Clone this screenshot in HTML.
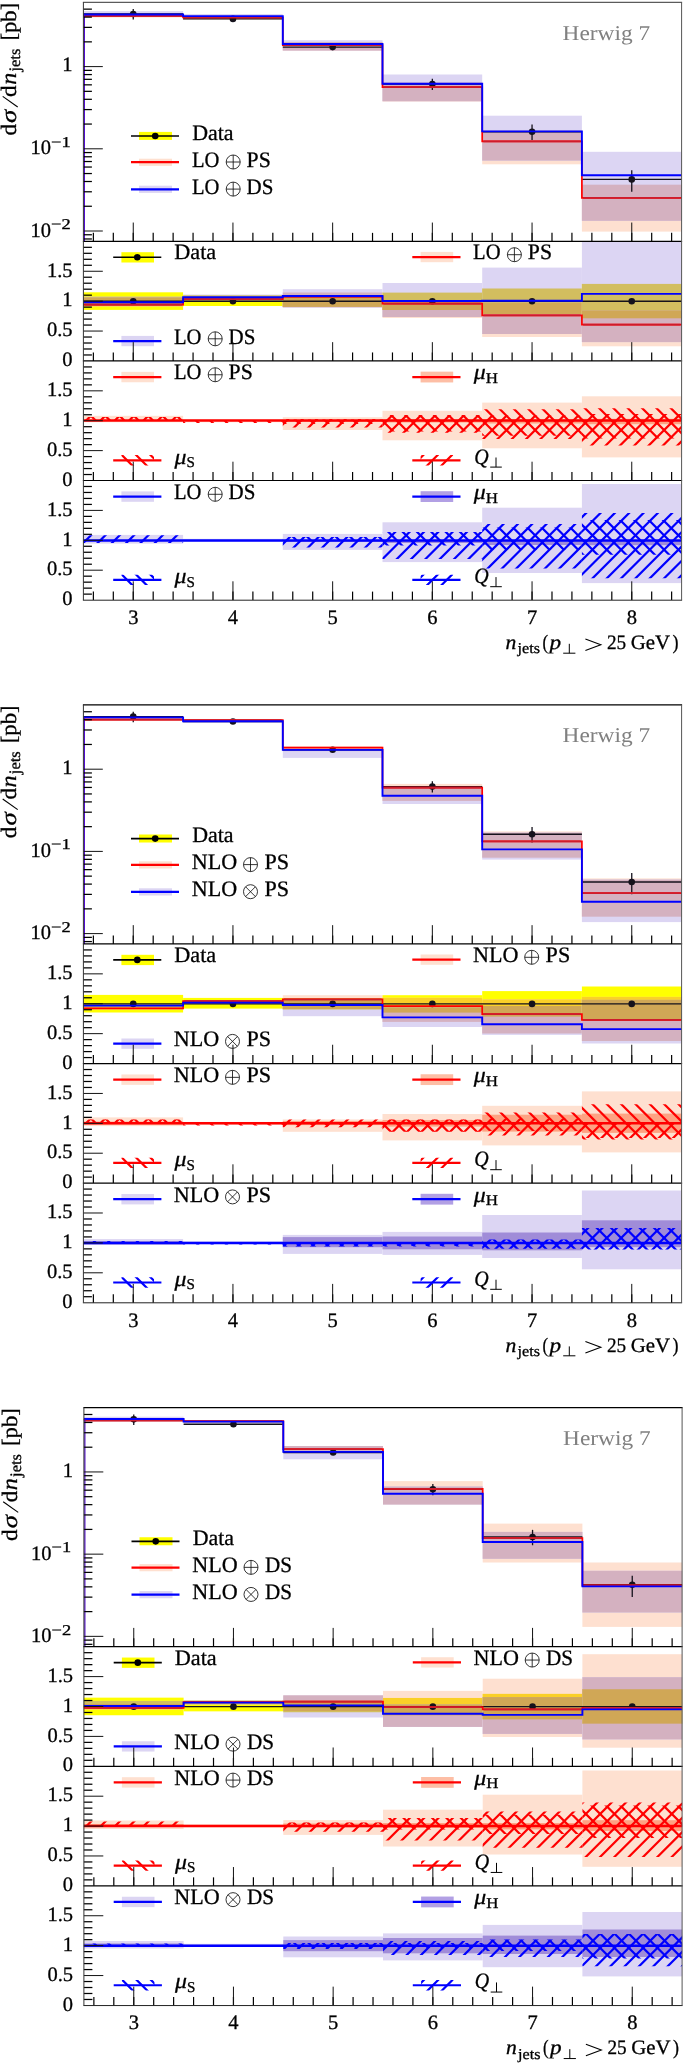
<!DOCTYPE html>
<html><head><meta charset="utf-8"><title>Herwig 7 jet multiplicity</title>
<style>html,body{margin:0;padding:0;background:#fff;}body{width:685px;height:2063px;overflow:hidden;font-family:"Liberation Serif",serif;}svg{display:block;will-change:transform;}</style></head>
<body>
<svg width="685" height="2063" viewBox="0 0 685 2063" font-family="'Liberation Serif', serif" text-rendering="geometricPrecision">
<rect x="0" y="0" width="685" height="2063" fill="#fff"/>
<g transform="translate(0,0)">
<rect x="83.4" y="13.5" width="99.7" height="4" fill="rgb(254,224,208)"/>
<rect x="83.4" y="11.1" width="99.7" height="5.9" fill="rgb(220,213,243)"/>
<rect x="83.4" y="13.5" width="99.7" height="3.5" fill="rgb(212,177,192)"/>
<rect x="183.1" y="16.5" width="99.7" height="3.3" fill="rgb(254,224,208)"/>
<rect x="183.1" y="14" width="99.7" height="5" fill="rgb(220,213,243)"/>
<rect x="183.1" y="16.5" width="99.7" height="2.5" fill="rgb(212,177,192)"/>
<rect x="282.8" y="42" width="99.7" height="9" fill="rgb(254,224,208)"/>
<rect x="282.8" y="40.2" width="99.7" height="10.3" fill="rgb(220,213,243)"/>
<rect x="282.8" y="42" width="99.7" height="8.5" fill="rgb(212,177,192)"/>
<rect x="382.5" y="82.5" width="99.7" height="19.1" fill="rgb(254,224,208)"/>
<rect x="382.5" y="74.5" width="99.7" height="26.7" fill="rgb(220,213,243)"/>
<rect x="382.5" y="82.5" width="99.7" height="18.7" fill="rgb(212,177,192)"/>
<rect x="482.2" y="130.5" width="99.7" height="33.8" fill="rgb(254,224,208)"/>
<rect x="482.2" y="115.7" width="99.7" height="44.9" fill="rgb(220,213,243)"/>
<rect x="482.2" y="130.5" width="99.7" height="30.1" fill="rgb(212,177,192)"/>
<rect x="581.9" y="184.7" width="99.7" height="46.9" fill="rgb(254,224,208)"/>
<rect x="581.9" y="151.8" width="99.7" height="69" fill="rgb(220,213,243)"/>
<rect x="581.9" y="184.7" width="99.7" height="36.1" fill="rgb(212,177,192)"/>
<line x1="83.4" y1="14" x2="183.1" y2="14" stroke="#15121c" stroke-width="1.4"/>
<line x1="133.25" y1="9.1" x2="133.25" y2="19.6" stroke="#15121c" stroke-width="1.3"/>
<circle cx="133.25" cy="14" r="3.3" fill="#15121c"/>
<line x1="183.1" y1="18.9" x2="282.8" y2="18.9" stroke="#15121c" stroke-width="1.4"/>
<line x1="232.95" y1="16.5" x2="232.95" y2="21.5" stroke="#15121c" stroke-width="1.3"/>
<circle cx="232.95" cy="18.9" r="3.3" fill="#15121c"/>
<line x1="282.8" y1="47.1" x2="382.5" y2="47.1" stroke="#15121c" stroke-width="1.4"/>
<line x1="332.65" y1="45.3" x2="332.65" y2="49" stroke="#15121c" stroke-width="1.3"/>
<circle cx="332.65" cy="47.1" r="3.3" fill="#15121c"/>
<line x1="382.5" y1="84" x2="482.2" y2="84" stroke="#15121c" stroke-width="1.4"/>
<line x1="432.35" y1="78.7" x2="432.35" y2="90" stroke="#15121c" stroke-width="1.3"/>
<circle cx="432.35" cy="84" r="3.3" fill="#15121c"/>
<line x1="482.2" y1="131.7" x2="581.9" y2="131.7" stroke="#15121c" stroke-width="1.4"/>
<line x1="532.05" y1="124.5" x2="532.05" y2="139.9" stroke="#15121c" stroke-width="1.3"/>
<circle cx="532.05" cy="131.7" r="3.3" fill="#15121c"/>
<line x1="581.9" y1="179.4" x2="681.6" y2="179.4" stroke="#15121c" stroke-width="1.4"/>
<line x1="631.75" y1="170.3" x2="631.75" y2="191.7" stroke="#15121c" stroke-width="1.3"/>
<circle cx="631.75" cy="179.4" r="3.3" fill="#15121c"/>
<path d="M83.4 15.9L83.4 15.9L183.1 15.9L183.1 17.5L282.8 17.5L282.8 45.2L382.5 45.2L382.5 87.1L482.2 87.1L482.2 141.4L581.9 141.4L581.9 197.9L681.6 197.9" fill="none" stroke="#ff0000" stroke-width="1.7" stroke-linejoin="miter"/>
<line x1="84.6" y1="15.9" x2="181.9" y2="15.9" stroke="rgb(206,28,44)" stroke-width="1.7"/>
<line x1="184.3" y1="17.5" x2="281.6" y2="17.5" stroke="rgb(206,28,44)" stroke-width="1.7"/>
<line x1="284" y1="45.2" x2="381.3" y2="45.2" stroke="rgb(206,28,44)" stroke-width="1.7"/>
<line x1="383.7" y1="87.1" x2="481" y2="87.1" stroke="rgb(206,28,44)" stroke-width="1.7"/>
<line x1="483.4" y1="141.4" x2="580.7" y2="141.4" stroke="rgb(206,28,44)" stroke-width="1.7"/>
<line x1="583.1" y1="197.9" x2="680.4" y2="197.9" stroke="rgb(206,28,44)" stroke-width="1.7"/>
<path d="M83.4 14.5L83.4 14.5L183.1 14.5L183.1 16.1L282.8 16.1L282.8 44L382.5 44L382.5 83.8L482.2 83.8L482.2 131.4L581.9 131.4L581.9 175.3L681.6 175.3" fill="none" stroke="#0000ff" stroke-width="1.9" stroke-linejoin="miter"/>
<line x1="84.35" y1="14.5" x2="84.35" y2="241.35" stroke="#4a00d0" stroke-width="1.2"/>
<rect x="139" y="131.9" width="33" height="8" fill="#ffff00"/>
<line x1="131" y1="136" x2="179" y2="136" stroke="#000" stroke-width="1.6"/>
<circle cx="155.2" cy="136" r="3.3" fill="#000"/>
<text x="192.2" y="139.8" font-size="22" textLength="41.4" lengthAdjust="spacingAndGlyphs" stroke="#000" stroke-width="0.3">Data</text>
<rect x="139" y="158.7" width="33" height="7.2" fill="rgb(254,224,208)"/>
<line x1="131" y1="162.2" x2="179" y2="162.2" stroke="#ff0000" stroke-width="2.2"/>
<text x="191.9" y="166.7" font-size="22" textLength="27.4" lengthAdjust="spacingAndGlyphs" stroke="#000" stroke-width="0.3">LO</text>
<circle cx="233.2" cy="162" r="7" fill="none" stroke="#111" stroke-width="0.85"/>
<line x1="226.2" y1="162" x2="240.2" y2="162" stroke="#111" stroke-width="0.85"/>
<line x1="233.2" y1="155" x2="233.2" y2="169" stroke="#111" stroke-width="0.85"/>
<text x="246.6" y="166.7" font-size="22" textLength="24.2" lengthAdjust="spacingAndGlyphs" stroke="#000" stroke-width="0.3">PS</text>
<rect x="139" y="185.7" width="33" height="7.2" fill="rgb(220,213,243)"/>
<line x1="131" y1="189.3" x2="179" y2="189.3" stroke="#0000ff" stroke-width="2.2"/>
<text x="191.9" y="193.8" font-size="22" textLength="27.4" lengthAdjust="spacingAndGlyphs" stroke="#000" stroke-width="0.3">LO</text>
<circle cx="233.2" cy="189.1" r="7" fill="none" stroke="#111" stroke-width="0.85"/>
<line x1="226.2" y1="189.1" x2="240.2" y2="189.1" stroke="#111" stroke-width="0.85"/>
<line x1="233.2" y1="182.1" x2="233.2" y2="196.1" stroke="#111" stroke-width="0.85"/>
<text x="246.6" y="193.8" font-size="22" textLength="26.8" lengthAdjust="spacingAndGlyphs" stroke="#000" stroke-width="0.3">DS</text>
<text x="650.2" y="39.6" font-size="21" text-anchor="end" fill="#808080" textLength="87.6" lengthAdjust="spacingAndGlyphs">Herwig 7</text>
<rect x="83.4" y="292.3" width="99.7" height="17.6" fill="rgb(255,255,0)"/>
<rect x="83.4" y="297.5" width="99.7" height="9" fill="rgb(254,224,208)"/>
<rect x="83.4" y="296.7" width="99.7" height="9.3" fill="rgb(220,213,243)"/>
<rect x="83.4" y="297.5" width="99.7" height="9" fill="rgb(250,208,40)"/>
<rect x="83.4" y="296.7" width="99.7" height="9.3" fill="rgb(210,190,95)"/>
<rect x="83.4" y="297.5" width="99.7" height="8.5" fill="rgb(212,177,192)"/>
<rect x="83.4" y="297.5" width="99.7" height="8.5" fill="rgb(208,167,86)"/>
<rect x="183.1" y="295.3" width="99.7" height="10.7" fill="rgb(255,255,0)"/>
<rect x="183.1" y="297" width="99.7" height="4.5" fill="rgb(254,224,208)"/>
<rect x="183.1" y="294.5" width="99.7" height="6" fill="rgb(220,213,243)"/>
<rect x="183.1" y="297" width="99.7" height="4.5" fill="rgb(250,208,40)"/>
<rect x="183.1" y="295.3" width="99.7" height="5.2" fill="rgb(210,190,95)"/>
<rect x="183.1" y="297" width="99.7" height="3.5" fill="rgb(212,177,192)"/>
<rect x="183.1" y="297" width="99.7" height="3.5" fill="rgb(208,167,86)"/>
<rect x="282.8" y="295.4" width="99.7" height="11.5" fill="rgb(255,255,0)"/>
<rect x="282.8" y="292.5" width="99.7" height="14.8" fill="rgb(254,224,208)"/>
<rect x="282.8" y="289.2" width="99.7" height="18.4" fill="rgb(220,213,243)"/>
<rect x="282.8" y="295.4" width="99.7" height="11.5" fill="rgb(250,208,40)"/>
<rect x="282.8" y="295.4" width="99.7" height="11.5" fill="rgb(210,190,95)"/>
<rect x="282.8" y="292.5" width="99.7" height="14.8" fill="rgb(212,177,192)"/>
<rect x="282.8" y="295.4" width="99.7" height="11.5" fill="rgb(208,167,86)"/>
<rect x="382.5" y="292.6" width="99.7" height="17.4" fill="rgb(255,255,0)"/>
<rect x="382.5" y="301.5" width="99.7" height="16.5" fill="rgb(254,224,208)"/>
<rect x="382.5" y="283" width="99.7" height="34" fill="rgb(220,213,243)"/>
<rect x="382.5" y="301.5" width="99.7" height="8.5" fill="rgb(250,208,40)"/>
<rect x="382.5" y="292.6" width="99.7" height="17.4" fill="rgb(210,190,95)"/>
<rect x="382.5" y="301.5" width="99.7" height="15.5" fill="rgb(212,177,192)"/>
<rect x="382.5" y="301.5" width="99.7" height="8.5" fill="rgb(208,167,86)"/>
<rect x="482.2" y="288.5" width="99.7" height="25.5" fill="rgb(255,255,0)"/>
<rect x="482.2" y="302.8" width="99.7" height="34.2" fill="rgb(254,224,208)"/>
<rect x="482.2" y="267.6" width="99.7" height="66.4" fill="rgb(220,213,243)"/>
<rect x="482.2" y="302.8" width="99.7" height="11.2" fill="rgb(250,208,40)"/>
<rect x="482.2" y="288.5" width="99.7" height="25.5" fill="rgb(210,190,95)"/>
<rect x="482.2" y="302.8" width="99.7" height="31.2" fill="rgb(212,177,192)"/>
<rect x="482.2" y="302.8" width="99.7" height="11.2" fill="rgb(208,167,86)"/>
<rect x="581.9" y="283.9" width="99.7" height="34.4" fill="rgb(255,255,0)"/>
<rect x="581.9" y="310.5" width="99.7" height="35.8" fill="rgb(254,224,208)"/>
<rect x="581.9" y="241.95" width="99.7" height="100.15" fill="rgb(220,213,243)"/>
<rect x="581.9" y="310.5" width="99.7" height="7.8" fill="rgb(250,208,40)"/>
<rect x="581.9" y="283.9" width="99.7" height="34.4" fill="rgb(210,190,95)"/>
<rect x="581.9" y="310.5" width="99.7" height="31.6" fill="rgb(212,177,192)"/>
<rect x="581.9" y="310.5" width="99.7" height="7.8" fill="rgb(208,167,86)"/>
<line x1="83.4" y1="301.3" x2="681.6" y2="301.3" stroke="#15121c" stroke-width="1.4"/>
<circle cx="133.25" cy="301.3" r="3.3" fill="#15121c"/>
<circle cx="232.95" cy="301.3" r="3.3" fill="#15121c"/>
<circle cx="332.65" cy="301.3" r="3.3" fill="#15121c"/>
<circle cx="432.35" cy="301.3" r="3.3" fill="#15121c"/>
<circle cx="532.05" cy="301.3" r="3.3" fill="#15121c"/>
<circle cx="631.75" cy="301.3" r="3.3" fill="#15121c"/>
<path d="M83.4 304.6L83.4 304.6L183.1 304.6L183.1 299.2L282.8 299.2L282.8 296.6L382.5 296.6L382.5 303.7L482.2 303.7L482.2 315.4L581.9 315.4L581.9 324.7L681.6 324.7" fill="none" stroke="#ff0000" stroke-width="1.7" stroke-linejoin="miter"/>
<line x1="84.6" y1="304.6" x2="181.9" y2="304.6" stroke="rgb(206,28,44)" stroke-width="1.7"/>
<line x1="184.3" y1="299.2" x2="281.6" y2="299.2" stroke="rgb(206,28,44)" stroke-width="1.7"/>
<line x1="284" y1="296.6" x2="381.3" y2="296.6" stroke="rgb(206,28,44)" stroke-width="1.7"/>
<line x1="383.7" y1="303.7" x2="481" y2="303.7" stroke="rgb(206,28,44)" stroke-width="1.7"/>
<line x1="483.4" y1="315.4" x2="580.7" y2="315.4" stroke="rgb(206,28,44)" stroke-width="1.7"/>
<line x1="583.1" y1="324.7" x2="680.4" y2="324.7" stroke="rgb(206,28,44)" stroke-width="1.7"/>
<path d="M83.4 302.2L83.4 302.2L183.1 302.2L183.1 297.2L282.8 297.2L282.8 296L382.5 296L382.5 301L482.2 301L482.2 300.7L581.9 300.7L581.9 293.9L681.6 293.9" fill="none" stroke="#0000ff" stroke-width="1.9" stroke-linejoin="miter"/>
<rect x="121.4" y="252.2" width="32.6" height="10.3" fill="#ffff00"/>
<line x1="113.2" y1="257.3" x2="161.3" y2="257.3" stroke="#000" stroke-width="1.6"/>
<circle cx="137.3" cy="257.3" r="3.3" fill="#000"/>
<text x="174.2" y="259.4" font-size="22" textLength="42" lengthAdjust="spacingAndGlyphs" stroke="#000" stroke-width="0.3">Data</text>
<rect x="420.6" y="251.9" width="32.6" height="10.3" fill="rgb(254,224,208)"/>
<line x1="412.3" y1="257.1" x2="460.5" y2="257.1" stroke="#ff0000" stroke-width="2.2"/>
<text x="473.1" y="259.4" font-size="22" textLength="27.4" lengthAdjust="spacingAndGlyphs" stroke="#000" stroke-width="0.3">LO</text>
<circle cx="514.4" cy="254.7" r="7" fill="none" stroke="#111" stroke-width="0.85"/>
<line x1="507.4" y1="254.7" x2="521.4" y2="254.7" stroke="#111" stroke-width="0.85"/>
<line x1="514.4" y1="247.7" x2="514.4" y2="261.7" stroke="#111" stroke-width="0.85"/>
<text x="527.8" y="259.4" font-size="22" textLength="24.2" lengthAdjust="spacingAndGlyphs" stroke="#000" stroke-width="0.3">PS</text>
<rect x="121.4" y="335.9" width="32.6" height="10.3" fill="rgb(220,213,243)"/>
<line x1="113.2" y1="341.1" x2="161.4" y2="341.1" stroke="#0000ff" stroke-width="2.2"/>
<text x="173.9" y="343.5" font-size="22" textLength="27.4" lengthAdjust="spacingAndGlyphs" stroke="#000" stroke-width="0.3">LO</text>
<circle cx="215.2" cy="338.8" r="7" fill="none" stroke="#111" stroke-width="0.85"/>
<line x1="208.2" y1="338.8" x2="222.2" y2="338.8" stroke="#111" stroke-width="0.85"/>
<line x1="215.2" y1="331.8" x2="215.2" y2="345.8" stroke="#111" stroke-width="0.85"/>
<text x="228.6" y="343.5" font-size="22" textLength="26.8" lengthAdjust="spacingAndGlyphs" stroke="#000" stroke-width="0.3">DS</text>
<rect x="83.4" y="415.8" width="99.7" height="6.5" fill="rgb(254,224,208)"/>
<rect x="183.1" y="419.3" width="99.7" height="3" fill="rgb(254,224,208)"/>
<rect x="282.8" y="417.2" width="99.7" height="12.8" fill="rgb(254,224,208)"/>
<rect x="382.5" y="410.8" width="99.7" height="29.5" fill="rgb(254,224,208)"/>
<rect x="482.2" y="402.6" width="99.7" height="45.7" fill="rgb(254,224,208)"/>
<rect x="581.9" y="396.3" width="99.7" height="61.1" fill="rgb(254,224,208)"/>
<rect x="282.8" y="420" width="99.7" height="2" fill="rgb(254,162,130)"/>
<rect x="382.5" y="419.5" width="99.7" height="3" fill="rgb(254,162,130)"/>
<rect x="482.2" y="419.2" width="99.7" height="4.3" fill="rgb(254,162,130)"/>
<rect x="581.9" y="418.8" width="99.7" height="5.4" fill="rgb(254,162,130)"/>
<clipPath id="c1"><rect x="83.4" y="417" width="99.7" height="4"/></clipPath>
<path clip-path="url(#c1)" d="M75.82 415L83.82 423M90.15 415L98.15 423M104.48 415L112.48 423M118.81 415L126.81 423M133.14 415L141.14 423M147.47 415L155.47 423M161.8 415L169.8 423M176.13 415L184.13 423" fill="none" stroke="#ff0000" stroke-width="2.2"/>
<clipPath id="c2"><rect x="83.4" y="417" width="99.7" height="4"/></clipPath>
<path clip-path="url(#c2)" d="M91.68 415L83.68 423M106.01 415L98.01 423M120.34 415L112.34 423M134.67 415L126.67 423M149 415L141 423M163.33 415L155.33 423M177.66 415L169.66 423" fill="none" stroke="#ff0000" stroke-width="2.2"/>
<clipPath id="c3"><rect x="183.1" y="420" width="99.7" height="3"/></clipPath>
<path clip-path="url(#c3)" d="M179.13 418L186.13 425M193.46 418L200.46 425M207.79 418L214.79 425M222.12 418L229.12 425M236.45 418L243.45 425M250.78 418L257.78 425M265.11 418L272.11 425M279.44 418L286.44 425" fill="none" stroke="#ff0000" stroke-width="2.2"/>
<clipPath id="c4"><rect x="282.8" y="419.5" width="99.7" height="4.5"/></clipPath>
<path clip-path="url(#c4)" d="M278.94 417.5L287.44 426M293.27 417.5L301.77 426M307.6 417.5L316.1 426M321.93 417.5L330.43 426M336.26 417.5L344.76 426M350.59 417.5L359.09 426M364.92 417.5L373.42 426M379.25 417.5L387.75 426" fill="none" stroke="#ff0000" stroke-width="2.2"/>
<clipPath id="c5"><rect x="282.8" y="419" width="99.7" height="8.4"/></clipPath>
<path clip-path="url(#c5)" d="M290.3 417L277.9 429.4M304.63 417L292.23 429.4M318.96 417L306.56 429.4M333.29 417L320.89 429.4M347.62 417L335.22 429.4M361.95 417L349.55 429.4M376.28 417L363.88 429.4M390.61 417L378.21 429.4" fill="none" stroke="#ff0000" stroke-width="2.2"/>
<clipPath id="c6"><rect x="382.5" y="415.1" width="99.7" height="16.4"/></clipPath>
<path clip-path="url(#c6)" d="M374.85 413.1L395.25 433.5M389.18 413.1L409.58 433.5M403.51 413.1L423.91 433.5M417.84 413.1L438.24 433.5M432.17 413.1L452.57 433.5M446.5 413.1L466.9 433.5M460.83 413.1L481.23 433.5M475.16 413.1L495.56 433.5" fill="none" stroke="#ff0000" stroke-width="2.2"/>
<clipPath id="c7"><rect x="382.5" y="415.3" width="99.7" height="17.4"/></clipPath>
<path clip-path="url(#c7)" d="M394.31 413.3L372.91 434.7M408.64 413.3L387.24 434.7M422.97 413.3L401.57 434.7M437.3 413.3L415.9 434.7M451.63 413.3L430.23 434.7M465.96 413.3L444.56 434.7M480.29 413.3L458.89 434.7M494.62 413.3L473.22 434.7" fill="none" stroke="#ff0000" stroke-width="2.2"/>
<clipPath id="c8"><rect x="482.2" y="409.3" width="99.7" height="26.5"/></clipPath>
<path clip-path="url(#c8)" d="M455.03 407.3L485.53 437.8M469.36 407.3L499.86 437.8M483.69 407.3L514.19 437.8M498.02 407.3L528.52 437.8M512.35 407.3L542.85 437.8M526.68 407.3L557.18 437.8M541.01 407.3L571.51 437.8M555.34 407.3L585.84 437.8M569.67 407.3L600.17 437.8" fill="none" stroke="#ff0000" stroke-width="2.2"/>
<clipPath id="c9"><rect x="482.2" y="415.6" width="99.7" height="23.4"/></clipPath>
<path clip-path="url(#c9)" d="M494.32 413.6L466.92 441M508.65 413.6L481.25 441M522.98 413.6L495.58 441M537.31 413.6L509.91 441M551.64 413.6L524.24 441M565.97 413.6L538.57 441M580.3 413.6L552.9 441M594.63 413.6L567.23 441M608.96 413.6L581.56 441" fill="none" stroke="#ff0000" stroke-width="2.2"/>
<clipPath id="c10"><rect x="581.9" y="408.3" width="99.7" height="30.1"/></clipPath>
<path clip-path="url(#c10)" d="M554.34 406.3L588.44 440.4M568.67 406.3L602.77 440.4M583 406.3L617.1 440.4M597.33 406.3L631.43 440.4M611.66 406.3L645.76 440.4M625.99 406.3L660.09 440.4M640.32 406.3L674.42 440.4M654.65 406.3L688.75 440.4M668.98 406.3L703.08 440.4" fill="none" stroke="#ff0000" stroke-width="2.2"/>
<clipPath id="c11"><rect x="581.9" y="414.1" width="99.7" height="31.5"/></clipPath>
<path clip-path="url(#c11)" d="M596.13 412.1L560.63 447.6M610.46 412.1L574.96 447.6M624.79 412.1L589.29 447.6M639.12 412.1L603.62 447.6M653.45 412.1L617.95 447.6M667.78 412.1L632.28 447.6M682.11 412.1L646.61 447.6M696.44 412.1L660.94 447.6M710.77 412.1L675.27 447.6" fill="none" stroke="#ff0000" stroke-width="2.2"/>
<line x1="83.4" y1="420.6" x2="681.6" y2="420.6" stroke="#ff0000" stroke-width="2.5"/>
<rect x="121.4" y="371.85" width="32.6" height="10.4" fill="rgb(254,224,208)"/>
<line x1="113.2" y1="377.05" x2="161.4" y2="377.05" stroke="#ff0000" stroke-width="2.2"/>
<text x="173.9" y="379.45" font-size="22" textLength="27.4" lengthAdjust="spacingAndGlyphs" stroke="#000" stroke-width="0.3">LO</text>
<circle cx="215.2" cy="374.75" r="7" fill="none" stroke="#111" stroke-width="0.85"/>
<line x1="208.2" y1="374.75" x2="222.2" y2="374.75" stroke="#111" stroke-width="0.85"/>
<line x1="215.2" y1="367.75" x2="215.2" y2="381.75" stroke="#111" stroke-width="0.85"/>
<text x="228.6" y="379.45" font-size="22" textLength="24.2" lengthAdjust="spacingAndGlyphs" stroke="#000" stroke-width="0.3">PS</text>
<rect x="420.6" y="371.65" width="32.6" height="10.8" fill="rgb(253,190,165)"/>
<line x1="412.3" y1="377.05" x2="460.5" y2="377.05" stroke="#ff0000" stroke-width="2.2"/>
<text x="473.8" y="379.45" font-size="22" font-style="italic" textLength="12" lengthAdjust="spacingAndGlyphs" stroke="#000" stroke-width="0.3">μ</text>
<text x="485.8" y="383.05" font-size="15" textLength="12.2" lengthAdjust="spacingAndGlyphs" stroke="#000" stroke-width="0.3">H</text>
<clipPath id="c12"><rect x="121.4" y="455.1" width="32.6" height="10.4"/></clipPath>
<path clip-path="url(#c12)" d="M119.9 453.1L134.3 467.5M134.23 453.1L148.63 467.5M148.56 453.1L162.96 467.5" fill="none" stroke="#ff0000" stroke-width="2.2"/>
<line x1="113.2" y1="460.3" x2="161.4" y2="460.3" stroke="#ff0000" stroke-width="2.2"/>
<text x="174.4" y="463.5" font-size="22" font-style="italic" textLength="12" lengthAdjust="spacingAndGlyphs" stroke="#000" stroke-width="0.3">μ</text>
<text x="186.4" y="467.1" font-size="15" textLength="8.4" lengthAdjust="spacingAndGlyphs" stroke="#000" stroke-width="0.3">S</text>
<clipPath id="c13"><rect x="420.6" y="455.1" width="32.6" height="10.4"/></clipPath>
<path clip-path="url(#c13)" d="M425.27 453.1L410.87 467.5M439.6 453.1L425.2 467.5M453.93 453.1L439.53 467.5" fill="none" stroke="#ff0000" stroke-width="2.2"/>
<line x1="412.3" y1="460.3" x2="460.5" y2="460.3" stroke="#ff0000" stroke-width="2.2"/>
<text x="474.2" y="463.5" font-size="22" font-style="italic" textLength="14.4" lengthAdjust="spacingAndGlyphs" stroke="#000" stroke-width="0.3">Q</text>
<line x1="490.2" y1="467.1" x2="501.8" y2="467.1" stroke="#000" stroke-width="1"/>
<line x1="496" y1="457.5" x2="496" y2="467.1" stroke="#000" stroke-width="1"/>
<rect x="83.4" y="534.9" width="99.7" height="8.7" fill="rgb(220,213,243)"/>
<rect x="183.1" y="538.8" width="99.7" height="2.7" fill="rgb(220,213,243)"/>
<rect x="282.8" y="533.9" width="99.7" height="16" fill="rgb(220,213,243)"/>
<rect x="382.5" y="522.3" width="99.7" height="39.8" fill="rgb(220,213,243)"/>
<rect x="482.2" y="507.7" width="99.7" height="65.3" fill="rgb(220,213,243)"/>
<rect x="581.9" y="484" width="99.7" height="99.1" fill="rgb(220,213,243)"/>
<rect x="282.8" y="540" width="99.7" height="2" fill="rgb(160,140,216)"/>
<rect x="382.5" y="540" width="99.7" height="3" fill="rgb(160,140,216)"/>
<rect x="482.2" y="540" width="99.7" height="5" fill="rgb(160,140,216)"/>
<rect x="581.9" y="540" width="99.7" height="5.2" fill="rgb(160,140,216)"/>
<clipPath id="c14"><rect x="83.4" y="535.2" width="99.7" height="7.8"/></clipPath>
<path clip-path="url(#c14)" d="M93.08 533.2L81.28 545M107.41 533.2L95.61 545M121.74 533.2L109.94 545M136.07 533.2L124.27 545M150.4 533.2L138.6 545M164.73 533.2L152.93 545M179.06 533.2L167.26 545M193.39 533.2L181.59 545" fill="none" stroke="#0000ff" stroke-width="2.2"/>
<clipPath id="c15"><rect x="282.8" y="537" width="99.7" height="4"/></clipPath>
<path clip-path="url(#c15)" d="M276.84 535L284.84 543M291.17 535L299.17 543M305.5 535L313.5 543M319.83 535L327.83 543M334.16 535L342.16 543M348.49 535L356.49 543M362.82 535L370.82 543M377.15 535L385.15 543" fill="none" stroke="#0000ff" stroke-width="2.2"/>
<clipPath id="c16"><rect x="282.8" y="537" width="99.7" height="10.4"/></clipPath>
<path clip-path="url(#c16)" d="M291.9 535L277.5 549.4M306.23 535L291.83 549.4M320.56 535L306.16 549.4M334.89 535L320.49 549.4M349.22 535L334.82 549.4M363.55 535L349.15 549.4M377.88 535L363.48 549.4M392.21 535L377.81 549.4" fill="none" stroke="#0000ff" stroke-width="2.2"/>
<clipPath id="c17"><rect x="382.5" y="532.1" width="99.7" height="13.4"/></clipPath>
<path clip-path="url(#c17)" d="M372.25 530.1L389.65 547.5M386.58 530.1L403.98 547.5M400.91 530.1L418.31 547.5M415.24 530.1L432.64 547.5M429.57 530.1L446.97 547.5M443.9 530.1L461.3 547.5M458.23 530.1L475.63 547.5M472.56 530.1L489.96 547.5" fill="none" stroke="#0000ff" stroke-width="2.2"/>
<clipPath id="c18"><rect x="382.5" y="532" width="99.7" height="27"/></clipPath>
<path clip-path="url(#c18)" d="M382.88 530L351.88 561M397.21 530L366.21 561M411.54 530L380.54 561M425.87 530L394.87 561M440.2 530L409.2 561M454.53 530L423.53 561M468.86 530L437.86 561M483.19 530L452.19 561M497.52 530L466.52 561M511.85 530L480.85 561" fill="none" stroke="#0000ff" stroke-width="2.2"/>
<clipPath id="c19"><rect x="482.2" y="527.4" width="99.7" height="22.6"/></clipPath>
<path clip-path="url(#c19)" d="M467.86 525.4L494.46 552M482.19 525.4L508.79 552M496.52 525.4L523.12 552M510.85 525.4L537.45 552M525.18 525.4L551.78 552M539.51 525.4L566.11 552M553.84 525.4L580.44 552M568.17 525.4L594.77 552" fill="none" stroke="#0000ff" stroke-width="2.2"/>
<clipPath id="c20"><rect x="482.2" y="524" width="99.7" height="44.4"/></clipPath>
<path clip-path="url(#c20)" d="M491.19 522L442.79 570.4M505.52 522L457.12 570.4M519.85 522L471.45 570.4M534.18 522L485.78 570.4M548.51 522L500.11 570.4M562.84 522L514.44 570.4M577.17 522L528.77 570.4M591.5 522L543.1 570.4M605.83 522L557.43 570.4M620.16 522L571.76 570.4" fill="none" stroke="#0000ff" stroke-width="2.2"/>
<clipPath id="c21"><rect x="581.9" y="520.1" width="99.7" height="34.6"/></clipPath>
<path clip-path="url(#c21)" d="M546.54 518.1L585.14 556.7M560.87 518.1L599.47 556.7M575.2 518.1L613.8 556.7M589.53 518.1L628.13 556.7M603.86 518.1L642.46 556.7M618.19 518.1L656.79 556.7M632.52 518.1L671.12 556.7M646.85 518.1L685.45 556.7M661.18 518.1L699.78 556.7M675.51 518.1L714.11 556.7" fill="none" stroke="#0000ff" stroke-width="2.2"/>
<clipPath id="c22"><rect x="581.9" y="512.9" width="99.7" height="65.4"/></clipPath>
<path clip-path="url(#c22)" d="M588.27 510.9L518.87 580.3M602.6 510.9L533.2 580.3M616.93 510.9L547.53 580.3M631.26 510.9L561.86 580.3M645.59 510.9L576.19 580.3M659.92 510.9L590.52 580.3M674.25 510.9L604.85 580.3M688.58 510.9L619.18 580.3M702.91 510.9L633.51 580.3M717.24 510.9L647.84 580.3M731.57 510.9L662.17 580.3M745.9 510.9L676.5 580.3" fill="none" stroke="#0000ff" stroke-width="2.2"/>
<line x1="83.4" y1="540.4" x2="681.6" y2="540.4" stroke="#0000ff" stroke-width="2.5"/>
<rect x="121.4" y="491.4" width="32.6" height="10.4" fill="rgb(220,213,243)"/>
<line x1="113.2" y1="496.6" x2="161.4" y2="496.6" stroke="#0000ff" stroke-width="2.2"/>
<text x="173.9" y="499" font-size="22" textLength="27.4" lengthAdjust="spacingAndGlyphs" stroke="#000" stroke-width="0.3">LO</text>
<circle cx="215.2" cy="494.3" r="7" fill="none" stroke="#111" stroke-width="0.85"/>
<line x1="208.2" y1="494.3" x2="222.2" y2="494.3" stroke="#111" stroke-width="0.85"/>
<line x1="215.2" y1="487.3" x2="215.2" y2="501.3" stroke="#111" stroke-width="0.85"/>
<text x="228.6" y="499" font-size="22" textLength="26.8" lengthAdjust="spacingAndGlyphs" stroke="#000" stroke-width="0.3">DS</text>
<rect x="420.6" y="491.2" width="32.6" height="10.8" fill="rgb(178,160,228)"/>
<line x1="412.3" y1="496.6" x2="460.5" y2="496.6" stroke="#0000ff" stroke-width="2.2"/>
<text x="473.8" y="499" font-size="22" font-style="italic" textLength="12" lengthAdjust="spacingAndGlyphs" stroke="#000" stroke-width="0.3">μ</text>
<text x="485.8" y="502.6" font-size="15" textLength="12.2" lengthAdjust="spacingAndGlyphs" stroke="#000" stroke-width="0.3">H</text>
<clipPath id="c23"><rect x="121.4" y="574.7" width="32.6" height="10.4"/></clipPath>
<path clip-path="url(#c23)" d="M119.9 572.7L134.3 587.1M134.23 572.7L148.63 587.1M148.56 572.7L162.96 587.1" fill="none" stroke="#0000ff" stroke-width="2.2"/>
<line x1="113.2" y1="579.9" x2="161.4" y2="579.9" stroke="#0000ff" stroke-width="2.2"/>
<text x="174.4" y="583.1" font-size="22" font-style="italic" textLength="12" lengthAdjust="spacingAndGlyphs" stroke="#000" stroke-width="0.3">μ</text>
<text x="186.4" y="586.7" font-size="15" textLength="8.4" lengthAdjust="spacingAndGlyphs" stroke="#000" stroke-width="0.3">S</text>
<clipPath id="c24"><rect x="420.6" y="574.7" width="32.6" height="10.4"/></clipPath>
<path clip-path="url(#c24)" d="M425.27 572.7L410.87 587.1M439.6 572.7L425.2 587.1M453.93 572.7L439.53 587.1" fill="none" stroke="#0000ff" stroke-width="2.2"/>
<line x1="412.3" y1="579.9" x2="460.5" y2="579.9" stroke="#0000ff" stroke-width="2.2"/>
<text x="474.2" y="583.1" font-size="22" font-style="italic" textLength="14.4" lengthAdjust="spacingAndGlyphs" stroke="#000" stroke-width="0.3">Q</text>
<line x1="490.2" y1="586.7" x2="501.8" y2="586.7" stroke="#000" stroke-width="1"/>
<line x1="496" y1="577.1" x2="496" y2="586.7" stroke="#000" stroke-width="1"/>
<line x1="83.4" y1="66.6" x2="102.8" y2="66.6" stroke="#111" stroke-width="1"/>
<line x1="83.4" y1="41.86" x2="91.9" y2="41.86" stroke="#000" stroke-width="1.25"/>
<line x1="83.4" y1="27.38" x2="91.9" y2="27.38" stroke="#000" stroke-width="1.25"/>
<line x1="83.4" y1="17.11" x2="91.9" y2="17.11" stroke="#000" stroke-width="1.25"/>
<line x1="83.4" y1="9.14" x2="91.9" y2="9.14" stroke="#000" stroke-width="1.25"/>
<line x1="83.4" y1="148.8" x2="102.8" y2="148.8" stroke="#111" stroke-width="1"/>
<line x1="83.4" y1="124.06" x2="91.9" y2="124.06" stroke="#000" stroke-width="1.25"/>
<line x1="83.4" y1="109.58" x2="91.9" y2="109.58" stroke="#000" stroke-width="1.25"/>
<line x1="83.4" y1="99.31" x2="91.9" y2="99.31" stroke="#000" stroke-width="1.25"/>
<line x1="83.4" y1="91.34" x2="91.9" y2="91.34" stroke="#000" stroke-width="1.25"/>
<line x1="83.4" y1="84.84" x2="91.9" y2="84.84" stroke="#000" stroke-width="1.25"/>
<line x1="83.4" y1="79.33" x2="91.9" y2="79.33" stroke="#000" stroke-width="1.25"/>
<line x1="83.4" y1="74.57" x2="91.9" y2="74.57" stroke="#000" stroke-width="1.25"/>
<line x1="83.4" y1="70.36" x2="91.9" y2="70.36" stroke="#000" stroke-width="1.25"/>
<line x1="83.4" y1="231" x2="102.8" y2="231" stroke="#111" stroke-width="1"/>
<line x1="83.4" y1="206.26" x2="91.9" y2="206.26" stroke="#000" stroke-width="1.25"/>
<line x1="83.4" y1="191.78" x2="91.9" y2="191.78" stroke="#000" stroke-width="1.25"/>
<line x1="83.4" y1="181.51" x2="91.9" y2="181.51" stroke="#000" stroke-width="1.25"/>
<line x1="83.4" y1="173.54" x2="91.9" y2="173.54" stroke="#000" stroke-width="1.25"/>
<line x1="83.4" y1="167.04" x2="91.9" y2="167.04" stroke="#000" stroke-width="1.25"/>
<line x1="83.4" y1="161.53" x2="91.9" y2="161.53" stroke="#000" stroke-width="1.25"/>
<line x1="83.4" y1="156.77" x2="91.9" y2="156.77" stroke="#000" stroke-width="1.25"/>
<line x1="83.4" y1="152.56" x2="91.9" y2="152.56" stroke="#000" stroke-width="1.25"/>
<line x1="83.4" y1="238.97" x2="91.9" y2="238.97" stroke="#000" stroke-width="1.25"/>
<line x1="83.4" y1="234.76" x2="91.9" y2="234.76" stroke="#000" stroke-width="1.25"/>
<line x1="83.4" y1="354.97" x2="91.9" y2="354.97" stroke="#000" stroke-width="1.25"/>
<line x1="83.4" y1="348.99" x2="91.9" y2="348.99" stroke="#000" stroke-width="1.25"/>
<line x1="83.4" y1="343.01" x2="91.9" y2="343.01" stroke="#000" stroke-width="1.25"/>
<line x1="83.4" y1="337.03" x2="91.9" y2="337.03" stroke="#000" stroke-width="1.25"/>
<line x1="83.4" y1="331.05" x2="102.8" y2="331.05" stroke="#111" stroke-width="1"/>
<line x1="83.4" y1="325.07" x2="91.9" y2="325.07" stroke="#000" stroke-width="1.25"/>
<line x1="83.4" y1="319.09" x2="91.9" y2="319.09" stroke="#000" stroke-width="1.25"/>
<line x1="83.4" y1="313.11" x2="91.9" y2="313.11" stroke="#000" stroke-width="1.25"/>
<line x1="83.4" y1="307.13" x2="91.9" y2="307.13" stroke="#000" stroke-width="1.25"/>
<line x1="83.4" y1="301.15" x2="102.8" y2="301.15" stroke="#111" stroke-width="1"/>
<line x1="83.4" y1="295.17" x2="91.9" y2="295.17" stroke="#000" stroke-width="1.25"/>
<line x1="83.4" y1="289.19" x2="91.9" y2="289.19" stroke="#000" stroke-width="1.25"/>
<line x1="83.4" y1="283.21" x2="91.9" y2="283.21" stroke="#000" stroke-width="1.25"/>
<line x1="83.4" y1="277.23" x2="91.9" y2="277.23" stroke="#000" stroke-width="1.25"/>
<line x1="83.4" y1="271.25" x2="102.8" y2="271.25" stroke="#111" stroke-width="1"/>
<line x1="83.4" y1="265.27" x2="91.9" y2="265.27" stroke="#000" stroke-width="1.25"/>
<line x1="83.4" y1="259.29" x2="91.9" y2="259.29" stroke="#000" stroke-width="1.25"/>
<line x1="83.4" y1="253.31" x2="91.9" y2="253.31" stroke="#000" stroke-width="1.25"/>
<line x1="83.4" y1="247.33" x2="91.9" y2="247.33" stroke="#000" stroke-width="1.25"/>
<line x1="83.4" y1="474.52" x2="91.9" y2="474.52" stroke="#000" stroke-width="1.25"/>
<line x1="83.4" y1="468.55" x2="91.9" y2="468.55" stroke="#000" stroke-width="1.25"/>
<line x1="83.4" y1="462.57" x2="91.9" y2="462.57" stroke="#000" stroke-width="1.25"/>
<line x1="83.4" y1="456.59" x2="91.9" y2="456.59" stroke="#000" stroke-width="1.25"/>
<line x1="83.4" y1="450.61" x2="102.8" y2="450.61" stroke="#111" stroke-width="1"/>
<line x1="83.4" y1="444.63" x2="91.9" y2="444.63" stroke="#000" stroke-width="1.25"/>
<line x1="83.4" y1="438.66" x2="91.9" y2="438.66" stroke="#000" stroke-width="1.25"/>
<line x1="83.4" y1="432.68" x2="91.9" y2="432.68" stroke="#000" stroke-width="1.25"/>
<line x1="83.4" y1="426.7" x2="91.9" y2="426.7" stroke="#000" stroke-width="1.25"/>
<line x1="83.4" y1="420.73" x2="102.8" y2="420.73" stroke="#111" stroke-width="1"/>
<line x1="83.4" y1="414.75" x2="91.9" y2="414.75" stroke="#000" stroke-width="1.25"/>
<line x1="83.4" y1="408.77" x2="91.9" y2="408.77" stroke="#000" stroke-width="1.25"/>
<line x1="83.4" y1="402.79" x2="91.9" y2="402.79" stroke="#000" stroke-width="1.25"/>
<line x1="83.4" y1="396.81" x2="91.9" y2="396.81" stroke="#000" stroke-width="1.25"/>
<line x1="83.4" y1="390.84" x2="102.8" y2="390.84" stroke="#111" stroke-width="1"/>
<line x1="83.4" y1="384.86" x2="91.9" y2="384.86" stroke="#000" stroke-width="1.25"/>
<line x1="83.4" y1="378.88" x2="91.9" y2="378.88" stroke="#000" stroke-width="1.25"/>
<line x1="83.4" y1="372.9" x2="91.9" y2="372.9" stroke="#000" stroke-width="1.25"/>
<line x1="83.4" y1="366.93" x2="91.9" y2="366.93" stroke="#000" stroke-width="1.25"/>
<line x1="83.4" y1="594.12" x2="91.9" y2="594.12" stroke="#000" stroke-width="1.25"/>
<line x1="83.4" y1="588.14" x2="91.9" y2="588.14" stroke="#000" stroke-width="1.25"/>
<line x1="83.4" y1="582.16" x2="91.9" y2="582.16" stroke="#000" stroke-width="1.25"/>
<line x1="83.4" y1="576.18" x2="91.9" y2="576.18" stroke="#000" stroke-width="1.25"/>
<line x1="83.4" y1="570.2" x2="102.8" y2="570.2" stroke="#111" stroke-width="1"/>
<line x1="83.4" y1="564.22" x2="91.9" y2="564.22" stroke="#000" stroke-width="1.25"/>
<line x1="83.4" y1="558.24" x2="91.9" y2="558.24" stroke="#000" stroke-width="1.25"/>
<line x1="83.4" y1="552.26" x2="91.9" y2="552.26" stroke="#000" stroke-width="1.25"/>
<line x1="83.4" y1="546.28" x2="91.9" y2="546.28" stroke="#000" stroke-width="1.25"/>
<line x1="83.4" y1="540.3" x2="102.8" y2="540.3" stroke="#111" stroke-width="1"/>
<line x1="83.4" y1="534.32" x2="91.9" y2="534.32" stroke="#000" stroke-width="1.25"/>
<line x1="83.4" y1="528.34" x2="91.9" y2="528.34" stroke="#000" stroke-width="1.25"/>
<line x1="83.4" y1="522.36" x2="91.9" y2="522.36" stroke="#000" stroke-width="1.25"/>
<line x1="83.4" y1="516.38" x2="91.9" y2="516.38" stroke="#000" stroke-width="1.25"/>
<line x1="83.4" y1="510.4" x2="102.8" y2="510.4" stroke="#111" stroke-width="1"/>
<line x1="83.4" y1="504.42" x2="91.9" y2="504.42" stroke="#000" stroke-width="1.25"/>
<line x1="83.4" y1="498.44" x2="91.9" y2="498.44" stroke="#000" stroke-width="1.25"/>
<line x1="83.4" y1="492.46" x2="91.9" y2="492.46" stroke="#000" stroke-width="1.25"/>
<line x1="83.4" y1="486.48" x2="91.9" y2="486.48" stroke="#000" stroke-width="1.25"/>
<line x1="93.37" y1="241.35" x2="93.37" y2="232.85" stroke="#000" stroke-width="1.2"/>
<line x1="113.31" y1="241.35" x2="113.31" y2="232.85" stroke="#000" stroke-width="1.2"/>
<line x1="133.25" y1="241.35" x2="133.25" y2="232.85" stroke="#000" stroke-width="1.2"/>
<line x1="153.19" y1="241.35" x2="153.19" y2="232.85" stroke="#000" stroke-width="1.2"/>
<line x1="173.13" y1="241.35" x2="173.13" y2="232.85" stroke="#000" stroke-width="1.2"/>
<line x1="193.07" y1="241.35" x2="193.07" y2="232.85" stroke="#000" stroke-width="1.2"/>
<line x1="213.01" y1="241.35" x2="213.01" y2="232.85" stroke="#000" stroke-width="1.2"/>
<line x1="232.95" y1="241.35" x2="232.95" y2="232.85" stroke="#000" stroke-width="1.2"/>
<line x1="252.89" y1="241.35" x2="252.89" y2="232.85" stroke="#000" stroke-width="1.2"/>
<line x1="272.83" y1="241.35" x2="272.83" y2="232.85" stroke="#000" stroke-width="1.2"/>
<line x1="292.77" y1="241.35" x2="292.77" y2="232.85" stroke="#000" stroke-width="1.2"/>
<line x1="312.71" y1="241.35" x2="312.71" y2="232.85" stroke="#000" stroke-width="1.2"/>
<line x1="332.65" y1="241.35" x2="332.65" y2="232.85" stroke="#000" stroke-width="1.2"/>
<line x1="352.59" y1="241.35" x2="352.59" y2="232.85" stroke="#000" stroke-width="1.2"/>
<line x1="372.53" y1="241.35" x2="372.53" y2="232.85" stroke="#000" stroke-width="1.2"/>
<line x1="392.47" y1="241.35" x2="392.47" y2="232.85" stroke="#000" stroke-width="1.2"/>
<line x1="412.41" y1="241.35" x2="412.41" y2="232.85" stroke="#000" stroke-width="1.2"/>
<line x1="432.35" y1="241.35" x2="432.35" y2="232.85" stroke="#000" stroke-width="1.2"/>
<line x1="452.29" y1="241.35" x2="452.29" y2="232.85" stroke="#000" stroke-width="1.2"/>
<line x1="472.23" y1="241.35" x2="472.23" y2="232.85" stroke="#000" stroke-width="1.2"/>
<line x1="492.17" y1="241.35" x2="492.17" y2="232.85" stroke="#000" stroke-width="1.2"/>
<line x1="512.11" y1="241.35" x2="512.11" y2="232.85" stroke="#000" stroke-width="1.2"/>
<line x1="532.05" y1="241.35" x2="532.05" y2="232.85" stroke="#000" stroke-width="1.2"/>
<line x1="551.99" y1="241.35" x2="551.99" y2="232.85" stroke="#000" stroke-width="1.2"/>
<line x1="571.93" y1="241.35" x2="571.93" y2="232.85" stroke="#000" stroke-width="1.2"/>
<line x1="591.87" y1="241.35" x2="591.87" y2="232.85" stroke="#000" stroke-width="1.2"/>
<line x1="611.81" y1="241.35" x2="611.81" y2="232.85" stroke="#000" stroke-width="1.2"/>
<line x1="631.75" y1="241.35" x2="631.75" y2="232.85" stroke="#000" stroke-width="1.2"/>
<line x1="651.69" y1="241.35" x2="651.69" y2="232.85" stroke="#000" stroke-width="1.2"/>
<line x1="671.63" y1="241.35" x2="671.63" y2="232.85" stroke="#000" stroke-width="1.2"/>
<line x1="133.25" y1="241.35" x2="133.25" y2="222.55" stroke="#111" stroke-width="1"/>
<line x1="232.95" y1="241.35" x2="232.95" y2="222.55" stroke="#111" stroke-width="1"/>
<line x1="332.65" y1="241.35" x2="332.65" y2="222.55" stroke="#111" stroke-width="1"/>
<line x1="432.35" y1="241.35" x2="432.35" y2="222.55" stroke="#111" stroke-width="1"/>
<line x1="532.05" y1="241.35" x2="532.05" y2="222.55" stroke="#111" stroke-width="1"/>
<line x1="631.75" y1="241.35" x2="631.75" y2="222.55" stroke="#111" stroke-width="1"/>
<line x1="93.37" y1="360.95" x2="93.37" y2="352.45" stroke="#000" stroke-width="1.2"/>
<line x1="113.31" y1="360.95" x2="113.31" y2="352.45" stroke="#000" stroke-width="1.2"/>
<line x1="133.25" y1="360.95" x2="133.25" y2="352.45" stroke="#000" stroke-width="1.2"/>
<line x1="153.19" y1="360.95" x2="153.19" y2="352.45" stroke="#000" stroke-width="1.2"/>
<line x1="173.13" y1="360.95" x2="173.13" y2="352.45" stroke="#000" stroke-width="1.2"/>
<line x1="193.07" y1="360.95" x2="193.07" y2="352.45" stroke="#000" stroke-width="1.2"/>
<line x1="213.01" y1="360.95" x2="213.01" y2="352.45" stroke="#000" stroke-width="1.2"/>
<line x1="232.95" y1="360.95" x2="232.95" y2="352.45" stroke="#000" stroke-width="1.2"/>
<line x1="252.89" y1="360.95" x2="252.89" y2="352.45" stroke="#000" stroke-width="1.2"/>
<line x1="272.83" y1="360.95" x2="272.83" y2="352.45" stroke="#000" stroke-width="1.2"/>
<line x1="292.77" y1="360.95" x2="292.77" y2="352.45" stroke="#000" stroke-width="1.2"/>
<line x1="312.71" y1="360.95" x2="312.71" y2="352.45" stroke="#000" stroke-width="1.2"/>
<line x1="332.65" y1="360.95" x2="332.65" y2="352.45" stroke="#000" stroke-width="1.2"/>
<line x1="352.59" y1="360.95" x2="352.59" y2="352.45" stroke="#000" stroke-width="1.2"/>
<line x1="372.53" y1="360.95" x2="372.53" y2="352.45" stroke="#000" stroke-width="1.2"/>
<line x1="392.47" y1="360.95" x2="392.47" y2="352.45" stroke="#000" stroke-width="1.2"/>
<line x1="412.41" y1="360.95" x2="412.41" y2="352.45" stroke="#000" stroke-width="1.2"/>
<line x1="432.35" y1="360.95" x2="432.35" y2="352.45" stroke="#000" stroke-width="1.2"/>
<line x1="452.29" y1="360.95" x2="452.29" y2="352.45" stroke="#000" stroke-width="1.2"/>
<line x1="472.23" y1="360.95" x2="472.23" y2="352.45" stroke="#000" stroke-width="1.2"/>
<line x1="492.17" y1="360.95" x2="492.17" y2="352.45" stroke="#000" stroke-width="1.2"/>
<line x1="512.11" y1="360.95" x2="512.11" y2="352.45" stroke="#000" stroke-width="1.2"/>
<line x1="532.05" y1="360.95" x2="532.05" y2="352.45" stroke="#000" stroke-width="1.2"/>
<line x1="551.99" y1="360.95" x2="551.99" y2="352.45" stroke="#000" stroke-width="1.2"/>
<line x1="571.93" y1="360.95" x2="571.93" y2="352.45" stroke="#000" stroke-width="1.2"/>
<line x1="591.87" y1="360.95" x2="591.87" y2="352.45" stroke="#000" stroke-width="1.2"/>
<line x1="611.81" y1="360.95" x2="611.81" y2="352.45" stroke="#000" stroke-width="1.2"/>
<line x1="631.75" y1="360.95" x2="631.75" y2="352.45" stroke="#000" stroke-width="1.2"/>
<line x1="651.69" y1="360.95" x2="651.69" y2="352.45" stroke="#000" stroke-width="1.2"/>
<line x1="671.63" y1="360.95" x2="671.63" y2="352.45" stroke="#000" stroke-width="1.2"/>
<line x1="133.25" y1="360.95" x2="133.25" y2="342.15" stroke="#111" stroke-width="1"/>
<line x1="232.95" y1="360.95" x2="232.95" y2="342.15" stroke="#111" stroke-width="1"/>
<line x1="332.65" y1="360.95" x2="332.65" y2="342.15" stroke="#111" stroke-width="1"/>
<line x1="432.35" y1="360.95" x2="432.35" y2="342.15" stroke="#111" stroke-width="1"/>
<line x1="532.05" y1="360.95" x2="532.05" y2="342.15" stroke="#111" stroke-width="1"/>
<line x1="631.75" y1="360.95" x2="631.75" y2="342.15" stroke="#111" stroke-width="1"/>
<line x1="93.37" y1="480.5" x2="93.37" y2="472" stroke="#000" stroke-width="1.2"/>
<line x1="113.31" y1="480.5" x2="113.31" y2="472" stroke="#000" stroke-width="1.2"/>
<line x1="133.25" y1="480.5" x2="133.25" y2="472" stroke="#000" stroke-width="1.2"/>
<line x1="153.19" y1="480.5" x2="153.19" y2="472" stroke="#000" stroke-width="1.2"/>
<line x1="173.13" y1="480.5" x2="173.13" y2="472" stroke="#000" stroke-width="1.2"/>
<line x1="193.07" y1="480.5" x2="193.07" y2="472" stroke="#000" stroke-width="1.2"/>
<line x1="213.01" y1="480.5" x2="213.01" y2="472" stroke="#000" stroke-width="1.2"/>
<line x1="232.95" y1="480.5" x2="232.95" y2="472" stroke="#000" stroke-width="1.2"/>
<line x1="252.89" y1="480.5" x2="252.89" y2="472" stroke="#000" stroke-width="1.2"/>
<line x1="272.83" y1="480.5" x2="272.83" y2="472" stroke="#000" stroke-width="1.2"/>
<line x1="292.77" y1="480.5" x2="292.77" y2="472" stroke="#000" stroke-width="1.2"/>
<line x1="312.71" y1="480.5" x2="312.71" y2="472" stroke="#000" stroke-width="1.2"/>
<line x1="332.65" y1="480.5" x2="332.65" y2="472" stroke="#000" stroke-width="1.2"/>
<line x1="352.59" y1="480.5" x2="352.59" y2="472" stroke="#000" stroke-width="1.2"/>
<line x1="372.53" y1="480.5" x2="372.53" y2="472" stroke="#000" stroke-width="1.2"/>
<line x1="392.47" y1="480.5" x2="392.47" y2="472" stroke="#000" stroke-width="1.2"/>
<line x1="412.41" y1="480.5" x2="412.41" y2="472" stroke="#000" stroke-width="1.2"/>
<line x1="432.35" y1="480.5" x2="432.35" y2="472" stroke="#000" stroke-width="1.2"/>
<line x1="452.29" y1="480.5" x2="452.29" y2="472" stroke="#000" stroke-width="1.2"/>
<line x1="472.23" y1="480.5" x2="472.23" y2="472" stroke="#000" stroke-width="1.2"/>
<line x1="492.17" y1="480.5" x2="492.17" y2="472" stroke="#000" stroke-width="1.2"/>
<line x1="512.11" y1="480.5" x2="512.11" y2="472" stroke="#000" stroke-width="1.2"/>
<line x1="532.05" y1="480.5" x2="532.05" y2="472" stroke="#000" stroke-width="1.2"/>
<line x1="551.99" y1="480.5" x2="551.99" y2="472" stroke="#000" stroke-width="1.2"/>
<line x1="571.93" y1="480.5" x2="571.93" y2="472" stroke="#000" stroke-width="1.2"/>
<line x1="591.87" y1="480.5" x2="591.87" y2="472" stroke="#000" stroke-width="1.2"/>
<line x1="611.81" y1="480.5" x2="611.81" y2="472" stroke="#000" stroke-width="1.2"/>
<line x1="631.75" y1="480.5" x2="631.75" y2="472" stroke="#000" stroke-width="1.2"/>
<line x1="651.69" y1="480.5" x2="651.69" y2="472" stroke="#000" stroke-width="1.2"/>
<line x1="671.63" y1="480.5" x2="671.63" y2="472" stroke="#000" stroke-width="1.2"/>
<line x1="133.25" y1="480.5" x2="133.25" y2="461.7" stroke="#111" stroke-width="1"/>
<line x1="232.95" y1="480.5" x2="232.95" y2="461.7" stroke="#111" stroke-width="1"/>
<line x1="332.65" y1="480.5" x2="332.65" y2="461.7" stroke="#111" stroke-width="1"/>
<line x1="432.35" y1="480.5" x2="432.35" y2="461.7" stroke="#111" stroke-width="1"/>
<line x1="532.05" y1="480.5" x2="532.05" y2="461.7" stroke="#111" stroke-width="1"/>
<line x1="631.75" y1="480.5" x2="631.75" y2="461.7" stroke="#111" stroke-width="1"/>
<line x1="93.37" y1="600.1" x2="93.37" y2="591.6" stroke="#000" stroke-width="1.2"/>
<line x1="113.31" y1="600.1" x2="113.31" y2="591.6" stroke="#000" stroke-width="1.2"/>
<line x1="133.25" y1="600.1" x2="133.25" y2="591.6" stroke="#000" stroke-width="1.2"/>
<line x1="153.19" y1="600.1" x2="153.19" y2="591.6" stroke="#000" stroke-width="1.2"/>
<line x1="173.13" y1="600.1" x2="173.13" y2="591.6" stroke="#000" stroke-width="1.2"/>
<line x1="193.07" y1="600.1" x2="193.07" y2="591.6" stroke="#000" stroke-width="1.2"/>
<line x1="213.01" y1="600.1" x2="213.01" y2="591.6" stroke="#000" stroke-width="1.2"/>
<line x1="232.95" y1="600.1" x2="232.95" y2="591.6" stroke="#000" stroke-width="1.2"/>
<line x1="252.89" y1="600.1" x2="252.89" y2="591.6" stroke="#000" stroke-width="1.2"/>
<line x1="272.83" y1="600.1" x2="272.83" y2="591.6" stroke="#000" stroke-width="1.2"/>
<line x1="292.77" y1="600.1" x2="292.77" y2="591.6" stroke="#000" stroke-width="1.2"/>
<line x1="312.71" y1="600.1" x2="312.71" y2="591.6" stroke="#000" stroke-width="1.2"/>
<line x1="332.65" y1="600.1" x2="332.65" y2="591.6" stroke="#000" stroke-width="1.2"/>
<line x1="352.59" y1="600.1" x2="352.59" y2="591.6" stroke="#000" stroke-width="1.2"/>
<line x1="372.53" y1="600.1" x2="372.53" y2="591.6" stroke="#000" stroke-width="1.2"/>
<line x1="392.47" y1="600.1" x2="392.47" y2="591.6" stroke="#000" stroke-width="1.2"/>
<line x1="412.41" y1="600.1" x2="412.41" y2="591.6" stroke="#000" stroke-width="1.2"/>
<line x1="432.35" y1="600.1" x2="432.35" y2="591.6" stroke="#000" stroke-width="1.2"/>
<line x1="452.29" y1="600.1" x2="452.29" y2="591.6" stroke="#000" stroke-width="1.2"/>
<line x1="472.23" y1="600.1" x2="472.23" y2="591.6" stroke="#000" stroke-width="1.2"/>
<line x1="492.17" y1="600.1" x2="492.17" y2="591.6" stroke="#000" stroke-width="1.2"/>
<line x1="512.11" y1="600.1" x2="512.11" y2="591.6" stroke="#000" stroke-width="1.2"/>
<line x1="532.05" y1="600.1" x2="532.05" y2="591.6" stroke="#000" stroke-width="1.2"/>
<line x1="551.99" y1="600.1" x2="551.99" y2="591.6" stroke="#000" stroke-width="1.2"/>
<line x1="571.93" y1="600.1" x2="571.93" y2="591.6" stroke="#000" stroke-width="1.2"/>
<line x1="591.87" y1="600.1" x2="591.87" y2="591.6" stroke="#000" stroke-width="1.2"/>
<line x1="611.81" y1="600.1" x2="611.81" y2="591.6" stroke="#000" stroke-width="1.2"/>
<line x1="631.75" y1="600.1" x2="631.75" y2="591.6" stroke="#000" stroke-width="1.2"/>
<line x1="651.69" y1="600.1" x2="651.69" y2="591.6" stroke="#000" stroke-width="1.2"/>
<line x1="671.63" y1="600.1" x2="671.63" y2="591.6" stroke="#000" stroke-width="1.2"/>
<line x1="133.25" y1="600.1" x2="133.25" y2="581.3" stroke="#111" stroke-width="1"/>
<line x1="232.95" y1="600.1" x2="232.95" y2="581.3" stroke="#111" stroke-width="1"/>
<line x1="332.65" y1="600.1" x2="332.65" y2="581.3" stroke="#111" stroke-width="1"/>
<line x1="432.35" y1="600.1" x2="432.35" y2="581.3" stroke="#111" stroke-width="1"/>
<line x1="532.05" y1="600.1" x2="532.05" y2="581.3" stroke="#111" stroke-width="1"/>
<line x1="631.75" y1="600.1" x2="631.75" y2="581.3" stroke="#111" stroke-width="1"/>
<line x1="82.9" y1="241.35" x2="682.1" y2="241.35" stroke="#000" stroke-width="1.2"/>
<line x1="82.9" y1="360.95" x2="682.1" y2="360.95" stroke="#000" stroke-width="1.2"/>
<line x1="82.9" y1="480.5" x2="682.1" y2="480.5" stroke="#000" stroke-width="1.2"/>
<line x1="82.9" y1="600.2" x2="682.1" y2="600.2" stroke="#222" stroke-width="1"/>
<line x1="82.9" y1="2.3" x2="682.1" y2="2.3" stroke="#333" stroke-width="1"/>
<line x1="83.4" y1="2.3" x2="83.4" y2="600.1" stroke="#333" stroke-width="1"/>
<line x1="681.6" y1="2.3" x2="681.6" y2="600.1" stroke="#555" stroke-width="1"/>
<text x="72.4" y="71.4" font-size="20.5" text-anchor="end" stroke="#000" stroke-width="0.3">1</text>
<text x="30.4" y="154.2" font-size="20.5" stroke="#000" stroke-width="0.3">10</text>
<text x="51" y="146.8" font-size="15" textLength="19.6" lengthAdjust="spacingAndGlyphs" stroke="#000" stroke-width="0.3">−1</text>
<text x="30.4" y="236.7" font-size="20.5" stroke="#000" stroke-width="0.3">10</text>
<text x="51" y="229.3" font-size="15" textLength="19.6" lengthAdjust="spacingAndGlyphs" stroke="#000" stroke-width="0.3">−2</text>
<text x="72.6" y="366.15" font-size="20.5" text-anchor="end" stroke="#000" stroke-width="0.3">0</text>
<text x="72.6" y="336.27" font-size="20.5" text-anchor="end" stroke="#000" stroke-width="0.3">0.5</text>
<text x="72.6" y="306.4" font-size="20.5" text-anchor="end" stroke="#000" stroke-width="0.3">1</text>
<text x="72.6" y="276.52" font-size="20.5" text-anchor="end" stroke="#000" stroke-width="0.3">1.5</text>
<text x="72.6" y="485.7" font-size="20.5" text-anchor="end" stroke="#000" stroke-width="0.3">0</text>
<text x="72.6" y="455.82" font-size="20.5" text-anchor="end" stroke="#000" stroke-width="0.3">0.5</text>
<text x="72.6" y="425.95" font-size="20.5" text-anchor="end" stroke="#000" stroke-width="0.3">1</text>
<text x="72.6" y="396.07" font-size="20.5" text-anchor="end" stroke="#000" stroke-width="0.3">1.5</text>
<text x="72.6" y="605.3" font-size="20.5" text-anchor="end" stroke="#000" stroke-width="0.3">0</text>
<text x="72.6" y="575.43" font-size="20.5" text-anchor="end" stroke="#000" stroke-width="0.3">0.5</text>
<text x="72.6" y="545.55" font-size="20.5" text-anchor="end" stroke="#000" stroke-width="0.3">1</text>
<text x="72.6" y="515.68" font-size="20.5" text-anchor="end" stroke="#000" stroke-width="0.3">1.5</text>
<text x="133.25" y="624" font-size="20.5" text-anchor="middle" stroke="#000" stroke-width="0.3">3</text>
<text x="232.95" y="624" font-size="20.5" text-anchor="middle" stroke="#000" stroke-width="0.3">4</text>
<text x="332.65" y="624" font-size="20.5" text-anchor="middle" stroke="#000" stroke-width="0.3">5</text>
<text x="432.35" y="624" font-size="20.5" text-anchor="middle" stroke="#000" stroke-width="0.3">6</text>
<text x="532.05" y="624" font-size="20.5" text-anchor="middle" stroke="#000" stroke-width="0.3">7</text>
<text x="631.75" y="624" font-size="20.5" text-anchor="middle" stroke="#000" stroke-width="0.3">8</text>
<text x="505.6" y="649" font-size="20.5" font-style="italic" textLength="10.8" lengthAdjust="spacingAndGlyphs" stroke="#000" stroke-width="0.3">n</text>
<text x="517.6" y="653.2" font-size="15" textLength="22.4" lengthAdjust="spacingAndGlyphs" stroke="#000" stroke-width="0.3">jets</text>
<text x="542.4" y="649" font-size="20.5" textLength="5.6" lengthAdjust="spacingAndGlyphs" stroke="#000" stroke-width="0.3">(</text>
<text x="549.6" y="649" font-size="20.5" font-style="italic" textLength="11.6" lengthAdjust="spacingAndGlyphs" stroke="#000" stroke-width="0.3">p</text>
<line x1="563.2" y1="653.2" x2="575.4" y2="653.2" stroke="#000" stroke-width="1"/>
<line x1="569.3" y1="643.8" x2="569.3" y2="653.2" stroke="#000" stroke-width="1"/>
<path d="M585.4 639.0L600.8 644.7L585.4 650.4" fill="none" stroke="#000" stroke-width="1.1"/>
<text x="607" y="649" font-size="20.5" textLength="19.2" lengthAdjust="spacingAndGlyphs" stroke="#000" stroke-width="0.3">25</text>
<text x="630.8" y="649" font-size="20.5" textLength="39.4" lengthAdjust="spacingAndGlyphs" stroke="#000" stroke-width="0.3">GeV</text>
<text x="672.6" y="649" font-size="20.5" textLength="6" lengthAdjust="spacingAndGlyphs" stroke="#000" stroke-width="0.3">)</text>
<g transform="translate(16.1,135.6) rotate(-90)">
<text x="0" y="0" font-size="22" textLength="11.6" lengthAdjust="spacingAndGlyphs" stroke="#000" stroke-width="0.3">d</text>
<text x="12.6" y="0" font-size="22" font-style="italic" textLength="13.2" lengthAdjust="spacingAndGlyphs" stroke="#000" stroke-width="0.3">σ</text>
<line x1="28.6" y1="1.6" x2="39.2" y2="-13.4" stroke="#000" stroke-width="1.15"/>
<text x="38.6" y="0" font-size="22" textLength="11.6" lengthAdjust="spacingAndGlyphs" stroke="#000" stroke-width="0.3">d</text>
<text x="50.8" y="0" font-size="22" font-style="italic" textLength="12" lengthAdjust="spacingAndGlyphs" stroke="#000" stroke-width="0.3">n</text>
<text x="64" y="3.9" font-size="16" textLength="23" lengthAdjust="spacingAndGlyphs" stroke="#000" stroke-width="0.3">jets</text>
<text x="95" y="0" font-size="22" textLength="37.8" lengthAdjust="spacingAndGlyphs" stroke="#000" stroke-width="0.3">[pb]</text>
</g>
</g>
<g transform="translate(0,702.6)">
<rect x="83.4" y="15.5" width="99.7" height="2.5" fill="rgb(254,224,208)"/>
<rect x="83.4" y="13.5" width="99.7" height="3" fill="rgb(220,213,243)"/>
<rect x="83.4" y="15.5" width="99.7" height="1" fill="rgb(212,177,192)"/>
<rect x="183.1" y="16.5" width="99.7" height="2.5" fill="rgb(254,224,208)"/>
<rect x="183.1" y="17.5" width="99.7" height="2.5" fill="rgb(220,213,243)"/>
<rect x="183.1" y="17.5" width="99.7" height="1.5" fill="rgb(212,177,192)"/>
<rect x="282.8" y="43.5" width="99.7" height="5" fill="rgb(254,224,208)"/>
<rect x="282.8" y="46" width="99.7" height="9.3" fill="rgb(220,213,243)"/>
<rect x="282.8" y="46" width="99.7" height="2.5" fill="rgb(212,177,192)"/>
<rect x="382.5" y="81.3" width="99.7" height="17" fill="rgb(254,224,208)"/>
<rect x="382.5" y="85" width="99.7" height="16.4" fill="rgb(220,213,243)"/>
<rect x="382.5" y="85" width="99.7" height="13.3" fill="rgb(212,177,192)"/>
<rect x="482.2" y="128.8" width="99.7" height="26.3" fill="rgb(254,224,208)"/>
<rect x="482.2" y="130" width="99.7" height="27" fill="rgb(220,213,243)"/>
<rect x="482.2" y="130" width="99.7" height="25.1" fill="rgb(212,177,192)"/>
<rect x="581.9" y="175.8" width="99.7" height="38.3" fill="rgb(254,224,208)"/>
<rect x="581.9" y="177" width="99.7" height="42.5" fill="rgb(220,213,243)"/>
<rect x="581.9" y="177" width="99.7" height="37.1" fill="rgb(212,177,192)"/>
<line x1="83.4" y1="14" x2="183.1" y2="14" stroke="#15121c" stroke-width="1.4"/>
<line x1="133.25" y1="9.1" x2="133.25" y2="19.6" stroke="#15121c" stroke-width="1.3"/>
<circle cx="133.25" cy="14" r="3.3" fill="#15121c"/>
<line x1="183.1" y1="18.9" x2="282.8" y2="18.9" stroke="#15121c" stroke-width="1.4"/>
<line x1="232.95" y1="16.5" x2="232.95" y2="21.5" stroke="#15121c" stroke-width="1.3"/>
<circle cx="232.95" cy="18.9" r="3.3" fill="#15121c"/>
<line x1="282.8" y1="47.1" x2="382.5" y2="47.1" stroke="#15121c" stroke-width="1.4"/>
<line x1="332.65" y1="45.3" x2="332.65" y2="49" stroke="#15121c" stroke-width="1.3"/>
<circle cx="332.65" cy="47.1" r="3.3" fill="#15121c"/>
<line x1="382.5" y1="84" x2="482.2" y2="84" stroke="#15121c" stroke-width="1.4"/>
<line x1="432.35" y1="78.7" x2="432.35" y2="90" stroke="#15121c" stroke-width="1.3"/>
<circle cx="432.35" cy="84" r="3.3" fill="#15121c"/>
<line x1="482.2" y1="131.7" x2="581.9" y2="131.7" stroke="#15121c" stroke-width="1.4"/>
<line x1="532.05" y1="124.5" x2="532.05" y2="139.9" stroke="#15121c" stroke-width="1.3"/>
<circle cx="532.05" cy="131.7" r="3.3" fill="#15121c"/>
<line x1="581.9" y1="179.4" x2="681.6" y2="179.4" stroke="#15121c" stroke-width="1.4"/>
<line x1="631.75" y1="170.3" x2="631.75" y2="191.7" stroke="#15121c" stroke-width="1.3"/>
<circle cx="631.75" cy="179.4" r="3.3" fill="#15121c"/>
<path d="M83.4 17L83.4 17L183.1 17L183.1 17.4L282.8 17.4L282.8 45L382.5 45L382.5 85.1L482.2 85.1L482.2 138.8L581.9 138.8L581.9 190.6L681.6 190.6" fill="none" stroke="#ff0000" stroke-width="1.7" stroke-linejoin="miter"/>
<line x1="84.6" y1="17" x2="181.9" y2="17" stroke="rgb(206,28,44)" stroke-width="1.7"/>
<line x1="184.3" y1="17.4" x2="281.6" y2="17.4" stroke="rgb(206,28,44)" stroke-width="1.7"/>
<line x1="383.7" y1="85.1" x2="481" y2="85.1" stroke="rgb(206,28,44)" stroke-width="1.7"/>
<line x1="483.4" y1="138.8" x2="580.7" y2="138.8" stroke="rgb(206,28,44)" stroke-width="1.7"/>
<line x1="583.1" y1="190.6" x2="680.4" y2="190.6" stroke="rgb(206,28,44)" stroke-width="1.7"/>
<path d="M83.4 14.8L83.4 14.8L183.1 14.8L183.1 18.6L282.8 18.6L282.8 47.3L382.5 47.3L382.5 93.2L482.2 93.2L482.2 146.8L581.9 146.8L581.9 199.1L681.6 199.1" fill="none" stroke="#0000ff" stroke-width="1.9" stroke-linejoin="miter"/>
<line x1="84.35" y1="14.8" x2="84.35" y2="241.35" stroke="#4a00d0" stroke-width="1.2"/>
<rect x="139" y="131.9" width="33" height="8" fill="#ffff00"/>
<line x1="131" y1="136" x2="179" y2="136" stroke="#000" stroke-width="1.6"/>
<circle cx="155.2" cy="136" r="3.3" fill="#000"/>
<text x="192.2" y="139.8" font-size="22" textLength="41.4" lengthAdjust="spacingAndGlyphs" stroke="#000" stroke-width="0.3">Data</text>
<rect x="139" y="158.7" width="33" height="7.2" fill="rgb(254,224,208)"/>
<line x1="131" y1="162.2" x2="179" y2="162.2" stroke="#ff0000" stroke-width="2.2"/>
<text x="191.8" y="166.7" font-size="22" textLength="45.4" lengthAdjust="spacingAndGlyphs" stroke="#000" stroke-width="0.3">NLO</text>
<circle cx="250.5" cy="162" r="7" fill="none" stroke="#111" stroke-width="0.85"/>
<line x1="243.5" y1="162" x2="257.5" y2="162" stroke="#111" stroke-width="0.85"/>
<line x1="250.5" y1="155" x2="250.5" y2="169" stroke="#111" stroke-width="0.85"/>
<text x="264.4" y="166.7" font-size="22" textLength="24.6" lengthAdjust="spacingAndGlyphs" stroke="#000" stroke-width="0.3">PS</text>
<rect x="139" y="185.7" width="33" height="7.2" fill="rgb(220,213,243)"/>
<line x1="131" y1="189.3" x2="179" y2="189.3" stroke="#0000ff" stroke-width="2.2"/>
<text x="191.8" y="193.8" font-size="22" textLength="45.4" lengthAdjust="spacingAndGlyphs" stroke="#000" stroke-width="0.3">NLO</text>
<circle cx="250.5" cy="189.1" r="7" fill="none" stroke="#111" stroke-width="0.85"/>
<line x1="245.55" y1="184.15" x2="255.45" y2="194.05" stroke="#111" stroke-width="0.85"/>
<line x1="245.55" y1="194.05" x2="255.45" y2="184.15" stroke="#111" stroke-width="0.85"/>
<text x="264.4" y="193.8" font-size="22" textLength="24.6" lengthAdjust="spacingAndGlyphs" stroke="#000" stroke-width="0.3">PS</text>
<text x="650.2" y="39.6" font-size="21" text-anchor="end" fill="#808080" textLength="87.6" lengthAdjust="spacingAndGlyphs">Herwig 7</text>
<rect x="83.4" y="292.3" width="99.7" height="17.6" fill="rgb(255,255,0)"/>
<rect x="83.4" y="304" width="99.7" height="3" fill="rgb(254,224,208)"/>
<rect x="83.4" y="301.5" width="99.7" height="3" fill="rgb(220,213,243)"/>
<rect x="83.4" y="304" width="99.7" height="3" fill="rgb(250,208,40)"/>
<rect x="83.4" y="301.5" width="99.7" height="3" fill="rgb(210,190,95)"/>
<rect x="83.4" y="304" width="99.7" height="0.5" fill="rgb(212,177,192)"/>
<rect x="83.4" y="304" width="99.7" height="0.5" fill="rgb(208,167,86)"/>
<rect x="183.1" y="295.3" width="99.7" height="10.7" fill="rgb(255,255,0)"/>
<rect x="183.1" y="297.5" width="99.7" height="3" fill="rgb(254,224,208)"/>
<rect x="183.1" y="298.5" width="99.7" height="3" fill="rgb(220,213,243)"/>
<rect x="183.1" y="297.5" width="99.7" height="3" fill="rgb(250,208,40)"/>
<rect x="183.1" y="298.5" width="99.7" height="3" fill="rgb(210,190,95)"/>
<rect x="183.1" y="298.5" width="99.7" height="2" fill="rgb(212,177,192)"/>
<rect x="183.1" y="298.5" width="99.7" height="2" fill="rgb(208,167,86)"/>
<rect x="282.8" y="295.4" width="99.7" height="11.5" fill="rgb(255,255,0)"/>
<rect x="282.8" y="292.6" width="99.7" height="13.8" fill="rgb(254,224,208)"/>
<rect x="282.8" y="297" width="99.7" height="16.6" fill="rgb(220,213,243)"/>
<rect x="282.8" y="295.4" width="99.7" height="11" fill="rgb(250,208,40)"/>
<rect x="282.8" y="297" width="99.7" height="9.9" fill="rgb(210,190,95)"/>
<rect x="282.8" y="297" width="99.7" height="9.4" fill="rgb(212,177,192)"/>
<rect x="282.8" y="297" width="99.7" height="9.4" fill="rgb(208,167,86)"/>
<rect x="382.5" y="292.6" width="99.7" height="17.4" fill="rgb(255,255,0)"/>
<rect x="382.5" y="295.2" width="99.7" height="24.1" fill="rgb(254,224,208)"/>
<rect x="382.5" y="304.8" width="99.7" height="19.6" fill="rgb(220,213,243)"/>
<rect x="382.5" y="295.2" width="99.7" height="14.8" fill="rgb(250,208,40)"/>
<rect x="382.5" y="304.8" width="99.7" height="5.2" fill="rgb(210,190,95)"/>
<rect x="382.5" y="304.8" width="99.7" height="14.5" fill="rgb(212,177,192)"/>
<rect x="382.5" y="304.8" width="99.7" height="5.2" fill="rgb(208,167,86)"/>
<rect x="482.2" y="288.5" width="99.7" height="25.5" fill="rgb(255,255,0)"/>
<rect x="482.2" y="296.7" width="99.7" height="34.2" fill="rgb(254,224,208)"/>
<rect x="482.2" y="303.4" width="99.7" height="28.9" fill="rgb(220,213,243)"/>
<rect x="482.2" y="296.7" width="99.7" height="17.3" fill="rgb(250,208,40)"/>
<rect x="482.2" y="303.4" width="99.7" height="10.6" fill="rgb(210,190,95)"/>
<rect x="482.2" y="303.4" width="99.7" height="27.5" fill="rgb(212,177,192)"/>
<rect x="482.2" y="303.4" width="99.7" height="10.6" fill="rgb(208,167,86)"/>
<rect x="581.9" y="283.9" width="99.7" height="34.4" fill="rgb(255,255,0)"/>
<rect x="581.9" y="294.3" width="99.7" height="44.1" fill="rgb(254,224,208)"/>
<rect x="581.9" y="297.3" width="99.7" height="43.6" fill="rgb(220,213,243)"/>
<rect x="581.9" y="294.3" width="99.7" height="24" fill="rgb(250,208,40)"/>
<rect x="581.9" y="297.3" width="99.7" height="21" fill="rgb(210,190,95)"/>
<rect x="581.9" y="297.3" width="99.7" height="41.1" fill="rgb(212,177,192)"/>
<rect x="581.9" y="297.3" width="99.7" height="21" fill="rgb(208,167,86)"/>
<line x1="83.4" y1="301.3" x2="681.6" y2="301.3" stroke="#15121c" stroke-width="1.4"/>
<circle cx="133.25" cy="301.3" r="3.3" fill="#15121c"/>
<circle cx="232.95" cy="301.3" r="3.3" fill="#15121c"/>
<circle cx="332.65" cy="301.3" r="3.3" fill="#15121c"/>
<circle cx="432.35" cy="301.3" r="3.3" fill="#15121c"/>
<circle cx="532.05" cy="301.3" r="3.3" fill="#15121c"/>
<circle cx="631.75" cy="301.3" r="3.3" fill="#15121c"/>
<path d="M83.4 305.8L83.4 305.8L183.1 305.8L183.1 298.6L282.8 298.6L282.8 296.8L382.5 296.8L382.5 303.6L482.2 303.6L482.2 311.6L581.9 311.6L581.9 317.2L681.6 317.2" fill="none" stroke="#ff0000" stroke-width="1.7" stroke-linejoin="miter"/>
<line x1="184.3" y1="298.6" x2="281.6" y2="298.6" stroke="rgb(206,28,44)" stroke-width="1.7"/>
<line x1="284" y1="296.8" x2="381.3" y2="296.8" stroke="rgb(206,28,44)" stroke-width="1.7"/>
<line x1="483.4" y1="311.6" x2="580.7" y2="311.6" stroke="rgb(206,28,44)" stroke-width="1.7"/>
<line x1="583.1" y1="317.2" x2="680.4" y2="317.2" stroke="rgb(206,28,44)" stroke-width="1.7"/>
<path d="M83.4 303L83.4 303L183.1 303L183.1 300L282.8 300L282.8 302.4L382.5 302.4L382.5 314.8L482.2 314.8L482.2 321.7L581.9 321.7L581.9 326.5L681.6 326.5" fill="none" stroke="#0000ff" stroke-width="1.9" stroke-linejoin="miter"/>
<rect x="121.4" y="252.2" width="32.6" height="10.3" fill="#ffff00"/>
<line x1="113.2" y1="257.3" x2="161.3" y2="257.3" stroke="#000" stroke-width="1.6"/>
<circle cx="137.3" cy="257.3" r="3.3" fill="#000"/>
<text x="174.2" y="259.4" font-size="22" textLength="42" lengthAdjust="spacingAndGlyphs" stroke="#000" stroke-width="0.3">Data</text>
<rect x="420.6" y="251.9" width="32.6" height="10.3" fill="rgb(254,224,208)"/>
<line x1="412.3" y1="257.1" x2="460.5" y2="257.1" stroke="#ff0000" stroke-width="2.2"/>
<text x="473" y="259.4" font-size="22" textLength="45.4" lengthAdjust="spacingAndGlyphs" stroke="#000" stroke-width="0.3">NLO</text>
<circle cx="531.7" cy="254.7" r="7" fill="none" stroke="#111" stroke-width="0.85"/>
<line x1="524.7" y1="254.7" x2="538.7" y2="254.7" stroke="#111" stroke-width="0.85"/>
<line x1="531.7" y1="247.7" x2="531.7" y2="261.7" stroke="#111" stroke-width="0.85"/>
<text x="545.6" y="259.4" font-size="22" textLength="24.6" lengthAdjust="spacingAndGlyphs" stroke="#000" stroke-width="0.3">PS</text>
<rect x="121.4" y="335.9" width="32.6" height="10.3" fill="rgb(220,213,243)"/>
<line x1="113.2" y1="341.1" x2="161.4" y2="341.1" stroke="#0000ff" stroke-width="2.2"/>
<text x="173.8" y="343.5" font-size="22" textLength="45.4" lengthAdjust="spacingAndGlyphs" stroke="#000" stroke-width="0.3">NLO</text>
<circle cx="232.5" cy="338.8" r="7" fill="none" stroke="#111" stroke-width="0.85"/>
<line x1="227.55" y1="333.85" x2="237.45" y2="343.75" stroke="#111" stroke-width="0.85"/>
<line x1="227.55" y1="343.75" x2="237.45" y2="333.85" stroke="#111" stroke-width="0.85"/>
<text x="246.4" y="343.5" font-size="22" textLength="24.6" lengthAdjust="spacingAndGlyphs" stroke="#000" stroke-width="0.3">PS</text>
<rect x="83.4" y="414.8" width="99.7" height="8.7" fill="rgb(254,224,208)"/>
<rect x="183.1" y="419.3" width="99.7" height="3" fill="rgb(254,224,208)"/>
<rect x="282.8" y="416.9" width="99.7" height="12.3" fill="rgb(254,224,208)"/>
<rect x="382.5" y="411.4" width="99.7" height="26.4" fill="rgb(254,224,208)"/>
<rect x="482.2" y="403.2" width="99.7" height="39.6" fill="rgb(254,224,208)"/>
<rect x="581.9" y="388.8" width="99.7" height="61" fill="rgb(254,224,208)"/>
<rect x="83.4" y="419" width="99.7" height="3" fill="rgb(254,162,130)"/>
<rect x="282.8" y="418.5" width="99.7" height="4" fill="rgb(254,162,130)"/>
<rect x="382.5" y="417.5" width="99.7" height="6.5" fill="rgb(254,162,130)"/>
<rect x="482.2" y="412.1" width="99.7" height="16.9" fill="rgb(254,162,130)"/>
<rect x="581.9" y="411" width="99.7" height="19.3" fill="rgb(254,162,130)"/>
<clipPath id="c25"><rect x="83.4" y="417" width="99.7" height="4"/></clipPath>
<path clip-path="url(#c25)" d="M75.82 415L83.82 423M90.15 415L98.15 423M104.48 415L112.48 423M118.81 415L126.81 423M133.14 415L141.14 423M147.47 415L155.47 423M161.8 415L169.8 423M176.13 415L184.13 423" fill="none" stroke="#ff0000" stroke-width="2.2"/>
<clipPath id="c26"><rect x="83.4" y="417" width="99.7" height="4"/></clipPath>
<path clip-path="url(#c26)" d="M91.68 415L83.68 423M106.01 415L98.01 423M120.34 415L112.34 423M134.67 415L126.67 423M149 415L141 423M163.33 415L155.33 423M177.66 415L169.66 423" fill="none" stroke="#ff0000" stroke-width="2.2"/>
<clipPath id="c27"><rect x="183.1" y="420" width="99.7" height="3"/></clipPath>
<path clip-path="url(#c27)" d="M179.13 418L186.13 425M193.46 418L200.46 425M207.79 418L214.79 425M222.12 418L229.12 425M236.45 418L243.45 425M250.78 418L257.78 425M265.11 418L272.11 425M279.44 418L286.44 425" fill="none" stroke="#ff0000" stroke-width="2.2"/>
<clipPath id="c28"><rect x="282.8" y="419.5" width="99.7" height="3.5"/></clipPath>
<path clip-path="url(#c28)" d="M278.94 417.5L286.44 425M293.27 417.5L300.77 425M307.6 417.5L315.1 425M321.93 417.5L329.43 425M336.26 417.5L343.76 425M350.59 417.5L358.09 425M364.92 417.5L372.42 425M379.25 417.5L386.75 425" fill="none" stroke="#ff0000" stroke-width="2.2"/>
<clipPath id="c29"><rect x="282.8" y="417" width="99.7" height="7.6"/></clipPath>
<path clip-path="url(#c29)" d="M292.3 415L280.7 426.6M306.63 415L295.03 426.6M320.96 415L309.36 426.6M335.29 415L323.69 426.6M349.62 415L338.02 426.6M363.95 415L352.35 426.6M378.28 415L366.68 426.6M392.61 415L381.01 426.6" fill="none" stroke="#ff0000" stroke-width="2.2"/>
<clipPath id="c30"><rect x="382.5" y="416.9" width="99.7" height="12.3"/></clipPath>
<path clip-path="url(#c30)" d="M376.65 414.9L392.95 431.2M390.98 414.9L407.28 431.2M405.31 414.9L421.61 431.2M419.64 414.9L435.94 431.2M433.97 414.9L450.27 431.2M448.3 414.9L464.6 431.2M462.63 414.9L478.93 431.2M476.96 414.9L493.26 431.2" fill="none" stroke="#ff0000" stroke-width="2.2"/>
<clipPath id="c31"><rect x="382.5" y="416.9" width="99.7" height="12.3"/></clipPath>
<path clip-path="url(#c31)" d="M392.71 414.9L376.41 431.2M407.04 414.9L390.74 431.2M421.37 414.9L405.07 431.2M435.7 414.9L419.4 431.2M450.03 414.9L433.73 431.2M464.36 414.9L448.06 431.2M478.69 414.9L462.39 431.2M493.02 414.9L476.72 431.2" fill="none" stroke="#ff0000" stroke-width="2.2"/>
<clipPath id="c32"><rect x="482.2" y="410" width="99.7" height="18.4"/></clipPath>
<path clip-path="url(#c32)" d="M470.06 408L492.46 430.4M484.39 408L506.79 430.4M498.72 408L521.12 430.4M513.05 408L535.45 430.4M527.38 408L549.78 430.4M541.71 408L564.11 430.4M556.04 408L578.44 430.4M570.37 408L592.77 430.4" fill="none" stroke="#ff0000" stroke-width="2.2"/>
<clipPath id="c33"><rect x="482.2" y="416" width="99.7" height="17"/></clipPath>
<path clip-path="url(#c33)" d="M493.92 414L472.92 435M508.25 414L487.25 435M522.58 414L501.58 435M536.91 414L515.91 435M551.24 414L530.24 435M565.57 414L544.57 435M579.9 414L558.9 435M594.23 414L573.23 435" fill="none" stroke="#ff0000" stroke-width="2.2"/>
<clipPath id="c34"><rect x="581.9" y="401.7" width="99.7" height="35.3"/></clipPath>
<path clip-path="url(#c34)" d="M547.74 399.7L587.04 439M562.07 399.7L601.37 439M576.4 399.7L615.7 439M590.73 399.7L630.03 439M605.06 399.7L644.36 439M619.39 399.7L658.69 439M633.72 399.7L673.02 439M648.05 399.7L687.35 439M662.38 399.7L701.68 439M676.71 399.7L716.01 439" fill="none" stroke="#ff0000" stroke-width="2.2"/>
<clipPath id="c35"><rect x="581.9" y="420" width="99.7" height="15.4"/></clipPath>
<path clip-path="url(#c35)" d="M590.23 418L570.83 437.4M604.56 418L585.16 437.4M618.89 418L599.49 437.4M633.22 418L613.82 437.4M647.55 418L628.15 437.4M661.88 418L642.48 437.4M676.21 418L656.81 437.4M690.54 418L671.14 437.4" fill="none" stroke="#ff0000" stroke-width="2.2"/>
<line x1="83.4" y1="420.6" x2="681.6" y2="420.6" stroke="#ff0000" stroke-width="2.5"/>
<rect x="121.4" y="371.85" width="32.6" height="10.4" fill="rgb(254,224,208)"/>
<line x1="113.2" y1="377.05" x2="161.4" y2="377.05" stroke="#ff0000" stroke-width="2.2"/>
<text x="173.8" y="379.45" font-size="22" textLength="45.4" lengthAdjust="spacingAndGlyphs" stroke="#000" stroke-width="0.3">NLO</text>
<circle cx="232.5" cy="374.75" r="7" fill="none" stroke="#111" stroke-width="0.85"/>
<line x1="225.5" y1="374.75" x2="239.5" y2="374.75" stroke="#111" stroke-width="0.85"/>
<line x1="232.5" y1="367.75" x2="232.5" y2="381.75" stroke="#111" stroke-width="0.85"/>
<text x="246.4" y="379.45" font-size="22" textLength="24.6" lengthAdjust="spacingAndGlyphs" stroke="#000" stroke-width="0.3">PS</text>
<rect x="420.6" y="371.65" width="32.6" height="10.8" fill="rgb(253,190,165)"/>
<line x1="412.3" y1="377.05" x2="460.5" y2="377.05" stroke="#ff0000" stroke-width="2.2"/>
<text x="473.8" y="379.45" font-size="22" font-style="italic" textLength="12" lengthAdjust="spacingAndGlyphs" stroke="#000" stroke-width="0.3">μ</text>
<text x="485.8" y="383.05" font-size="15" textLength="12.2" lengthAdjust="spacingAndGlyphs" stroke="#000" stroke-width="0.3">H</text>
<clipPath id="c36"><rect x="121.4" y="455.1" width="32.6" height="10.4"/></clipPath>
<path clip-path="url(#c36)" d="M119.9 453.1L134.3 467.5M134.23 453.1L148.63 467.5M148.56 453.1L162.96 467.5" fill="none" stroke="#ff0000" stroke-width="2.2"/>
<line x1="113.2" y1="460.3" x2="161.4" y2="460.3" stroke="#ff0000" stroke-width="2.2"/>
<text x="174.4" y="463.5" font-size="22" font-style="italic" textLength="12" lengthAdjust="spacingAndGlyphs" stroke="#000" stroke-width="0.3">μ</text>
<text x="186.4" y="467.1" font-size="15" textLength="8.4" lengthAdjust="spacingAndGlyphs" stroke="#000" stroke-width="0.3">S</text>
<clipPath id="c37"><rect x="420.6" y="455.1" width="32.6" height="10.4"/></clipPath>
<path clip-path="url(#c37)" d="M425.27 453.1L410.87 467.5M439.6 453.1L425.2 467.5M453.93 453.1L439.53 467.5" fill="none" stroke="#ff0000" stroke-width="2.2"/>
<line x1="412.3" y1="460.3" x2="460.5" y2="460.3" stroke="#ff0000" stroke-width="2.2"/>
<text x="474.2" y="463.5" font-size="22" font-style="italic" textLength="14.4" lengthAdjust="spacingAndGlyphs" stroke="#000" stroke-width="0.3">Q</text>
<line x1="490.2" y1="467.1" x2="501.8" y2="467.1" stroke="#000" stroke-width="1"/>
<line x1="496" y1="457.5" x2="496" y2="467.1" stroke="#000" stroke-width="1"/>
<rect x="83.4" y="536.5" width="99.7" height="5.7" fill="rgb(220,213,243)"/>
<rect x="183.1" y="538.8" width="99.7" height="2.7" fill="rgb(220,213,243)"/>
<rect x="282.8" y="532.3" width="99.7" height="19" fill="rgb(220,213,243)"/>
<rect x="382.5" y="529.3" width="99.7" height="23" fill="rgb(220,213,243)"/>
<rect x="482.2" y="512.4" width="99.7" height="43" fill="rgb(220,213,243)"/>
<rect x="581.9" y="487.9" width="99.7" height="78.8" fill="rgb(220,213,243)"/>
<rect x="83.4" y="538.5" width="99.7" height="3.3" fill="rgb(160,140,216)"/>
<rect x="282.8" y="534.5" width="99.7" height="10.1" fill="rgb(160,140,216)"/>
<rect x="382.5" y="533.9" width="99.7" height="12.8" fill="rgb(160,140,216)"/>
<rect x="482.2" y="529.9" width="99.7" height="17.8" fill="rgb(160,140,216)"/>
<rect x="581.9" y="517.7" width="99.7" height="26.9" fill="rgb(160,140,216)"/>
<clipPath id="c38"><rect x="83.4" y="538.5" width="99.7" height="2.5"/></clipPath>
<path clip-path="url(#c38)" d="M77.72 536.5L84.22 543M92.05 536.5L98.55 543M106.38 536.5L112.88 543M120.71 536.5L127.21 543M135.04 536.5L141.54 543M149.37 536.5L155.87 543M163.7 536.5L170.2 543M178.03 536.5L184.53 543" fill="none" stroke="#0000ff" stroke-width="2.2"/>
<clipPath id="c39"><rect x="183.1" y="540" width="99.7" height="2"/></clipPath>
<path clip-path="url(#c39)" d="M179.53 538L185.53 544M193.86 538L199.86 544M208.19 538L214.19 544M222.52 538L228.52 544M236.85 538L242.85 544M251.18 538L257.18 544M265.51 538L271.51 544M279.84 538L285.84 544" fill="none" stroke="#0000ff" stroke-width="2.2"/>
<clipPath id="c40"><rect x="282.8" y="540" width="99.7" height="4"/></clipPath>
<path clip-path="url(#c40)" d="M279.84 538L287.84 546M294.17 538L302.17 546M308.5 538L316.5 546M322.83 538L330.83 546M337.16 538L345.16 546M351.49 538L359.49 546M365.82 538L373.82 546M380.15 538L388.15 546" fill="none" stroke="#0000ff" stroke-width="2.2"/>
<clipPath id="c41"><rect x="282.8" y="540" width="99.7" height="4"/></clipPath>
<path clip-path="url(#c41)" d="M288.9 538L280.9 546M303.23 538L295.23 546M317.56 538L309.56 546M331.89 538L323.89 546M346.22 538L338.22 546M360.55 538L352.55 546M374.88 538L366.88 546M389.21 538L381.21 546" fill="none" stroke="#0000ff" stroke-width="2.2"/>
<clipPath id="c42"><rect x="382.5" y="540" width="99.7" height="4"/></clipPath>
<path clip-path="url(#c42)" d="M380.15 538L388.15 546M394.48 538L402.48 546M408.81 538L416.81 546M423.14 538L431.14 546M437.47 538L445.47 546M451.8 538L459.8 546M466.13 538L474.13 546M480.46 538L488.46 546" fill="none" stroke="#0000ff" stroke-width="2.2"/>
<clipPath id="c43"><rect x="382.5" y="540" width="99.7" height="3.5"/></clipPath>
<path clip-path="url(#c43)" d="M389.21 538L381.71 545.5M403.54 538L396.04 545.5M417.87 538L410.37 545.5M432.2 538L424.7 545.5M446.53 538L439.03 545.5M460.86 538L453.36 545.5M475.19 538L467.69 545.5M489.52 538L482.02 545.5" fill="none" stroke="#0000ff" stroke-width="2.2"/>
<clipPath id="c44"><rect x="482.2" y="537" width="99.7" height="9.2"/></clipPath>
<path clip-path="url(#c44)" d="M477.46 535L490.66 548.2M491.79 535L504.99 548.2M506.12 535L519.32 548.2M520.45 535L533.65 548.2M534.78 535L547.98 548.2M549.11 535L562.31 548.2M563.44 535L576.64 548.2M577.77 535L590.97 548.2" fill="none" stroke="#0000ff" stroke-width="2.2"/>
<clipPath id="c45"><rect x="482.2" y="537" width="99.7" height="9.2"/></clipPath>
<path clip-path="url(#c45)" d="M492.52 535L479.32 548.2M506.85 535L493.65 548.2M521.18 535L507.98 548.2M535.51 535L522.31 548.2M549.84 535L536.64 548.2M564.17 535L550.97 548.2M578.5 535L565.3 548.2M592.83 535L579.63 548.2" fill="none" stroke="#0000ff" stroke-width="2.2"/>
<clipPath id="c46"><rect x="581.9" y="525.3" width="99.7" height="21.5"/></clipPath>
<path clip-path="url(#c46)" d="M566.07 523.3L591.57 548.8M580.4 523.3L605.9 548.8M594.73 523.3L620.23 548.8M609.06 523.3L634.56 548.8M623.39 523.3L648.89 548.8M637.72 523.3L663.22 548.8M652.05 523.3L677.55 548.8M666.38 523.3L691.88 548.8M680.71 523.3L706.21 548.8" fill="none" stroke="#0000ff" stroke-width="2.2"/>
<clipPath id="c47"><rect x="581.9" y="525.3" width="99.7" height="21.5"/></clipPath>
<path clip-path="url(#c47)" d="M590.2 523.3L564.7 548.8M604.53 523.3L579.03 548.8M618.86 523.3L593.36 548.8M633.19 523.3L607.69 548.8M647.52 523.3L622.02 548.8M661.85 523.3L636.35 548.8M676.18 523.3L650.68 548.8M690.51 523.3L665.01 548.8M704.84 523.3L679.34 548.8" fill="none" stroke="#0000ff" stroke-width="2.2"/>
<line x1="83.4" y1="540.4" x2="681.6" y2="540.4" stroke="#0000ff" stroke-width="2.5"/>
<rect x="121.4" y="491.4" width="32.6" height="10.4" fill="rgb(220,213,243)"/>
<line x1="113.2" y1="496.6" x2="161.4" y2="496.6" stroke="#0000ff" stroke-width="2.2"/>
<text x="173.8" y="499" font-size="22" textLength="45.4" lengthAdjust="spacingAndGlyphs" stroke="#000" stroke-width="0.3">NLO</text>
<circle cx="232.5" cy="494.3" r="7" fill="none" stroke="#111" stroke-width="0.85"/>
<line x1="227.55" y1="489.35" x2="237.45" y2="499.25" stroke="#111" stroke-width="0.85"/>
<line x1="227.55" y1="499.25" x2="237.45" y2="489.35" stroke="#111" stroke-width="0.85"/>
<text x="246.4" y="499" font-size="22" textLength="24.6" lengthAdjust="spacingAndGlyphs" stroke="#000" stroke-width="0.3">PS</text>
<rect x="420.6" y="491.2" width="32.6" height="10.8" fill="rgb(178,160,228)"/>
<line x1="412.3" y1="496.6" x2="460.5" y2="496.6" stroke="#0000ff" stroke-width="2.2"/>
<text x="473.8" y="499" font-size="22" font-style="italic" textLength="12" lengthAdjust="spacingAndGlyphs" stroke="#000" stroke-width="0.3">μ</text>
<text x="485.8" y="502.6" font-size="15" textLength="12.2" lengthAdjust="spacingAndGlyphs" stroke="#000" stroke-width="0.3">H</text>
<clipPath id="c48"><rect x="121.4" y="574.7" width="32.6" height="10.4"/></clipPath>
<path clip-path="url(#c48)" d="M119.9 572.7L134.3 587.1M134.23 572.7L148.63 587.1M148.56 572.7L162.96 587.1" fill="none" stroke="#0000ff" stroke-width="2.2"/>
<line x1="113.2" y1="579.9" x2="161.4" y2="579.9" stroke="#0000ff" stroke-width="2.2"/>
<text x="174.4" y="583.1" font-size="22" font-style="italic" textLength="12" lengthAdjust="spacingAndGlyphs" stroke="#000" stroke-width="0.3">μ</text>
<text x="186.4" y="586.7" font-size="15" textLength="8.4" lengthAdjust="spacingAndGlyphs" stroke="#000" stroke-width="0.3">S</text>
<clipPath id="c49"><rect x="420.6" y="574.7" width="32.6" height="10.4"/></clipPath>
<path clip-path="url(#c49)" d="M425.27 572.7L410.87 587.1M439.6 572.7L425.2 587.1M453.93 572.7L439.53 587.1" fill="none" stroke="#0000ff" stroke-width="2.2"/>
<line x1="412.3" y1="579.9" x2="460.5" y2="579.9" stroke="#0000ff" stroke-width="2.2"/>
<text x="474.2" y="583.1" font-size="22" font-style="italic" textLength="14.4" lengthAdjust="spacingAndGlyphs" stroke="#000" stroke-width="0.3">Q</text>
<line x1="490.2" y1="586.7" x2="501.8" y2="586.7" stroke="#000" stroke-width="1"/>
<line x1="496" y1="577.1" x2="496" y2="586.7" stroke="#000" stroke-width="1"/>
<line x1="83.4" y1="66.6" x2="102.8" y2="66.6" stroke="#111" stroke-width="1"/>
<line x1="83.4" y1="41.86" x2="91.9" y2="41.86" stroke="#000" stroke-width="1.25"/>
<line x1="83.4" y1="27.38" x2="91.9" y2="27.38" stroke="#000" stroke-width="1.25"/>
<line x1="83.4" y1="17.11" x2="91.9" y2="17.11" stroke="#000" stroke-width="1.25"/>
<line x1="83.4" y1="9.14" x2="91.9" y2="9.14" stroke="#000" stroke-width="1.25"/>
<line x1="83.4" y1="148.8" x2="102.8" y2="148.8" stroke="#111" stroke-width="1"/>
<line x1="83.4" y1="124.06" x2="91.9" y2="124.06" stroke="#000" stroke-width="1.25"/>
<line x1="83.4" y1="109.58" x2="91.9" y2="109.58" stroke="#000" stroke-width="1.25"/>
<line x1="83.4" y1="99.31" x2="91.9" y2="99.31" stroke="#000" stroke-width="1.25"/>
<line x1="83.4" y1="91.34" x2="91.9" y2="91.34" stroke="#000" stroke-width="1.25"/>
<line x1="83.4" y1="84.84" x2="91.9" y2="84.84" stroke="#000" stroke-width="1.25"/>
<line x1="83.4" y1="79.33" x2="91.9" y2="79.33" stroke="#000" stroke-width="1.25"/>
<line x1="83.4" y1="74.57" x2="91.9" y2="74.57" stroke="#000" stroke-width="1.25"/>
<line x1="83.4" y1="70.36" x2="91.9" y2="70.36" stroke="#000" stroke-width="1.25"/>
<line x1="83.4" y1="231" x2="102.8" y2="231" stroke="#111" stroke-width="1"/>
<line x1="83.4" y1="206.26" x2="91.9" y2="206.26" stroke="#000" stroke-width="1.25"/>
<line x1="83.4" y1="191.78" x2="91.9" y2="191.78" stroke="#000" stroke-width="1.25"/>
<line x1="83.4" y1="181.51" x2="91.9" y2="181.51" stroke="#000" stroke-width="1.25"/>
<line x1="83.4" y1="173.54" x2="91.9" y2="173.54" stroke="#000" stroke-width="1.25"/>
<line x1="83.4" y1="167.04" x2="91.9" y2="167.04" stroke="#000" stroke-width="1.25"/>
<line x1="83.4" y1="161.53" x2="91.9" y2="161.53" stroke="#000" stroke-width="1.25"/>
<line x1="83.4" y1="156.77" x2="91.9" y2="156.77" stroke="#000" stroke-width="1.25"/>
<line x1="83.4" y1="152.56" x2="91.9" y2="152.56" stroke="#000" stroke-width="1.25"/>
<line x1="83.4" y1="238.97" x2="91.9" y2="238.97" stroke="#000" stroke-width="1.25"/>
<line x1="83.4" y1="234.76" x2="91.9" y2="234.76" stroke="#000" stroke-width="1.25"/>
<line x1="83.4" y1="354.97" x2="91.9" y2="354.97" stroke="#000" stroke-width="1.25"/>
<line x1="83.4" y1="348.99" x2="91.9" y2="348.99" stroke="#000" stroke-width="1.25"/>
<line x1="83.4" y1="343.01" x2="91.9" y2="343.01" stroke="#000" stroke-width="1.25"/>
<line x1="83.4" y1="337.03" x2="91.9" y2="337.03" stroke="#000" stroke-width="1.25"/>
<line x1="83.4" y1="331.05" x2="102.8" y2="331.05" stroke="#111" stroke-width="1"/>
<line x1="83.4" y1="325.07" x2="91.9" y2="325.07" stroke="#000" stroke-width="1.25"/>
<line x1="83.4" y1="319.09" x2="91.9" y2="319.09" stroke="#000" stroke-width="1.25"/>
<line x1="83.4" y1="313.11" x2="91.9" y2="313.11" stroke="#000" stroke-width="1.25"/>
<line x1="83.4" y1="307.13" x2="91.9" y2="307.13" stroke="#000" stroke-width="1.25"/>
<line x1="83.4" y1="301.15" x2="102.8" y2="301.15" stroke="#111" stroke-width="1"/>
<line x1="83.4" y1="295.17" x2="91.9" y2="295.17" stroke="#000" stroke-width="1.25"/>
<line x1="83.4" y1="289.19" x2="91.9" y2="289.19" stroke="#000" stroke-width="1.25"/>
<line x1="83.4" y1="283.21" x2="91.9" y2="283.21" stroke="#000" stroke-width="1.25"/>
<line x1="83.4" y1="277.23" x2="91.9" y2="277.23" stroke="#000" stroke-width="1.25"/>
<line x1="83.4" y1="271.25" x2="102.8" y2="271.25" stroke="#111" stroke-width="1"/>
<line x1="83.4" y1="265.27" x2="91.9" y2="265.27" stroke="#000" stroke-width="1.25"/>
<line x1="83.4" y1="259.29" x2="91.9" y2="259.29" stroke="#000" stroke-width="1.25"/>
<line x1="83.4" y1="253.31" x2="91.9" y2="253.31" stroke="#000" stroke-width="1.25"/>
<line x1="83.4" y1="247.33" x2="91.9" y2="247.33" stroke="#000" stroke-width="1.25"/>
<line x1="83.4" y1="474.52" x2="91.9" y2="474.52" stroke="#000" stroke-width="1.25"/>
<line x1="83.4" y1="468.55" x2="91.9" y2="468.55" stroke="#000" stroke-width="1.25"/>
<line x1="83.4" y1="462.57" x2="91.9" y2="462.57" stroke="#000" stroke-width="1.25"/>
<line x1="83.4" y1="456.59" x2="91.9" y2="456.59" stroke="#000" stroke-width="1.25"/>
<line x1="83.4" y1="450.61" x2="102.8" y2="450.61" stroke="#111" stroke-width="1"/>
<line x1="83.4" y1="444.63" x2="91.9" y2="444.63" stroke="#000" stroke-width="1.25"/>
<line x1="83.4" y1="438.66" x2="91.9" y2="438.66" stroke="#000" stroke-width="1.25"/>
<line x1="83.4" y1="432.68" x2="91.9" y2="432.68" stroke="#000" stroke-width="1.25"/>
<line x1="83.4" y1="426.7" x2="91.9" y2="426.7" stroke="#000" stroke-width="1.25"/>
<line x1="83.4" y1="420.73" x2="102.8" y2="420.73" stroke="#111" stroke-width="1"/>
<line x1="83.4" y1="414.75" x2="91.9" y2="414.75" stroke="#000" stroke-width="1.25"/>
<line x1="83.4" y1="408.77" x2="91.9" y2="408.77" stroke="#000" stroke-width="1.25"/>
<line x1="83.4" y1="402.79" x2="91.9" y2="402.79" stroke="#000" stroke-width="1.25"/>
<line x1="83.4" y1="396.81" x2="91.9" y2="396.81" stroke="#000" stroke-width="1.25"/>
<line x1="83.4" y1="390.84" x2="102.8" y2="390.84" stroke="#111" stroke-width="1"/>
<line x1="83.4" y1="384.86" x2="91.9" y2="384.86" stroke="#000" stroke-width="1.25"/>
<line x1="83.4" y1="378.88" x2="91.9" y2="378.88" stroke="#000" stroke-width="1.25"/>
<line x1="83.4" y1="372.9" x2="91.9" y2="372.9" stroke="#000" stroke-width="1.25"/>
<line x1="83.4" y1="366.93" x2="91.9" y2="366.93" stroke="#000" stroke-width="1.25"/>
<line x1="83.4" y1="594.12" x2="91.9" y2="594.12" stroke="#000" stroke-width="1.25"/>
<line x1="83.4" y1="588.14" x2="91.9" y2="588.14" stroke="#000" stroke-width="1.25"/>
<line x1="83.4" y1="582.16" x2="91.9" y2="582.16" stroke="#000" stroke-width="1.25"/>
<line x1="83.4" y1="576.18" x2="91.9" y2="576.18" stroke="#000" stroke-width="1.25"/>
<line x1="83.4" y1="570.2" x2="102.8" y2="570.2" stroke="#111" stroke-width="1"/>
<line x1="83.4" y1="564.22" x2="91.9" y2="564.22" stroke="#000" stroke-width="1.25"/>
<line x1="83.4" y1="558.24" x2="91.9" y2="558.24" stroke="#000" stroke-width="1.25"/>
<line x1="83.4" y1="552.26" x2="91.9" y2="552.26" stroke="#000" stroke-width="1.25"/>
<line x1="83.4" y1="546.28" x2="91.9" y2="546.28" stroke="#000" stroke-width="1.25"/>
<line x1="83.4" y1="540.3" x2="102.8" y2="540.3" stroke="#111" stroke-width="1"/>
<line x1="83.4" y1="534.32" x2="91.9" y2="534.32" stroke="#000" stroke-width="1.25"/>
<line x1="83.4" y1="528.34" x2="91.9" y2="528.34" stroke="#000" stroke-width="1.25"/>
<line x1="83.4" y1="522.36" x2="91.9" y2="522.36" stroke="#000" stroke-width="1.25"/>
<line x1="83.4" y1="516.38" x2="91.9" y2="516.38" stroke="#000" stroke-width="1.25"/>
<line x1="83.4" y1="510.4" x2="102.8" y2="510.4" stroke="#111" stroke-width="1"/>
<line x1="83.4" y1="504.42" x2="91.9" y2="504.42" stroke="#000" stroke-width="1.25"/>
<line x1="83.4" y1="498.44" x2="91.9" y2="498.44" stroke="#000" stroke-width="1.25"/>
<line x1="83.4" y1="492.46" x2="91.9" y2="492.46" stroke="#000" stroke-width="1.25"/>
<line x1="83.4" y1="486.48" x2="91.9" y2="486.48" stroke="#000" stroke-width="1.25"/>
<line x1="93.37" y1="241.35" x2="93.37" y2="232.85" stroke="#000" stroke-width="1.2"/>
<line x1="113.31" y1="241.35" x2="113.31" y2="232.85" stroke="#000" stroke-width="1.2"/>
<line x1="133.25" y1="241.35" x2="133.25" y2="232.85" stroke="#000" stroke-width="1.2"/>
<line x1="153.19" y1="241.35" x2="153.19" y2="232.85" stroke="#000" stroke-width="1.2"/>
<line x1="173.13" y1="241.35" x2="173.13" y2="232.85" stroke="#000" stroke-width="1.2"/>
<line x1="193.07" y1="241.35" x2="193.07" y2="232.85" stroke="#000" stroke-width="1.2"/>
<line x1="213.01" y1="241.35" x2="213.01" y2="232.85" stroke="#000" stroke-width="1.2"/>
<line x1="232.95" y1="241.35" x2="232.95" y2="232.85" stroke="#000" stroke-width="1.2"/>
<line x1="252.89" y1="241.35" x2="252.89" y2="232.85" stroke="#000" stroke-width="1.2"/>
<line x1="272.83" y1="241.35" x2="272.83" y2="232.85" stroke="#000" stroke-width="1.2"/>
<line x1="292.77" y1="241.35" x2="292.77" y2="232.85" stroke="#000" stroke-width="1.2"/>
<line x1="312.71" y1="241.35" x2="312.71" y2="232.85" stroke="#000" stroke-width="1.2"/>
<line x1="332.65" y1="241.35" x2="332.65" y2="232.85" stroke="#000" stroke-width="1.2"/>
<line x1="352.59" y1="241.35" x2="352.59" y2="232.85" stroke="#000" stroke-width="1.2"/>
<line x1="372.53" y1="241.35" x2="372.53" y2="232.85" stroke="#000" stroke-width="1.2"/>
<line x1="392.47" y1="241.35" x2="392.47" y2="232.85" stroke="#000" stroke-width="1.2"/>
<line x1="412.41" y1="241.35" x2="412.41" y2="232.85" stroke="#000" stroke-width="1.2"/>
<line x1="432.35" y1="241.35" x2="432.35" y2="232.85" stroke="#000" stroke-width="1.2"/>
<line x1="452.29" y1="241.35" x2="452.29" y2="232.85" stroke="#000" stroke-width="1.2"/>
<line x1="472.23" y1="241.35" x2="472.23" y2="232.85" stroke="#000" stroke-width="1.2"/>
<line x1="492.17" y1="241.35" x2="492.17" y2="232.85" stroke="#000" stroke-width="1.2"/>
<line x1="512.11" y1="241.35" x2="512.11" y2="232.85" stroke="#000" stroke-width="1.2"/>
<line x1="532.05" y1="241.35" x2="532.05" y2="232.85" stroke="#000" stroke-width="1.2"/>
<line x1="551.99" y1="241.35" x2="551.99" y2="232.85" stroke="#000" stroke-width="1.2"/>
<line x1="571.93" y1="241.35" x2="571.93" y2="232.85" stroke="#000" stroke-width="1.2"/>
<line x1="591.87" y1="241.35" x2="591.87" y2="232.85" stroke="#000" stroke-width="1.2"/>
<line x1="611.81" y1="241.35" x2="611.81" y2="232.85" stroke="#000" stroke-width="1.2"/>
<line x1="631.75" y1="241.35" x2="631.75" y2="232.85" stroke="#000" stroke-width="1.2"/>
<line x1="651.69" y1="241.35" x2="651.69" y2="232.85" stroke="#000" stroke-width="1.2"/>
<line x1="671.63" y1="241.35" x2="671.63" y2="232.85" stroke="#000" stroke-width="1.2"/>
<line x1="133.25" y1="241.35" x2="133.25" y2="222.55" stroke="#111" stroke-width="1"/>
<line x1="232.95" y1="241.35" x2="232.95" y2="222.55" stroke="#111" stroke-width="1"/>
<line x1="332.65" y1="241.35" x2="332.65" y2="222.55" stroke="#111" stroke-width="1"/>
<line x1="432.35" y1="241.35" x2="432.35" y2="222.55" stroke="#111" stroke-width="1"/>
<line x1="532.05" y1="241.35" x2="532.05" y2="222.55" stroke="#111" stroke-width="1"/>
<line x1="631.75" y1="241.35" x2="631.75" y2="222.55" stroke="#111" stroke-width="1"/>
<line x1="93.37" y1="360.95" x2="93.37" y2="352.45" stroke="#000" stroke-width="1.2"/>
<line x1="113.31" y1="360.95" x2="113.31" y2="352.45" stroke="#000" stroke-width="1.2"/>
<line x1="133.25" y1="360.95" x2="133.25" y2="352.45" stroke="#000" stroke-width="1.2"/>
<line x1="153.19" y1="360.95" x2="153.19" y2="352.45" stroke="#000" stroke-width="1.2"/>
<line x1="173.13" y1="360.95" x2="173.13" y2="352.45" stroke="#000" stroke-width="1.2"/>
<line x1="193.07" y1="360.95" x2="193.07" y2="352.45" stroke="#000" stroke-width="1.2"/>
<line x1="213.01" y1="360.95" x2="213.01" y2="352.45" stroke="#000" stroke-width="1.2"/>
<line x1="232.95" y1="360.95" x2="232.95" y2="352.45" stroke="#000" stroke-width="1.2"/>
<line x1="252.89" y1="360.95" x2="252.89" y2="352.45" stroke="#000" stroke-width="1.2"/>
<line x1="272.83" y1="360.95" x2="272.83" y2="352.45" stroke="#000" stroke-width="1.2"/>
<line x1="292.77" y1="360.95" x2="292.77" y2="352.45" stroke="#000" stroke-width="1.2"/>
<line x1="312.71" y1="360.95" x2="312.71" y2="352.45" stroke="#000" stroke-width="1.2"/>
<line x1="332.65" y1="360.95" x2="332.65" y2="352.45" stroke="#000" stroke-width="1.2"/>
<line x1="352.59" y1="360.95" x2="352.59" y2="352.45" stroke="#000" stroke-width="1.2"/>
<line x1="372.53" y1="360.95" x2="372.53" y2="352.45" stroke="#000" stroke-width="1.2"/>
<line x1="392.47" y1="360.95" x2="392.47" y2="352.45" stroke="#000" stroke-width="1.2"/>
<line x1="412.41" y1="360.95" x2="412.41" y2="352.45" stroke="#000" stroke-width="1.2"/>
<line x1="432.35" y1="360.95" x2="432.35" y2="352.45" stroke="#000" stroke-width="1.2"/>
<line x1="452.29" y1="360.95" x2="452.29" y2="352.45" stroke="#000" stroke-width="1.2"/>
<line x1="472.23" y1="360.95" x2="472.23" y2="352.45" stroke="#000" stroke-width="1.2"/>
<line x1="492.17" y1="360.95" x2="492.17" y2="352.45" stroke="#000" stroke-width="1.2"/>
<line x1="512.11" y1="360.95" x2="512.11" y2="352.45" stroke="#000" stroke-width="1.2"/>
<line x1="532.05" y1="360.95" x2="532.05" y2="352.45" stroke="#000" stroke-width="1.2"/>
<line x1="551.99" y1="360.95" x2="551.99" y2="352.45" stroke="#000" stroke-width="1.2"/>
<line x1="571.93" y1="360.95" x2="571.93" y2="352.45" stroke="#000" stroke-width="1.2"/>
<line x1="591.87" y1="360.95" x2="591.87" y2="352.45" stroke="#000" stroke-width="1.2"/>
<line x1="611.81" y1="360.95" x2="611.81" y2="352.45" stroke="#000" stroke-width="1.2"/>
<line x1="631.75" y1="360.95" x2="631.75" y2="352.45" stroke="#000" stroke-width="1.2"/>
<line x1="651.69" y1="360.95" x2="651.69" y2="352.45" stroke="#000" stroke-width="1.2"/>
<line x1="671.63" y1="360.95" x2="671.63" y2="352.45" stroke="#000" stroke-width="1.2"/>
<line x1="133.25" y1="360.95" x2="133.25" y2="342.15" stroke="#111" stroke-width="1"/>
<line x1="232.95" y1="360.95" x2="232.95" y2="342.15" stroke="#111" stroke-width="1"/>
<line x1="332.65" y1="360.95" x2="332.65" y2="342.15" stroke="#111" stroke-width="1"/>
<line x1="432.35" y1="360.95" x2="432.35" y2="342.15" stroke="#111" stroke-width="1"/>
<line x1="532.05" y1="360.95" x2="532.05" y2="342.15" stroke="#111" stroke-width="1"/>
<line x1="631.75" y1="360.95" x2="631.75" y2="342.15" stroke="#111" stroke-width="1"/>
<line x1="93.37" y1="480.5" x2="93.37" y2="472" stroke="#000" stroke-width="1.2"/>
<line x1="113.31" y1="480.5" x2="113.31" y2="472" stroke="#000" stroke-width="1.2"/>
<line x1="133.25" y1="480.5" x2="133.25" y2="472" stroke="#000" stroke-width="1.2"/>
<line x1="153.19" y1="480.5" x2="153.19" y2="472" stroke="#000" stroke-width="1.2"/>
<line x1="173.13" y1="480.5" x2="173.13" y2="472" stroke="#000" stroke-width="1.2"/>
<line x1="193.07" y1="480.5" x2="193.07" y2="472" stroke="#000" stroke-width="1.2"/>
<line x1="213.01" y1="480.5" x2="213.01" y2="472" stroke="#000" stroke-width="1.2"/>
<line x1="232.95" y1="480.5" x2="232.95" y2="472" stroke="#000" stroke-width="1.2"/>
<line x1="252.89" y1="480.5" x2="252.89" y2="472" stroke="#000" stroke-width="1.2"/>
<line x1="272.83" y1="480.5" x2="272.83" y2="472" stroke="#000" stroke-width="1.2"/>
<line x1="292.77" y1="480.5" x2="292.77" y2="472" stroke="#000" stroke-width="1.2"/>
<line x1="312.71" y1="480.5" x2="312.71" y2="472" stroke="#000" stroke-width="1.2"/>
<line x1="332.65" y1="480.5" x2="332.65" y2="472" stroke="#000" stroke-width="1.2"/>
<line x1="352.59" y1="480.5" x2="352.59" y2="472" stroke="#000" stroke-width="1.2"/>
<line x1="372.53" y1="480.5" x2="372.53" y2="472" stroke="#000" stroke-width="1.2"/>
<line x1="392.47" y1="480.5" x2="392.47" y2="472" stroke="#000" stroke-width="1.2"/>
<line x1="412.41" y1="480.5" x2="412.41" y2="472" stroke="#000" stroke-width="1.2"/>
<line x1="432.35" y1="480.5" x2="432.35" y2="472" stroke="#000" stroke-width="1.2"/>
<line x1="452.29" y1="480.5" x2="452.29" y2="472" stroke="#000" stroke-width="1.2"/>
<line x1="472.23" y1="480.5" x2="472.23" y2="472" stroke="#000" stroke-width="1.2"/>
<line x1="492.17" y1="480.5" x2="492.17" y2="472" stroke="#000" stroke-width="1.2"/>
<line x1="512.11" y1="480.5" x2="512.11" y2="472" stroke="#000" stroke-width="1.2"/>
<line x1="532.05" y1="480.5" x2="532.05" y2="472" stroke="#000" stroke-width="1.2"/>
<line x1="551.99" y1="480.5" x2="551.99" y2="472" stroke="#000" stroke-width="1.2"/>
<line x1="571.93" y1="480.5" x2="571.93" y2="472" stroke="#000" stroke-width="1.2"/>
<line x1="591.87" y1="480.5" x2="591.87" y2="472" stroke="#000" stroke-width="1.2"/>
<line x1="611.81" y1="480.5" x2="611.81" y2="472" stroke="#000" stroke-width="1.2"/>
<line x1="631.75" y1="480.5" x2="631.75" y2="472" stroke="#000" stroke-width="1.2"/>
<line x1="651.69" y1="480.5" x2="651.69" y2="472" stroke="#000" stroke-width="1.2"/>
<line x1="671.63" y1="480.5" x2="671.63" y2="472" stroke="#000" stroke-width="1.2"/>
<line x1="133.25" y1="480.5" x2="133.25" y2="461.7" stroke="#111" stroke-width="1"/>
<line x1="232.95" y1="480.5" x2="232.95" y2="461.7" stroke="#111" stroke-width="1"/>
<line x1="332.65" y1="480.5" x2="332.65" y2="461.7" stroke="#111" stroke-width="1"/>
<line x1="432.35" y1="480.5" x2="432.35" y2="461.7" stroke="#111" stroke-width="1"/>
<line x1="532.05" y1="480.5" x2="532.05" y2="461.7" stroke="#111" stroke-width="1"/>
<line x1="631.75" y1="480.5" x2="631.75" y2="461.7" stroke="#111" stroke-width="1"/>
<line x1="93.37" y1="600.1" x2="93.37" y2="591.6" stroke="#000" stroke-width="1.2"/>
<line x1="113.31" y1="600.1" x2="113.31" y2="591.6" stroke="#000" stroke-width="1.2"/>
<line x1="133.25" y1="600.1" x2="133.25" y2="591.6" stroke="#000" stroke-width="1.2"/>
<line x1="153.19" y1="600.1" x2="153.19" y2="591.6" stroke="#000" stroke-width="1.2"/>
<line x1="173.13" y1="600.1" x2="173.13" y2="591.6" stroke="#000" stroke-width="1.2"/>
<line x1="193.07" y1="600.1" x2="193.07" y2="591.6" stroke="#000" stroke-width="1.2"/>
<line x1="213.01" y1="600.1" x2="213.01" y2="591.6" stroke="#000" stroke-width="1.2"/>
<line x1="232.95" y1="600.1" x2="232.95" y2="591.6" stroke="#000" stroke-width="1.2"/>
<line x1="252.89" y1="600.1" x2="252.89" y2="591.6" stroke="#000" stroke-width="1.2"/>
<line x1="272.83" y1="600.1" x2="272.83" y2="591.6" stroke="#000" stroke-width="1.2"/>
<line x1="292.77" y1="600.1" x2="292.77" y2="591.6" stroke="#000" stroke-width="1.2"/>
<line x1="312.71" y1="600.1" x2="312.71" y2="591.6" stroke="#000" stroke-width="1.2"/>
<line x1="332.65" y1="600.1" x2="332.65" y2="591.6" stroke="#000" stroke-width="1.2"/>
<line x1="352.59" y1="600.1" x2="352.59" y2="591.6" stroke="#000" stroke-width="1.2"/>
<line x1="372.53" y1="600.1" x2="372.53" y2="591.6" stroke="#000" stroke-width="1.2"/>
<line x1="392.47" y1="600.1" x2="392.47" y2="591.6" stroke="#000" stroke-width="1.2"/>
<line x1="412.41" y1="600.1" x2="412.41" y2="591.6" stroke="#000" stroke-width="1.2"/>
<line x1="432.35" y1="600.1" x2="432.35" y2="591.6" stroke="#000" stroke-width="1.2"/>
<line x1="452.29" y1="600.1" x2="452.29" y2="591.6" stroke="#000" stroke-width="1.2"/>
<line x1="472.23" y1="600.1" x2="472.23" y2="591.6" stroke="#000" stroke-width="1.2"/>
<line x1="492.17" y1="600.1" x2="492.17" y2="591.6" stroke="#000" stroke-width="1.2"/>
<line x1="512.11" y1="600.1" x2="512.11" y2="591.6" stroke="#000" stroke-width="1.2"/>
<line x1="532.05" y1="600.1" x2="532.05" y2="591.6" stroke="#000" stroke-width="1.2"/>
<line x1="551.99" y1="600.1" x2="551.99" y2="591.6" stroke="#000" stroke-width="1.2"/>
<line x1="571.93" y1="600.1" x2="571.93" y2="591.6" stroke="#000" stroke-width="1.2"/>
<line x1="591.87" y1="600.1" x2="591.87" y2="591.6" stroke="#000" stroke-width="1.2"/>
<line x1="611.81" y1="600.1" x2="611.81" y2="591.6" stroke="#000" stroke-width="1.2"/>
<line x1="631.75" y1="600.1" x2="631.75" y2="591.6" stroke="#000" stroke-width="1.2"/>
<line x1="651.69" y1="600.1" x2="651.69" y2="591.6" stroke="#000" stroke-width="1.2"/>
<line x1="671.63" y1="600.1" x2="671.63" y2="591.6" stroke="#000" stroke-width="1.2"/>
<line x1="133.25" y1="600.1" x2="133.25" y2="581.3" stroke="#111" stroke-width="1"/>
<line x1="232.95" y1="600.1" x2="232.95" y2="581.3" stroke="#111" stroke-width="1"/>
<line x1="332.65" y1="600.1" x2="332.65" y2="581.3" stroke="#111" stroke-width="1"/>
<line x1="432.35" y1="600.1" x2="432.35" y2="581.3" stroke="#111" stroke-width="1"/>
<line x1="532.05" y1="600.1" x2="532.05" y2="581.3" stroke="#111" stroke-width="1"/>
<line x1="631.75" y1="600.1" x2="631.75" y2="581.3" stroke="#111" stroke-width="1"/>
<line x1="82.9" y1="241.35" x2="682.1" y2="241.35" stroke="#000" stroke-width="1.2"/>
<line x1="82.9" y1="360.95" x2="682.1" y2="360.95" stroke="#000" stroke-width="1.2"/>
<line x1="82.9" y1="480.5" x2="682.1" y2="480.5" stroke="#000" stroke-width="1.2"/>
<line x1="82.9" y1="600.2" x2="682.1" y2="600.2" stroke="#222" stroke-width="1"/>
<line x1="82.9" y1="2.3" x2="682.1" y2="2.3" stroke="#000" stroke-width="1.3"/>
<line x1="83.4" y1="2.3" x2="83.4" y2="600.1" stroke="#333" stroke-width="1"/>
<line x1="681.6" y1="2.3" x2="681.6" y2="600.1" stroke="#555" stroke-width="1"/>
<text x="72.4" y="71.4" font-size="20.5" text-anchor="end" stroke="#000" stroke-width="0.3">1</text>
<text x="30.4" y="154.2" font-size="20.5" stroke="#000" stroke-width="0.3">10</text>
<text x="51" y="146.8" font-size="15" textLength="19.6" lengthAdjust="spacingAndGlyphs" stroke="#000" stroke-width="0.3">−1</text>
<text x="30.4" y="236.7" font-size="20.5" stroke="#000" stroke-width="0.3">10</text>
<text x="51" y="229.3" font-size="15" textLength="19.6" lengthAdjust="spacingAndGlyphs" stroke="#000" stroke-width="0.3">−2</text>
<text x="72.6" y="366.15" font-size="20.5" text-anchor="end" stroke="#000" stroke-width="0.3">0</text>
<text x="72.6" y="336.27" font-size="20.5" text-anchor="end" stroke="#000" stroke-width="0.3">0.5</text>
<text x="72.6" y="306.4" font-size="20.5" text-anchor="end" stroke="#000" stroke-width="0.3">1</text>
<text x="72.6" y="276.52" font-size="20.5" text-anchor="end" stroke="#000" stroke-width="0.3">1.5</text>
<text x="72.6" y="485.7" font-size="20.5" text-anchor="end" stroke="#000" stroke-width="0.3">0</text>
<text x="72.6" y="455.82" font-size="20.5" text-anchor="end" stroke="#000" stroke-width="0.3">0.5</text>
<text x="72.6" y="425.95" font-size="20.5" text-anchor="end" stroke="#000" stroke-width="0.3">1</text>
<text x="72.6" y="396.07" font-size="20.5" text-anchor="end" stroke="#000" stroke-width="0.3">1.5</text>
<text x="72.6" y="605.3" font-size="20.5" text-anchor="end" stroke="#000" stroke-width="0.3">0</text>
<text x="72.6" y="575.43" font-size="20.5" text-anchor="end" stroke="#000" stroke-width="0.3">0.5</text>
<text x="72.6" y="545.55" font-size="20.5" text-anchor="end" stroke="#000" stroke-width="0.3">1</text>
<text x="72.6" y="515.68" font-size="20.5" text-anchor="end" stroke="#000" stroke-width="0.3">1.5</text>
<text x="133.25" y="624" font-size="20.5" text-anchor="middle" stroke="#000" stroke-width="0.3">3</text>
<text x="232.95" y="624" font-size="20.5" text-anchor="middle" stroke="#000" stroke-width="0.3">4</text>
<text x="332.65" y="624" font-size="20.5" text-anchor="middle" stroke="#000" stroke-width="0.3">5</text>
<text x="432.35" y="624" font-size="20.5" text-anchor="middle" stroke="#000" stroke-width="0.3">6</text>
<text x="532.05" y="624" font-size="20.5" text-anchor="middle" stroke="#000" stroke-width="0.3">7</text>
<text x="631.75" y="624" font-size="20.5" text-anchor="middle" stroke="#000" stroke-width="0.3">8</text>
<text x="505.6" y="649" font-size="20.5" font-style="italic" textLength="10.8" lengthAdjust="spacingAndGlyphs" stroke="#000" stroke-width="0.3">n</text>
<text x="517.6" y="653.2" font-size="15" textLength="22.4" lengthAdjust="spacingAndGlyphs" stroke="#000" stroke-width="0.3">jets</text>
<text x="542.4" y="649" font-size="20.5" textLength="5.6" lengthAdjust="spacingAndGlyphs" stroke="#000" stroke-width="0.3">(</text>
<text x="549.6" y="649" font-size="20.5" font-style="italic" textLength="11.6" lengthAdjust="spacingAndGlyphs" stroke="#000" stroke-width="0.3">p</text>
<line x1="563.2" y1="653.2" x2="575.4" y2="653.2" stroke="#000" stroke-width="1"/>
<line x1="569.3" y1="643.8" x2="569.3" y2="653.2" stroke="#000" stroke-width="1"/>
<path d="M585.4 639.0L600.8 644.7L585.4 650.4" fill="none" stroke="#000" stroke-width="1.1"/>
<text x="607" y="649" font-size="20.5" textLength="19.2" lengthAdjust="spacingAndGlyphs" stroke="#000" stroke-width="0.3">25</text>
<text x="630.8" y="649" font-size="20.5" textLength="39.4" lengthAdjust="spacingAndGlyphs" stroke="#000" stroke-width="0.3">GeV</text>
<text x="672.6" y="649" font-size="20.5" textLength="6" lengthAdjust="spacingAndGlyphs" stroke="#000" stroke-width="0.3">)</text>
<g transform="translate(16.1,135.6) rotate(-90)">
<text x="0" y="0" font-size="22" textLength="11.6" lengthAdjust="spacingAndGlyphs" stroke="#000" stroke-width="0.3">d</text>
<text x="12.6" y="0" font-size="22" font-style="italic" textLength="13.2" lengthAdjust="spacingAndGlyphs" stroke="#000" stroke-width="0.3">σ</text>
<line x1="28.6" y1="1.6" x2="39.2" y2="-13.4" stroke="#000" stroke-width="1.15"/>
<text x="38.6" y="0" font-size="22" textLength="11.6" lengthAdjust="spacingAndGlyphs" stroke="#000" stroke-width="0.3">d</text>
<text x="50.8" y="0" font-size="22" font-style="italic" textLength="12" lengthAdjust="spacingAndGlyphs" stroke="#000" stroke-width="0.3">n</text>
<text x="64" y="3.9" font-size="16" textLength="23" lengthAdjust="spacingAndGlyphs" stroke="#000" stroke-width="0.3">jets</text>
<text x="95" y="0" font-size="22" textLength="37.8" lengthAdjust="spacingAndGlyphs" stroke="#000" stroke-width="0.3">[pb]</text>
</g>
</g>
<g transform="translate(0.5,1405.35)">
<rect x="83.4" y="13.15" width="99.7" height="3.5" fill="rgb(254,224,208)"/>
<rect x="83.4" y="11.35" width="99.7" height="4.8" fill="rgb(220,213,243)"/>
<rect x="83.4" y="13.15" width="99.7" height="3" fill="rgb(212,177,192)"/>
<rect x="183.1" y="15.15" width="99.7" height="2.5" fill="rgb(254,224,208)"/>
<rect x="183.1" y="14.65" width="99.7" height="3.5" fill="rgb(220,213,243)"/>
<rect x="183.1" y="15.15" width="99.7" height="2.5" fill="rgb(212,177,192)"/>
<rect x="282.8" y="40.65" width="99.7" height="7" fill="rgb(254,224,208)"/>
<rect x="282.8" y="40.65" width="99.7" height="13.3" fill="rgb(220,213,243)"/>
<rect x="282.8" y="40.65" width="99.7" height="7" fill="rgb(212,177,192)"/>
<rect x="382.5" y="75.75" width="99.7" height="23.4" fill="rgb(254,224,208)"/>
<rect x="382.5" y="81.15" width="99.7" height="18" fill="rgb(220,213,243)"/>
<rect x="382.5" y="81.15" width="99.7" height="18" fill="rgb(212,177,192)"/>
<rect x="482.2" y="118.25" width="99.7" height="38.9" fill="rgb(254,224,208)"/>
<rect x="482.2" y="126.55" width="99.7" height="26.9" fill="rgb(220,213,243)"/>
<rect x="482.2" y="126.55" width="99.7" height="26.9" fill="rgb(212,177,192)"/>
<rect x="581.9" y="157.15" width="99.7" height="64.4" fill="rgb(254,224,208)"/>
<rect x="581.9" y="165.45" width="99.7" height="41.7" fill="rgb(220,213,243)"/>
<rect x="581.9" y="165.45" width="99.7" height="41.7" fill="rgb(212,177,192)"/>
<line x1="83.4" y1="14" x2="183.1" y2="14" stroke="#15121c" stroke-width="1.4"/>
<line x1="133.25" y1="9.1" x2="133.25" y2="19.6" stroke="#15121c" stroke-width="1.3"/>
<circle cx="133.25" cy="14" r="3.3" fill="#15121c"/>
<line x1="183.1" y1="18.9" x2="282.8" y2="18.9" stroke="#15121c" stroke-width="1.4"/>
<line x1="232.95" y1="16.5" x2="232.95" y2="21.5" stroke="#15121c" stroke-width="1.3"/>
<circle cx="232.95" cy="18.9" r="3.3" fill="#15121c"/>
<line x1="282.8" y1="47.1" x2="382.5" y2="47.1" stroke="#15121c" stroke-width="1.4"/>
<line x1="332.65" y1="45.3" x2="332.65" y2="49" stroke="#15121c" stroke-width="1.3"/>
<circle cx="332.65" cy="47.1" r="3.3" fill="#15121c"/>
<line x1="382.5" y1="84" x2="482.2" y2="84" stroke="#15121c" stroke-width="1.4"/>
<line x1="432.35" y1="78.7" x2="432.35" y2="90" stroke="#15121c" stroke-width="1.3"/>
<circle cx="432.35" cy="84" r="3.3" fill="#15121c"/>
<line x1="482.2" y1="131.7" x2="581.9" y2="131.7" stroke="#15121c" stroke-width="1.4"/>
<line x1="532.05" y1="124.5" x2="532.05" y2="139.9" stroke="#15121c" stroke-width="1.3"/>
<circle cx="532.05" cy="131.7" r="3.3" fill="#15121c"/>
<line x1="581.9" y1="179.4" x2="681.6" y2="179.4" stroke="#15121c" stroke-width="1.4"/>
<line x1="631.75" y1="170.3" x2="631.75" y2="191.7" stroke="#15121c" stroke-width="1.3"/>
<circle cx="631.75" cy="179.4" r="3.3" fill="#15121c"/>
<path d="M83.4 14.95L83.4 14.95L183.1 14.95L183.1 15.65L282.8 15.65L282.8 43.75L382.5 43.75L382.5 83.55L482.2 83.55L482.2 132.85L581.9 132.85L581.9 179.95L681.6 179.95" fill="none" stroke="#ff0000" stroke-width="1.7" stroke-linejoin="miter"/>
<line x1="84.6" y1="14.95" x2="181.9" y2="14.95" stroke="rgb(206,28,44)" stroke-width="1.7"/>
<line x1="184.3" y1="15.65" x2="281.6" y2="15.65" stroke="rgb(206,28,44)" stroke-width="1.7"/>
<line x1="284" y1="43.75" x2="381.3" y2="43.75" stroke="rgb(206,28,44)" stroke-width="1.7"/>
<line x1="383.7" y1="83.55" x2="481" y2="83.55" stroke="rgb(206,28,44)" stroke-width="1.7"/>
<line x1="483.4" y1="132.85" x2="580.7" y2="132.85" stroke="rgb(206,28,44)" stroke-width="1.7"/>
<line x1="583.1" y1="179.95" x2="680.4" y2="179.95" stroke="rgb(206,28,44)" stroke-width="1.7"/>
<path d="M83.4 13.65L83.4 13.65L183.1 13.65L183.1 16.25L282.8 16.25L282.8 46.55L382.5 46.55L382.5 88.35L482.2 88.35L482.2 136.65L581.9 136.65L581.9 181.05L681.6 181.05" fill="none" stroke="#0000ff" stroke-width="1.9" stroke-linejoin="miter"/>
<line x1="84.35" y1="13.65" x2="84.35" y2="241.35" stroke="#4a00d0" stroke-width="1.2"/>
<rect x="139" y="131.9" width="33" height="8" fill="#ffff00"/>
<line x1="131" y1="136" x2="179" y2="136" stroke="#000" stroke-width="1.6"/>
<circle cx="155.2" cy="136" r="3.3" fill="#000"/>
<text x="192.2" y="139.8" font-size="22" textLength="41.4" lengthAdjust="spacingAndGlyphs" stroke="#000" stroke-width="0.3">Data</text>
<rect x="139" y="158.7" width="33" height="7.2" fill="rgb(254,224,208)"/>
<line x1="131" y1="162.2" x2="179" y2="162.2" stroke="#ff0000" stroke-width="2.2"/>
<text x="191.8" y="166.7" font-size="22" textLength="45.4" lengthAdjust="spacingAndGlyphs" stroke="#000" stroke-width="0.3">NLO</text>
<circle cx="250.5" cy="162" r="7" fill="none" stroke="#111" stroke-width="0.85"/>
<line x1="243.5" y1="162" x2="257.5" y2="162" stroke="#111" stroke-width="0.85"/>
<line x1="250.5" y1="155" x2="250.5" y2="169" stroke="#111" stroke-width="0.85"/>
<text x="264.4" y="166.7" font-size="22" textLength="27" lengthAdjust="spacingAndGlyphs" stroke="#000" stroke-width="0.3">DS</text>
<rect x="139" y="185.7" width="33" height="7.2" fill="rgb(220,213,243)"/>
<line x1="131" y1="189.3" x2="179" y2="189.3" stroke="#0000ff" stroke-width="2.2"/>
<text x="191.8" y="193.8" font-size="22" textLength="45.4" lengthAdjust="spacingAndGlyphs" stroke="#000" stroke-width="0.3">NLO</text>
<circle cx="250.5" cy="189.1" r="7" fill="none" stroke="#111" stroke-width="0.85"/>
<line x1="245.55" y1="184.15" x2="255.45" y2="194.05" stroke="#111" stroke-width="0.85"/>
<line x1="245.55" y1="194.05" x2="255.45" y2="184.15" stroke="#111" stroke-width="0.85"/>
<text x="264.4" y="193.8" font-size="22" textLength="27" lengthAdjust="spacingAndGlyphs" stroke="#000" stroke-width="0.3">DS</text>
<text x="650.2" y="39.6" font-size="21" text-anchor="end" fill="#808080" textLength="87.6" lengthAdjust="spacingAndGlyphs">Herwig 7</text>
<rect x="83.4" y="292.3" width="99.7" height="17.6" fill="rgb(255,255,0)"/>
<rect x="83.4" y="298.65" width="99.7" height="5.5" fill="rgb(254,224,208)"/>
<rect x="83.4" y="295.55" width="99.7" height="7.6" fill="rgb(220,213,243)"/>
<rect x="83.4" y="298.65" width="99.7" height="5.5" fill="rgb(250,208,40)"/>
<rect x="83.4" y="295.55" width="99.7" height="7.6" fill="rgb(210,190,95)"/>
<rect x="83.4" y="298.65" width="99.7" height="4.5" fill="rgb(212,177,192)"/>
<rect x="83.4" y="298.65" width="99.7" height="4.5" fill="rgb(208,167,86)"/>
<rect x="183.1" y="295.3" width="99.7" height="10.7" fill="rgb(255,255,0)"/>
<rect x="183.1" y="295.65" width="99.7" height="3" fill="rgb(254,224,208)"/>
<rect x="183.1" y="295.15" width="99.7" height="4" fill="rgb(220,213,243)"/>
<rect x="183.1" y="295.65" width="99.7" height="3" fill="rgb(250,208,40)"/>
<rect x="183.1" y="295.3" width="99.7" height="3.85" fill="rgb(210,190,95)"/>
<rect x="183.1" y="295.65" width="99.7" height="3" fill="rgb(212,177,192)"/>
<rect x="183.1" y="295.65" width="99.7" height="3" fill="rgb(208,167,86)"/>
<rect x="282.8" y="295.4" width="99.7" height="11.5" fill="rgb(255,255,0)"/>
<rect x="282.8" y="290.05" width="99.7" height="15.6" fill="rgb(254,224,208)"/>
<rect x="282.8" y="290.05" width="99.7" height="22.1" fill="rgb(220,213,243)"/>
<rect x="282.8" y="295.4" width="99.7" height="10.25" fill="rgb(250,208,40)"/>
<rect x="282.8" y="295.4" width="99.7" height="11.5" fill="rgb(210,190,95)"/>
<rect x="282.8" y="290.05" width="99.7" height="15.6" fill="rgb(212,177,192)"/>
<rect x="282.8" y="295.4" width="99.7" height="10.25" fill="rgb(208,167,86)"/>
<rect x="382.5" y="292.6" width="99.7" height="17.4" fill="rgb(255,255,0)"/>
<rect x="382.5" y="285.55" width="99.7" height="36" fill="rgb(254,224,208)"/>
<rect x="382.5" y="299.15" width="99.7" height="22.4" fill="rgb(220,213,243)"/>
<rect x="382.5" y="292.6" width="99.7" height="17.4" fill="rgb(250,208,40)"/>
<rect x="382.5" y="299.15" width="99.7" height="10.85" fill="rgb(210,190,95)"/>
<rect x="382.5" y="299.15" width="99.7" height="22.4" fill="rgb(212,177,192)"/>
<rect x="382.5" y="299.15" width="99.7" height="10.85" fill="rgb(208,167,86)"/>
<rect x="482.2" y="288.5" width="99.7" height="25.5" fill="rgb(255,255,0)"/>
<rect x="482.2" y="273.35" width="99.7" height="58.3" fill="rgb(254,224,208)"/>
<rect x="482.2" y="291.75" width="99.7" height="36.8" fill="rgb(220,213,243)"/>
<rect x="482.2" y="288.5" width="99.7" height="25.5" fill="rgb(250,208,40)"/>
<rect x="482.2" y="291.75" width="99.7" height="22.25" fill="rgb(210,190,95)"/>
<rect x="482.2" y="291.75" width="99.7" height="36.8" fill="rgb(212,177,192)"/>
<rect x="482.2" y="291.75" width="99.7" height="22.25" fill="rgb(208,167,86)"/>
<rect x="581.9" y="283.9" width="99.7" height="34.4" fill="rgb(255,255,0)"/>
<rect x="581.9" y="248.85" width="99.7" height="93.5" fill="rgb(254,224,208)"/>
<rect x="581.9" y="271.85" width="99.7" height="62.2" fill="rgb(220,213,243)"/>
<rect x="581.9" y="283.9" width="99.7" height="34.4" fill="rgb(250,208,40)"/>
<rect x="581.9" y="283.9" width="99.7" height="34.4" fill="rgb(210,190,95)"/>
<rect x="581.9" y="271.85" width="99.7" height="62.2" fill="rgb(212,177,192)"/>
<rect x="581.9" y="283.9" width="99.7" height="34.4" fill="rgb(208,167,86)"/>
<line x1="83.4" y1="301.3" x2="681.6" y2="301.3" stroke="#15121c" stroke-width="1.4"/>
<circle cx="133.25" cy="301.3" r="3.3" fill="#15121c"/>
<circle cx="232.95" cy="301.3" r="3.3" fill="#15121c"/>
<circle cx="332.65" cy="301.3" r="3.3" fill="#15121c"/>
<circle cx="432.35" cy="301.3" r="3.3" fill="#15121c"/>
<circle cx="532.05" cy="301.3" r="3.3" fill="#15121c"/>
<circle cx="631.75" cy="301.3" r="3.3" fill="#15121c"/>
<path d="M83.4 302.55L83.4 302.55L183.1 302.55L183.1 296.85L282.8 296.85L282.8 296.25L382.5 296.25L382.5 301.75L482.2 301.75L482.2 304.05L581.9 304.05L581.9 302.45L681.6 302.45" fill="none" stroke="#ff0000" stroke-width="1.7" stroke-linejoin="miter"/>
<line x1="84.6" y1="302.55" x2="181.9" y2="302.55" stroke="rgb(206,28,44)" stroke-width="1.7"/>
<line x1="184.3" y1="296.85" x2="281.6" y2="296.85" stroke="rgb(206,28,44)" stroke-width="1.7"/>
<line x1="284" y1="296.25" x2="381.3" y2="296.25" stroke="rgb(206,28,44)" stroke-width="1.7"/>
<line x1="383.7" y1="301.75" x2="481" y2="301.75" stroke="rgb(206,28,44)" stroke-width="1.7"/>
<line x1="483.4" y1="304.05" x2="580.7" y2="304.05" stroke="rgb(206,28,44)" stroke-width="1.7"/>
<line x1="583.1" y1="302.45" x2="680.4" y2="302.45" stroke="rgb(206,28,44)" stroke-width="1.7"/>
<path d="M83.4 300.65L83.4 300.65L183.1 300.65L183.1 297.25L282.8 297.25L282.8 300.05L382.5 300.05L382.5 308.45L482.2 308.45L482.2 309.55L581.9 309.55L581.9 304.05L681.6 304.05" fill="none" stroke="#0000ff" stroke-width="1.9" stroke-linejoin="miter"/>
<rect x="121.4" y="252.2" width="32.6" height="10.3" fill="#ffff00"/>
<line x1="113.2" y1="257.3" x2="161.3" y2="257.3" stroke="#000" stroke-width="1.6"/>
<circle cx="137.3" cy="257.3" r="3.3" fill="#000"/>
<text x="174.2" y="259.4" font-size="22" textLength="42" lengthAdjust="spacingAndGlyphs" stroke="#000" stroke-width="0.3">Data</text>
<rect x="420.6" y="251.9" width="32.6" height="10.3" fill="rgb(254,224,208)"/>
<line x1="412.3" y1="257.1" x2="460.5" y2="257.1" stroke="#ff0000" stroke-width="2.2"/>
<text x="473" y="259.4" font-size="22" textLength="45.4" lengthAdjust="spacingAndGlyphs" stroke="#000" stroke-width="0.3">NLO</text>
<circle cx="531.7" cy="254.7" r="7" fill="none" stroke="#111" stroke-width="0.85"/>
<line x1="524.7" y1="254.7" x2="538.7" y2="254.7" stroke="#111" stroke-width="0.85"/>
<line x1="531.7" y1="247.7" x2="531.7" y2="261.7" stroke="#111" stroke-width="0.85"/>
<text x="545.6" y="259.4" font-size="22" textLength="27" lengthAdjust="spacingAndGlyphs" stroke="#000" stroke-width="0.3">DS</text>
<rect x="121.4" y="335.9" width="32.6" height="10.3" fill="rgb(220,213,243)"/>
<line x1="113.2" y1="341.1" x2="161.4" y2="341.1" stroke="#0000ff" stroke-width="2.2"/>
<text x="173.8" y="343.5" font-size="22" textLength="45.4" lengthAdjust="spacingAndGlyphs" stroke="#000" stroke-width="0.3">NLO</text>
<circle cx="232.5" cy="338.8" r="7" fill="none" stroke="#111" stroke-width="0.85"/>
<line x1="227.55" y1="333.85" x2="237.45" y2="343.75" stroke="#111" stroke-width="0.85"/>
<line x1="227.55" y1="343.75" x2="237.45" y2="333.85" stroke="#111" stroke-width="0.85"/>
<text x="246.4" y="343.5" font-size="22" textLength="27" lengthAdjust="spacingAndGlyphs" stroke="#000" stroke-width="0.3">DS</text>
<rect x="83.4" y="415.15" width="99.7" height="8.5" fill="rgb(254,224,208)"/>
<rect x="183.1" y="418.95" width="99.7" height="3" fill="rgb(254,224,208)"/>
<rect x="282.8" y="414.75" width="99.7" height="14.8" fill="rgb(254,224,208)"/>
<rect x="382.5" y="404.35" width="99.7" height="36.8" fill="rgb(254,224,208)"/>
<rect x="482.2" y="389.35" width="99.7" height="59.8" fill="rgb(254,224,208)"/>
<rect x="581.9" y="365.15" width="99.7" height="96.3" fill="rgb(254,224,208)"/>
<rect x="83.4" y="418.65" width="99.7" height="3" fill="rgb(254,162,130)"/>
<rect x="282.8" y="418.15" width="99.7" height="3.8" fill="rgb(254,162,130)"/>
<rect x="382.5" y="417.65" width="99.7" height="5" fill="rgb(254,162,130)"/>
<rect x="482.2" y="417.65" width="99.7" height="6.4" fill="rgb(254,162,130)"/>
<rect x="581.9" y="414.85" width="99.7" height="10.8" fill="rgb(254,162,130)"/>
<clipPath id="c50"><rect x="83.4" y="416.15" width="99.7" height="5.5"/></clipPath>
<path clip-path="url(#c50)" d="M92.53 414.15L83.03 423.65M106.86 414.15L97.36 423.65M121.19 414.15L111.69 423.65M135.52 414.15L126.02 423.65M149.85 414.15L140.35 423.65M164.18 414.15L154.68 423.65M178.51 414.15L169.01 423.65" fill="none" stroke="#ff0000" stroke-width="2.2"/>
<clipPath id="c51"><rect x="282.8" y="417.15" width="99.7" height="4"/></clipPath>
<path clip-path="url(#c51)" d="M276.59 415.15L284.59 423.15M290.92 415.15L298.92 423.15M305.25 415.15L313.25 423.15M319.58 415.15L327.58 423.15M333.91 415.15L341.91 423.15M348.24 415.15L356.24 423.15M362.57 415.15L370.57 423.15M376.9 415.15L384.9 423.15" fill="none" stroke="#ff0000" stroke-width="2.2"/>
<clipPath id="c52"><rect x="282.8" y="417.15" width="99.7" height="9.3"/></clipPath>
<path clip-path="url(#c52)" d="M292.15 415.15L278.85 428.45M306.48 415.15L293.18 428.45M320.81 415.15L307.51 428.45M335.14 415.15L321.84 428.45M349.47 415.15L336.17 428.45M363.8 415.15L350.5 428.45M378.13 415.15L364.83 428.45M392.46 415.15L379.16 428.45" fill="none" stroke="#ff0000" stroke-width="2.2"/>
<clipPath id="c53"><rect x="382.5" y="412.65" width="99.7" height="11.5"/></clipPath>
<path clip-path="url(#c53)" d="M372.4 410.65L387.9 426.15M386.73 410.65L402.23 426.15M401.06 410.65L416.56 426.15M415.39 410.65L430.89 426.15M429.72 410.65L445.22 426.15M444.05 410.65L459.55 426.15M458.38 410.65L473.88 426.15M472.71 410.65L488.21 426.15" fill="none" stroke="#ff0000" stroke-width="2.2"/>
<clipPath id="c54"><rect x="382.5" y="412.65" width="99.7" height="22.4"/></clipPath>
<path clip-path="url(#c54)" d="M382.63 410.65L356.23 437.05M396.96 410.65L370.56 437.05M411.29 410.65L384.89 437.05M425.62 410.65L399.22 437.05M439.95 410.65L413.55 437.05M454.28 410.65L427.88 437.05M468.61 410.65L442.21 437.05M482.94 410.65L456.54 437.05M497.27 410.65L470.87 437.05" fill="none" stroke="#ff0000" stroke-width="2.2"/>
<clipPath id="c55"><rect x="482.2" y="409.45" width="99.7" height="19.2"/></clipPath>
<path clip-path="url(#c55)" d="M469.51 407.45L492.71 430.65M483.84 407.45L507.04 430.65M498.17 407.45L521.37 430.65M512.5 407.45L535.7 430.65M526.83 407.45L550.03 430.65M541.16 407.45L564.36 430.65M555.49 407.45L578.69 430.65M569.82 407.45L593.02 430.65" fill="none" stroke="#ff0000" stroke-width="2.2"/>
<clipPath id="c56"><rect x="482.2" y="406.25" width="99.7" height="36.2"/></clipPath>
<path clip-path="url(#c56)" d="M489.34 404.25L449.14 444.45M503.67 404.25L463.47 444.45M518 404.25L477.8 444.45M532.33 404.25L492.13 444.45M546.66 404.25L506.46 444.45M560.99 404.25L520.79 444.45M575.32 404.25L535.12 444.45M589.65 404.25L549.45 444.45M603.98 404.25L563.78 444.45M618.31 404.25L578.11 444.45" fill="none" stroke="#ff0000" stroke-width="2.2"/>
<clipPath id="c57"><rect x="581.9" y="400.25" width="99.7" height="32.4"/></clipPath>
<path clip-path="url(#c57)" d="M546.29 398.25L582.69 434.65M560.62 398.25L597.02 434.65M574.95 398.25L611.35 434.65M589.28 398.25L625.68 434.65M603.61 398.25L640.01 434.65M617.94 398.25L654.34 434.65M632.27 398.25L668.67 434.65M646.6 398.25L683 434.65M660.93 398.25L697.33 434.65M675.26 398.25L711.66 434.65" fill="none" stroke="#ff0000" stroke-width="2.2"/>
<clipPath id="c58"><rect x="581.9" y="397.05" width="99.7" height="54.6"/></clipPath>
<path clip-path="url(#c58)" d="M584.52 395.05L525.92 453.65M598.85 395.05L540.25 453.65M613.18 395.05L554.58 453.65M627.51 395.05L568.91 453.65M641.84 395.05L583.24 453.65M656.17 395.05L597.57 453.65M670.5 395.05L611.9 453.65M684.83 395.05L626.23 453.65M699.16 395.05L640.56 453.65M713.49 395.05L654.89 453.65M727.82 395.05L669.22 453.65" fill="none" stroke="#ff0000" stroke-width="2.2"/>
<line x1="83.4" y1="420.6" x2="681.6" y2="420.6" stroke="#ff0000" stroke-width="2.5"/>
<rect x="121.4" y="371.85" width="32.6" height="10.4" fill="rgb(254,224,208)"/>
<line x1="113.2" y1="377.05" x2="161.4" y2="377.05" stroke="#ff0000" stroke-width="2.2"/>
<text x="173.8" y="379.45" font-size="22" textLength="45.4" lengthAdjust="spacingAndGlyphs" stroke="#000" stroke-width="0.3">NLO</text>
<circle cx="232.5" cy="374.75" r="7" fill="none" stroke="#111" stroke-width="0.85"/>
<line x1="225.5" y1="374.75" x2="239.5" y2="374.75" stroke="#111" stroke-width="0.85"/>
<line x1="232.5" y1="367.75" x2="232.5" y2="381.75" stroke="#111" stroke-width="0.85"/>
<text x="246.4" y="379.45" font-size="22" textLength="27" lengthAdjust="spacingAndGlyphs" stroke="#000" stroke-width="0.3">DS</text>
<rect x="420.6" y="371.65" width="32.6" height="10.8" fill="rgb(253,190,165)"/>
<line x1="412.3" y1="377.05" x2="460.5" y2="377.05" stroke="#ff0000" stroke-width="2.2"/>
<text x="473.8" y="379.45" font-size="22" font-style="italic" textLength="12" lengthAdjust="spacingAndGlyphs" stroke="#000" stroke-width="0.3">μ</text>
<text x="485.8" y="383.05" font-size="15" textLength="12.2" lengthAdjust="spacingAndGlyphs" stroke="#000" stroke-width="0.3">H</text>
<clipPath id="c59"><rect x="121.4" y="455.1" width="32.6" height="10.4"/></clipPath>
<path clip-path="url(#c59)" d="M119.9 453.1L134.3 467.5M134.23 453.1L148.63 467.5M148.56 453.1L162.96 467.5" fill="none" stroke="#ff0000" stroke-width="2.2"/>
<line x1="113.2" y1="460.3" x2="161.4" y2="460.3" stroke="#ff0000" stroke-width="2.2"/>
<text x="174.4" y="463.5" font-size="22" font-style="italic" textLength="12" lengthAdjust="spacingAndGlyphs" stroke="#000" stroke-width="0.3">μ</text>
<text x="186.4" y="467.1" font-size="15" textLength="8.4" lengthAdjust="spacingAndGlyphs" stroke="#000" stroke-width="0.3">S</text>
<clipPath id="c60"><rect x="420.6" y="455.1" width="32.6" height="10.4"/></clipPath>
<path clip-path="url(#c60)" d="M425.27 453.1L410.87 467.5M439.6 453.1L425.2 467.5M453.93 453.1L439.53 467.5" fill="none" stroke="#ff0000" stroke-width="2.2"/>
<line x1="412.3" y1="460.3" x2="460.5" y2="460.3" stroke="#ff0000" stroke-width="2.2"/>
<text x="474.2" y="463.5" font-size="22" font-style="italic" textLength="14.4" lengthAdjust="spacingAndGlyphs" stroke="#000" stroke-width="0.3">Q</text>
<line x1="490.2" y1="467.1" x2="501.8" y2="467.1" stroke="#000" stroke-width="1"/>
<line x1="496" y1="457.5" x2="496" y2="467.1" stroke="#000" stroke-width="1"/>
<rect x="83.4" y="535.65" width="99.7" height="7.5" fill="rgb(220,213,243)"/>
<rect x="183.1" y="538.45" width="99.7" height="2.7" fill="rgb(220,213,243)"/>
<rect x="282.8" y="531.15" width="99.7" height="20.8" fill="rgb(220,213,243)"/>
<rect x="382.5" y="528.05" width="99.7" height="27" fill="rgb(220,213,243)"/>
<rect x="482.2" y="519.55" width="99.7" height="42.3" fill="rgb(220,213,243)"/>
<rect x="581.9" y="506.65" width="99.7" height="64.4" fill="rgb(220,213,243)"/>
<rect x="83.4" y="538.15" width="99.7" height="3.3" fill="rgb(160,140,216)"/>
<rect x="282.8" y="534.75" width="99.7" height="11.1" fill="rgb(160,140,216)"/>
<rect x="382.5" y="532.65" width="99.7" height="15.3" fill="rgb(160,140,216)"/>
<rect x="482.2" y="530.25" width="99.7" height="18.4" fill="rgb(160,140,216)"/>
<rect x="581.9" y="524.15" width="99.7" height="27.5" fill="rgb(160,140,216)"/>
<clipPath id="c61"><rect x="83.4" y="538.15" width="99.7" height="2.5"/></clipPath>
<path clip-path="url(#c61)" d="M77.37 536.15L83.87 542.65M91.7 536.15L98.2 542.65M106.03 536.15L112.53 542.65M120.36 536.15L126.86 542.65M134.69 536.15L141.19 542.65M149.02 536.15L155.52 542.65M163.35 536.15L169.85 542.65M177.68 536.15L184.18 542.65" fill="none" stroke="#0000ff" stroke-width="2.2"/>
<clipPath id="c62"><rect x="183.1" y="539.65" width="99.7" height="2"/></clipPath>
<path clip-path="url(#c62)" d="M179.18 537.65L185.18 543.65M193.51 537.65L199.51 543.65M207.84 537.65L213.84 543.65M222.17 537.65L228.17 543.65M236.5 537.65L242.5 543.65M250.83 537.65L256.83 543.65M265.16 537.65L271.16 543.65M279.49 537.65L285.49 543.65" fill="none" stroke="#0000ff" stroke-width="2.2"/>
<clipPath id="c63"><rect x="282.8" y="537.65" width="99.7" height="5"/></clipPath>
<path clip-path="url(#c63)" d="M277.49 535.65L286.49 544.65M291.82 535.65L300.82 544.65M306.15 535.65L315.15 544.65M320.48 535.65L329.48 544.65M334.81 535.65L343.81 544.65M349.14 535.65L358.14 544.65M363.47 535.65L372.47 544.65M377.8 535.65L386.8 544.65" fill="none" stroke="#0000ff" stroke-width="2.2"/>
<clipPath id="c64"><rect x="282.8" y="537.65" width="99.7" height="6"/></clipPath>
<path clip-path="url(#c64)" d="M291.25 535.65L281.25 545.65M305.58 535.65L295.58 545.65M319.91 535.65L309.91 545.65M334.24 535.65L324.24 545.65M348.57 535.65L338.57 545.65M362.9 535.65L352.9 545.65M377.23 535.65L367.23 545.65M391.56 535.65L381.56 545.65" fill="none" stroke="#0000ff" stroke-width="2.2"/>
<clipPath id="c65"><rect x="382.5" y="537.65" width="99.7" height="5"/></clipPath>
<path clip-path="url(#c65)" d="M377.8 535.65L386.8 544.65M392.13 535.65L401.13 544.65M406.46 535.65L415.46 544.65M420.79 535.65L429.79 544.65M435.12 535.65L444.12 544.65M449.45 535.65L458.45 544.65M463.78 535.65L472.78 544.65M478.11 535.65L487.11 544.65" fill="none" stroke="#0000ff" stroke-width="2.2"/>
<clipPath id="c66"><rect x="382.5" y="535.65" width="99.7" height="13.9"/></clipPath>
<path clip-path="url(#c66)" d="M393.56 533.65L375.66 551.55M407.89 533.65L389.99 551.55M422.22 533.65L404.32 551.55M436.55 533.65L418.65 551.55M450.88 533.65L432.98 551.55M465.21 533.65L447.31 551.55M479.54 533.65L461.64 551.55M493.87 533.65L475.97 551.55" fill="none" stroke="#0000ff" stroke-width="2.2"/>
<clipPath id="c67"><rect x="482.2" y="534.25" width="99.7" height="11.3"/></clipPath>
<path clip-path="url(#c67)" d="M474.71 532.25L490.01 547.55M489.04 532.25L504.34 547.55M503.37 532.25L518.67 547.55M517.7 532.25L533 547.55M532.03 532.25L547.33 547.55M546.36 532.25L561.66 547.55M560.69 532.25L575.99 547.55M575.02 532.25L590.32 547.55" fill="none" stroke="#0000ff" stroke-width="2.2"/>
<clipPath id="c68"><rect x="482.2" y="534.25" width="99.7" height="17.4"/></clipPath>
<path clip-path="url(#c68)" d="M495.27 532.25L473.87 553.65M509.6 532.25L488.2 553.65M523.93 532.25L502.53 553.65M538.26 532.25L516.86 553.65M552.59 532.25L531.19 553.65M566.92 532.25L545.52 553.65M581.25 532.25L559.85 553.65M595.58 532.25L574.18 553.65" fill="none" stroke="#0000ff" stroke-width="2.2"/>
<clipPath id="c69"><rect x="581.9" y="528.65" width="99.7" height="24.6"/></clipPath>
<path clip-path="url(#c69)" d="M555.09 526.65L583.69 555.25M569.42 526.65L598.02 555.25M583.75 526.65L612.35 555.25M598.08 526.65L626.68 555.25M612.41 526.65L641.01 555.25M626.74 526.65L655.34 555.25M641.07 526.65L669.67 555.25M655.4 526.65L684 555.25M669.73 526.65L698.33 555.25" fill="none" stroke="#0000ff" stroke-width="2.2"/>
<clipPath id="c70"><rect x="581.9" y="528.65" width="99.7" height="32.2"/></clipPath>
<path clip-path="url(#c70)" d="M586.85 526.65L550.65 562.85M601.18 526.65L564.98 562.85M615.51 526.65L579.31 562.85M629.84 526.65L593.64 562.85M644.17 526.65L607.97 562.85M658.5 526.65L622.3 562.85M672.83 526.65L636.63 562.85M687.16 526.65L650.96 562.85M701.49 526.65L665.29 562.85M715.82 526.65L679.62 562.85" fill="none" stroke="#0000ff" stroke-width="2.2"/>
<line x1="83.4" y1="540.4" x2="681.6" y2="540.4" stroke="#0000ff" stroke-width="2.5"/>
<rect x="121.4" y="491.4" width="32.6" height="10.4" fill="rgb(220,213,243)"/>
<line x1="113.2" y1="496.6" x2="161.4" y2="496.6" stroke="#0000ff" stroke-width="2.2"/>
<text x="173.8" y="499" font-size="22" textLength="45.4" lengthAdjust="spacingAndGlyphs" stroke="#000" stroke-width="0.3">NLO</text>
<circle cx="232.5" cy="494.3" r="7" fill="none" stroke="#111" stroke-width="0.85"/>
<line x1="227.55" y1="489.35" x2="237.45" y2="499.25" stroke="#111" stroke-width="0.85"/>
<line x1="227.55" y1="499.25" x2="237.45" y2="489.35" stroke="#111" stroke-width="0.85"/>
<text x="246.4" y="499" font-size="22" textLength="27" lengthAdjust="spacingAndGlyphs" stroke="#000" stroke-width="0.3">DS</text>
<rect x="420.6" y="491.2" width="32.6" height="10.8" fill="rgb(178,160,228)"/>
<line x1="412.3" y1="496.6" x2="460.5" y2="496.6" stroke="#0000ff" stroke-width="2.2"/>
<text x="473.8" y="499" font-size="22" font-style="italic" textLength="12" lengthAdjust="spacingAndGlyphs" stroke="#000" stroke-width="0.3">μ</text>
<text x="485.8" y="502.6" font-size="15" textLength="12.2" lengthAdjust="spacingAndGlyphs" stroke="#000" stroke-width="0.3">H</text>
<clipPath id="c71"><rect x="121.4" y="574.7" width="32.6" height="10.4"/></clipPath>
<path clip-path="url(#c71)" d="M119.9 572.7L134.3 587.1M134.23 572.7L148.63 587.1M148.56 572.7L162.96 587.1" fill="none" stroke="#0000ff" stroke-width="2.2"/>
<line x1="113.2" y1="579.9" x2="161.4" y2="579.9" stroke="#0000ff" stroke-width="2.2"/>
<text x="174.4" y="583.1" font-size="22" font-style="italic" textLength="12" lengthAdjust="spacingAndGlyphs" stroke="#000" stroke-width="0.3">μ</text>
<text x="186.4" y="586.7" font-size="15" textLength="8.4" lengthAdjust="spacingAndGlyphs" stroke="#000" stroke-width="0.3">S</text>
<clipPath id="c72"><rect x="420.6" y="574.7" width="32.6" height="10.4"/></clipPath>
<path clip-path="url(#c72)" d="M425.27 572.7L410.87 587.1M439.6 572.7L425.2 587.1M453.93 572.7L439.53 587.1" fill="none" stroke="#0000ff" stroke-width="2.2"/>
<line x1="412.3" y1="579.9" x2="460.5" y2="579.9" stroke="#0000ff" stroke-width="2.2"/>
<text x="474.2" y="583.1" font-size="22" font-style="italic" textLength="14.4" lengthAdjust="spacingAndGlyphs" stroke="#000" stroke-width="0.3">Q</text>
<line x1="490.2" y1="586.7" x2="501.8" y2="586.7" stroke="#000" stroke-width="1"/>
<line x1="496" y1="577.1" x2="496" y2="586.7" stroke="#000" stroke-width="1"/>
<line x1="83.4" y1="66.6" x2="102.8" y2="66.6" stroke="#111" stroke-width="1"/>
<line x1="83.4" y1="41.86" x2="91.9" y2="41.86" stroke="#000" stroke-width="1.25"/>
<line x1="83.4" y1="27.38" x2="91.9" y2="27.38" stroke="#000" stroke-width="1.25"/>
<line x1="83.4" y1="17.11" x2="91.9" y2="17.11" stroke="#000" stroke-width="1.25"/>
<line x1="83.4" y1="9.14" x2="91.9" y2="9.14" stroke="#000" stroke-width="1.25"/>
<line x1="83.4" y1="148.8" x2="102.8" y2="148.8" stroke="#111" stroke-width="1"/>
<line x1="83.4" y1="124.06" x2="91.9" y2="124.06" stroke="#000" stroke-width="1.25"/>
<line x1="83.4" y1="109.58" x2="91.9" y2="109.58" stroke="#000" stroke-width="1.25"/>
<line x1="83.4" y1="99.31" x2="91.9" y2="99.31" stroke="#000" stroke-width="1.25"/>
<line x1="83.4" y1="91.34" x2="91.9" y2="91.34" stroke="#000" stroke-width="1.25"/>
<line x1="83.4" y1="84.84" x2="91.9" y2="84.84" stroke="#000" stroke-width="1.25"/>
<line x1="83.4" y1="79.33" x2="91.9" y2="79.33" stroke="#000" stroke-width="1.25"/>
<line x1="83.4" y1="74.57" x2="91.9" y2="74.57" stroke="#000" stroke-width="1.25"/>
<line x1="83.4" y1="70.36" x2="91.9" y2="70.36" stroke="#000" stroke-width="1.25"/>
<line x1="83.4" y1="231" x2="102.8" y2="231" stroke="#111" stroke-width="1"/>
<line x1="83.4" y1="206.26" x2="91.9" y2="206.26" stroke="#000" stroke-width="1.25"/>
<line x1="83.4" y1="191.78" x2="91.9" y2="191.78" stroke="#000" stroke-width="1.25"/>
<line x1="83.4" y1="181.51" x2="91.9" y2="181.51" stroke="#000" stroke-width="1.25"/>
<line x1="83.4" y1="173.54" x2="91.9" y2="173.54" stroke="#000" stroke-width="1.25"/>
<line x1="83.4" y1="167.04" x2="91.9" y2="167.04" stroke="#000" stroke-width="1.25"/>
<line x1="83.4" y1="161.53" x2="91.9" y2="161.53" stroke="#000" stroke-width="1.25"/>
<line x1="83.4" y1="156.77" x2="91.9" y2="156.77" stroke="#000" stroke-width="1.25"/>
<line x1="83.4" y1="152.56" x2="91.9" y2="152.56" stroke="#000" stroke-width="1.25"/>
<line x1="83.4" y1="238.97" x2="91.9" y2="238.97" stroke="#000" stroke-width="1.25"/>
<line x1="83.4" y1="234.76" x2="91.9" y2="234.76" stroke="#000" stroke-width="1.25"/>
<line x1="83.4" y1="354.97" x2="91.9" y2="354.97" stroke="#000" stroke-width="1.25"/>
<line x1="83.4" y1="348.99" x2="91.9" y2="348.99" stroke="#000" stroke-width="1.25"/>
<line x1="83.4" y1="343.01" x2="91.9" y2="343.01" stroke="#000" stroke-width="1.25"/>
<line x1="83.4" y1="337.03" x2="91.9" y2="337.03" stroke="#000" stroke-width="1.25"/>
<line x1="83.4" y1="331.05" x2="102.8" y2="331.05" stroke="#111" stroke-width="1"/>
<line x1="83.4" y1="325.07" x2="91.9" y2="325.07" stroke="#000" stroke-width="1.25"/>
<line x1="83.4" y1="319.09" x2="91.9" y2="319.09" stroke="#000" stroke-width="1.25"/>
<line x1="83.4" y1="313.11" x2="91.9" y2="313.11" stroke="#000" stroke-width="1.25"/>
<line x1="83.4" y1="307.13" x2="91.9" y2="307.13" stroke="#000" stroke-width="1.25"/>
<line x1="83.4" y1="301.15" x2="102.8" y2="301.15" stroke="#111" stroke-width="1"/>
<line x1="83.4" y1="295.17" x2="91.9" y2="295.17" stroke="#000" stroke-width="1.25"/>
<line x1="83.4" y1="289.19" x2="91.9" y2="289.19" stroke="#000" stroke-width="1.25"/>
<line x1="83.4" y1="283.21" x2="91.9" y2="283.21" stroke="#000" stroke-width="1.25"/>
<line x1="83.4" y1="277.23" x2="91.9" y2="277.23" stroke="#000" stroke-width="1.25"/>
<line x1="83.4" y1="271.25" x2="102.8" y2="271.25" stroke="#111" stroke-width="1"/>
<line x1="83.4" y1="265.27" x2="91.9" y2="265.27" stroke="#000" stroke-width="1.25"/>
<line x1="83.4" y1="259.29" x2="91.9" y2="259.29" stroke="#000" stroke-width="1.25"/>
<line x1="83.4" y1="253.31" x2="91.9" y2="253.31" stroke="#000" stroke-width="1.25"/>
<line x1="83.4" y1="247.33" x2="91.9" y2="247.33" stroke="#000" stroke-width="1.25"/>
<line x1="83.4" y1="474.52" x2="91.9" y2="474.52" stroke="#000" stroke-width="1.25"/>
<line x1="83.4" y1="468.55" x2="91.9" y2="468.55" stroke="#000" stroke-width="1.25"/>
<line x1="83.4" y1="462.57" x2="91.9" y2="462.57" stroke="#000" stroke-width="1.25"/>
<line x1="83.4" y1="456.59" x2="91.9" y2="456.59" stroke="#000" stroke-width="1.25"/>
<line x1="83.4" y1="450.61" x2="102.8" y2="450.61" stroke="#111" stroke-width="1"/>
<line x1="83.4" y1="444.63" x2="91.9" y2="444.63" stroke="#000" stroke-width="1.25"/>
<line x1="83.4" y1="438.66" x2="91.9" y2="438.66" stroke="#000" stroke-width="1.25"/>
<line x1="83.4" y1="432.68" x2="91.9" y2="432.68" stroke="#000" stroke-width="1.25"/>
<line x1="83.4" y1="426.7" x2="91.9" y2="426.7" stroke="#000" stroke-width="1.25"/>
<line x1="83.4" y1="420.73" x2="102.8" y2="420.73" stroke="#111" stroke-width="1"/>
<line x1="83.4" y1="414.75" x2="91.9" y2="414.75" stroke="#000" stroke-width="1.25"/>
<line x1="83.4" y1="408.77" x2="91.9" y2="408.77" stroke="#000" stroke-width="1.25"/>
<line x1="83.4" y1="402.79" x2="91.9" y2="402.79" stroke="#000" stroke-width="1.25"/>
<line x1="83.4" y1="396.81" x2="91.9" y2="396.81" stroke="#000" stroke-width="1.25"/>
<line x1="83.4" y1="390.84" x2="102.8" y2="390.84" stroke="#111" stroke-width="1"/>
<line x1="83.4" y1="384.86" x2="91.9" y2="384.86" stroke="#000" stroke-width="1.25"/>
<line x1="83.4" y1="378.88" x2="91.9" y2="378.88" stroke="#000" stroke-width="1.25"/>
<line x1="83.4" y1="372.9" x2="91.9" y2="372.9" stroke="#000" stroke-width="1.25"/>
<line x1="83.4" y1="366.93" x2="91.9" y2="366.93" stroke="#000" stroke-width="1.25"/>
<line x1="83.4" y1="594.12" x2="91.9" y2="594.12" stroke="#000" stroke-width="1.25"/>
<line x1="83.4" y1="588.14" x2="91.9" y2="588.14" stroke="#000" stroke-width="1.25"/>
<line x1="83.4" y1="582.16" x2="91.9" y2="582.16" stroke="#000" stroke-width="1.25"/>
<line x1="83.4" y1="576.18" x2="91.9" y2="576.18" stroke="#000" stroke-width="1.25"/>
<line x1="83.4" y1="570.2" x2="102.8" y2="570.2" stroke="#111" stroke-width="1"/>
<line x1="83.4" y1="564.22" x2="91.9" y2="564.22" stroke="#000" stroke-width="1.25"/>
<line x1="83.4" y1="558.24" x2="91.9" y2="558.24" stroke="#000" stroke-width="1.25"/>
<line x1="83.4" y1="552.26" x2="91.9" y2="552.26" stroke="#000" stroke-width="1.25"/>
<line x1="83.4" y1="546.28" x2="91.9" y2="546.28" stroke="#000" stroke-width="1.25"/>
<line x1="83.4" y1="540.3" x2="102.8" y2="540.3" stroke="#111" stroke-width="1"/>
<line x1="83.4" y1="534.32" x2="91.9" y2="534.32" stroke="#000" stroke-width="1.25"/>
<line x1="83.4" y1="528.34" x2="91.9" y2="528.34" stroke="#000" stroke-width="1.25"/>
<line x1="83.4" y1="522.36" x2="91.9" y2="522.36" stroke="#000" stroke-width="1.25"/>
<line x1="83.4" y1="516.38" x2="91.9" y2="516.38" stroke="#000" stroke-width="1.25"/>
<line x1="83.4" y1="510.4" x2="102.8" y2="510.4" stroke="#111" stroke-width="1"/>
<line x1="83.4" y1="504.42" x2="91.9" y2="504.42" stroke="#000" stroke-width="1.25"/>
<line x1="83.4" y1="498.44" x2="91.9" y2="498.44" stroke="#000" stroke-width="1.25"/>
<line x1="83.4" y1="492.46" x2="91.9" y2="492.46" stroke="#000" stroke-width="1.25"/>
<line x1="83.4" y1="486.48" x2="91.9" y2="486.48" stroke="#000" stroke-width="1.25"/>
<line x1="93.37" y1="241.35" x2="93.37" y2="232.85" stroke="#000" stroke-width="1.2"/>
<line x1="113.31" y1="241.35" x2="113.31" y2="232.85" stroke="#000" stroke-width="1.2"/>
<line x1="133.25" y1="241.35" x2="133.25" y2="232.85" stroke="#000" stroke-width="1.2"/>
<line x1="153.19" y1="241.35" x2="153.19" y2="232.85" stroke="#000" stroke-width="1.2"/>
<line x1="173.13" y1="241.35" x2="173.13" y2="232.85" stroke="#000" stroke-width="1.2"/>
<line x1="193.07" y1="241.35" x2="193.07" y2="232.85" stroke="#000" stroke-width="1.2"/>
<line x1="213.01" y1="241.35" x2="213.01" y2="232.85" stroke="#000" stroke-width="1.2"/>
<line x1="232.95" y1="241.35" x2="232.95" y2="232.85" stroke="#000" stroke-width="1.2"/>
<line x1="252.89" y1="241.35" x2="252.89" y2="232.85" stroke="#000" stroke-width="1.2"/>
<line x1="272.83" y1="241.35" x2="272.83" y2="232.85" stroke="#000" stroke-width="1.2"/>
<line x1="292.77" y1="241.35" x2="292.77" y2="232.85" stroke="#000" stroke-width="1.2"/>
<line x1="312.71" y1="241.35" x2="312.71" y2="232.85" stroke="#000" stroke-width="1.2"/>
<line x1="332.65" y1="241.35" x2="332.65" y2="232.85" stroke="#000" stroke-width="1.2"/>
<line x1="352.59" y1="241.35" x2="352.59" y2="232.85" stroke="#000" stroke-width="1.2"/>
<line x1="372.53" y1="241.35" x2="372.53" y2="232.85" stroke="#000" stroke-width="1.2"/>
<line x1="392.47" y1="241.35" x2="392.47" y2="232.85" stroke="#000" stroke-width="1.2"/>
<line x1="412.41" y1="241.35" x2="412.41" y2="232.85" stroke="#000" stroke-width="1.2"/>
<line x1="432.35" y1="241.35" x2="432.35" y2="232.85" stroke="#000" stroke-width="1.2"/>
<line x1="452.29" y1="241.35" x2="452.29" y2="232.85" stroke="#000" stroke-width="1.2"/>
<line x1="472.23" y1="241.35" x2="472.23" y2="232.85" stroke="#000" stroke-width="1.2"/>
<line x1="492.17" y1="241.35" x2="492.17" y2="232.85" stroke="#000" stroke-width="1.2"/>
<line x1="512.11" y1="241.35" x2="512.11" y2="232.85" stroke="#000" stroke-width="1.2"/>
<line x1="532.05" y1="241.35" x2="532.05" y2="232.85" stroke="#000" stroke-width="1.2"/>
<line x1="551.99" y1="241.35" x2="551.99" y2="232.85" stroke="#000" stroke-width="1.2"/>
<line x1="571.93" y1="241.35" x2="571.93" y2="232.85" stroke="#000" stroke-width="1.2"/>
<line x1="591.87" y1="241.35" x2="591.87" y2="232.85" stroke="#000" stroke-width="1.2"/>
<line x1="611.81" y1="241.35" x2="611.81" y2="232.85" stroke="#000" stroke-width="1.2"/>
<line x1="631.75" y1="241.35" x2="631.75" y2="232.85" stroke="#000" stroke-width="1.2"/>
<line x1="651.69" y1="241.35" x2="651.69" y2="232.85" stroke="#000" stroke-width="1.2"/>
<line x1="671.63" y1="241.35" x2="671.63" y2="232.85" stroke="#000" stroke-width="1.2"/>
<line x1="133.25" y1="241.35" x2="133.25" y2="222.55" stroke="#111" stroke-width="1"/>
<line x1="232.95" y1="241.35" x2="232.95" y2="222.55" stroke="#111" stroke-width="1"/>
<line x1="332.65" y1="241.35" x2="332.65" y2="222.55" stroke="#111" stroke-width="1"/>
<line x1="432.35" y1="241.35" x2="432.35" y2="222.55" stroke="#111" stroke-width="1"/>
<line x1="532.05" y1="241.35" x2="532.05" y2="222.55" stroke="#111" stroke-width="1"/>
<line x1="631.75" y1="241.35" x2="631.75" y2="222.55" stroke="#111" stroke-width="1"/>
<line x1="93.37" y1="360.95" x2="93.37" y2="352.45" stroke="#000" stroke-width="1.2"/>
<line x1="113.31" y1="360.95" x2="113.31" y2="352.45" stroke="#000" stroke-width="1.2"/>
<line x1="133.25" y1="360.95" x2="133.25" y2="352.45" stroke="#000" stroke-width="1.2"/>
<line x1="153.19" y1="360.95" x2="153.19" y2="352.45" stroke="#000" stroke-width="1.2"/>
<line x1="173.13" y1="360.95" x2="173.13" y2="352.45" stroke="#000" stroke-width="1.2"/>
<line x1="193.07" y1="360.95" x2="193.07" y2="352.45" stroke="#000" stroke-width="1.2"/>
<line x1="213.01" y1="360.95" x2="213.01" y2="352.45" stroke="#000" stroke-width="1.2"/>
<line x1="232.95" y1="360.95" x2="232.95" y2="352.45" stroke="#000" stroke-width="1.2"/>
<line x1="252.89" y1="360.95" x2="252.89" y2="352.45" stroke="#000" stroke-width="1.2"/>
<line x1="272.83" y1="360.95" x2="272.83" y2="352.45" stroke="#000" stroke-width="1.2"/>
<line x1="292.77" y1="360.95" x2="292.77" y2="352.45" stroke="#000" stroke-width="1.2"/>
<line x1="312.71" y1="360.95" x2="312.71" y2="352.45" stroke="#000" stroke-width="1.2"/>
<line x1="332.65" y1="360.95" x2="332.65" y2="352.45" stroke="#000" stroke-width="1.2"/>
<line x1="352.59" y1="360.95" x2="352.59" y2="352.45" stroke="#000" stroke-width="1.2"/>
<line x1="372.53" y1="360.95" x2="372.53" y2="352.45" stroke="#000" stroke-width="1.2"/>
<line x1="392.47" y1="360.95" x2="392.47" y2="352.45" stroke="#000" stroke-width="1.2"/>
<line x1="412.41" y1="360.95" x2="412.41" y2="352.45" stroke="#000" stroke-width="1.2"/>
<line x1="432.35" y1="360.95" x2="432.35" y2="352.45" stroke="#000" stroke-width="1.2"/>
<line x1="452.29" y1="360.95" x2="452.29" y2="352.45" stroke="#000" stroke-width="1.2"/>
<line x1="472.23" y1="360.95" x2="472.23" y2="352.45" stroke="#000" stroke-width="1.2"/>
<line x1="492.17" y1="360.95" x2="492.17" y2="352.45" stroke="#000" stroke-width="1.2"/>
<line x1="512.11" y1="360.95" x2="512.11" y2="352.45" stroke="#000" stroke-width="1.2"/>
<line x1="532.05" y1="360.95" x2="532.05" y2="352.45" stroke="#000" stroke-width="1.2"/>
<line x1="551.99" y1="360.95" x2="551.99" y2="352.45" stroke="#000" stroke-width="1.2"/>
<line x1="571.93" y1="360.95" x2="571.93" y2="352.45" stroke="#000" stroke-width="1.2"/>
<line x1="591.87" y1="360.95" x2="591.87" y2="352.45" stroke="#000" stroke-width="1.2"/>
<line x1="611.81" y1="360.95" x2="611.81" y2="352.45" stroke="#000" stroke-width="1.2"/>
<line x1="631.75" y1="360.95" x2="631.75" y2="352.45" stroke="#000" stroke-width="1.2"/>
<line x1="651.69" y1="360.95" x2="651.69" y2="352.45" stroke="#000" stroke-width="1.2"/>
<line x1="671.63" y1="360.95" x2="671.63" y2="352.45" stroke="#000" stroke-width="1.2"/>
<line x1="133.25" y1="360.95" x2="133.25" y2="342.15" stroke="#111" stroke-width="1"/>
<line x1="232.95" y1="360.95" x2="232.95" y2="342.15" stroke="#111" stroke-width="1"/>
<line x1="332.65" y1="360.95" x2="332.65" y2="342.15" stroke="#111" stroke-width="1"/>
<line x1="432.35" y1="360.95" x2="432.35" y2="342.15" stroke="#111" stroke-width="1"/>
<line x1="532.05" y1="360.95" x2="532.05" y2="342.15" stroke="#111" stroke-width="1"/>
<line x1="631.75" y1="360.95" x2="631.75" y2="342.15" stroke="#111" stroke-width="1"/>
<line x1="93.37" y1="480.5" x2="93.37" y2="472" stroke="#000" stroke-width="1.2"/>
<line x1="113.31" y1="480.5" x2="113.31" y2="472" stroke="#000" stroke-width="1.2"/>
<line x1="133.25" y1="480.5" x2="133.25" y2="472" stroke="#000" stroke-width="1.2"/>
<line x1="153.19" y1="480.5" x2="153.19" y2="472" stroke="#000" stroke-width="1.2"/>
<line x1="173.13" y1="480.5" x2="173.13" y2="472" stroke="#000" stroke-width="1.2"/>
<line x1="193.07" y1="480.5" x2="193.07" y2="472" stroke="#000" stroke-width="1.2"/>
<line x1="213.01" y1="480.5" x2="213.01" y2="472" stroke="#000" stroke-width="1.2"/>
<line x1="232.95" y1="480.5" x2="232.95" y2="472" stroke="#000" stroke-width="1.2"/>
<line x1="252.89" y1="480.5" x2="252.89" y2="472" stroke="#000" stroke-width="1.2"/>
<line x1="272.83" y1="480.5" x2="272.83" y2="472" stroke="#000" stroke-width="1.2"/>
<line x1="292.77" y1="480.5" x2="292.77" y2="472" stroke="#000" stroke-width="1.2"/>
<line x1="312.71" y1="480.5" x2="312.71" y2="472" stroke="#000" stroke-width="1.2"/>
<line x1="332.65" y1="480.5" x2="332.65" y2="472" stroke="#000" stroke-width="1.2"/>
<line x1="352.59" y1="480.5" x2="352.59" y2="472" stroke="#000" stroke-width="1.2"/>
<line x1="372.53" y1="480.5" x2="372.53" y2="472" stroke="#000" stroke-width="1.2"/>
<line x1="392.47" y1="480.5" x2="392.47" y2="472" stroke="#000" stroke-width="1.2"/>
<line x1="412.41" y1="480.5" x2="412.41" y2="472" stroke="#000" stroke-width="1.2"/>
<line x1="432.35" y1="480.5" x2="432.35" y2="472" stroke="#000" stroke-width="1.2"/>
<line x1="452.29" y1="480.5" x2="452.29" y2="472" stroke="#000" stroke-width="1.2"/>
<line x1="472.23" y1="480.5" x2="472.23" y2="472" stroke="#000" stroke-width="1.2"/>
<line x1="492.17" y1="480.5" x2="492.17" y2="472" stroke="#000" stroke-width="1.2"/>
<line x1="512.11" y1="480.5" x2="512.11" y2="472" stroke="#000" stroke-width="1.2"/>
<line x1="532.05" y1="480.5" x2="532.05" y2="472" stroke="#000" stroke-width="1.2"/>
<line x1="551.99" y1="480.5" x2="551.99" y2="472" stroke="#000" stroke-width="1.2"/>
<line x1="571.93" y1="480.5" x2="571.93" y2="472" stroke="#000" stroke-width="1.2"/>
<line x1="591.87" y1="480.5" x2="591.87" y2="472" stroke="#000" stroke-width="1.2"/>
<line x1="611.81" y1="480.5" x2="611.81" y2="472" stroke="#000" stroke-width="1.2"/>
<line x1="631.75" y1="480.5" x2="631.75" y2="472" stroke="#000" stroke-width="1.2"/>
<line x1="651.69" y1="480.5" x2="651.69" y2="472" stroke="#000" stroke-width="1.2"/>
<line x1="671.63" y1="480.5" x2="671.63" y2="472" stroke="#000" stroke-width="1.2"/>
<line x1="133.25" y1="480.5" x2="133.25" y2="461.7" stroke="#111" stroke-width="1"/>
<line x1="232.95" y1="480.5" x2="232.95" y2="461.7" stroke="#111" stroke-width="1"/>
<line x1="332.65" y1="480.5" x2="332.65" y2="461.7" stroke="#111" stroke-width="1"/>
<line x1="432.35" y1="480.5" x2="432.35" y2="461.7" stroke="#111" stroke-width="1"/>
<line x1="532.05" y1="480.5" x2="532.05" y2="461.7" stroke="#111" stroke-width="1"/>
<line x1="631.75" y1="480.5" x2="631.75" y2="461.7" stroke="#111" stroke-width="1"/>
<line x1="93.37" y1="600.1" x2="93.37" y2="591.6" stroke="#000" stroke-width="1.2"/>
<line x1="113.31" y1="600.1" x2="113.31" y2="591.6" stroke="#000" stroke-width="1.2"/>
<line x1="133.25" y1="600.1" x2="133.25" y2="591.6" stroke="#000" stroke-width="1.2"/>
<line x1="153.19" y1="600.1" x2="153.19" y2="591.6" stroke="#000" stroke-width="1.2"/>
<line x1="173.13" y1="600.1" x2="173.13" y2="591.6" stroke="#000" stroke-width="1.2"/>
<line x1="193.07" y1="600.1" x2="193.07" y2="591.6" stroke="#000" stroke-width="1.2"/>
<line x1="213.01" y1="600.1" x2="213.01" y2="591.6" stroke="#000" stroke-width="1.2"/>
<line x1="232.95" y1="600.1" x2="232.95" y2="591.6" stroke="#000" stroke-width="1.2"/>
<line x1="252.89" y1="600.1" x2="252.89" y2="591.6" stroke="#000" stroke-width="1.2"/>
<line x1="272.83" y1="600.1" x2="272.83" y2="591.6" stroke="#000" stroke-width="1.2"/>
<line x1="292.77" y1="600.1" x2="292.77" y2="591.6" stroke="#000" stroke-width="1.2"/>
<line x1="312.71" y1="600.1" x2="312.71" y2="591.6" stroke="#000" stroke-width="1.2"/>
<line x1="332.65" y1="600.1" x2="332.65" y2="591.6" stroke="#000" stroke-width="1.2"/>
<line x1="352.59" y1="600.1" x2="352.59" y2="591.6" stroke="#000" stroke-width="1.2"/>
<line x1="372.53" y1="600.1" x2="372.53" y2="591.6" stroke="#000" stroke-width="1.2"/>
<line x1="392.47" y1="600.1" x2="392.47" y2="591.6" stroke="#000" stroke-width="1.2"/>
<line x1="412.41" y1="600.1" x2="412.41" y2="591.6" stroke="#000" stroke-width="1.2"/>
<line x1="432.35" y1="600.1" x2="432.35" y2="591.6" stroke="#000" stroke-width="1.2"/>
<line x1="452.29" y1="600.1" x2="452.29" y2="591.6" stroke="#000" stroke-width="1.2"/>
<line x1="472.23" y1="600.1" x2="472.23" y2="591.6" stroke="#000" stroke-width="1.2"/>
<line x1="492.17" y1="600.1" x2="492.17" y2="591.6" stroke="#000" stroke-width="1.2"/>
<line x1="512.11" y1="600.1" x2="512.11" y2="591.6" stroke="#000" stroke-width="1.2"/>
<line x1="532.05" y1="600.1" x2="532.05" y2="591.6" stroke="#000" stroke-width="1.2"/>
<line x1="551.99" y1="600.1" x2="551.99" y2="591.6" stroke="#000" stroke-width="1.2"/>
<line x1="571.93" y1="600.1" x2="571.93" y2="591.6" stroke="#000" stroke-width="1.2"/>
<line x1="591.87" y1="600.1" x2="591.87" y2="591.6" stroke="#000" stroke-width="1.2"/>
<line x1="611.81" y1="600.1" x2="611.81" y2="591.6" stroke="#000" stroke-width="1.2"/>
<line x1="631.75" y1="600.1" x2="631.75" y2="591.6" stroke="#000" stroke-width="1.2"/>
<line x1="651.69" y1="600.1" x2="651.69" y2="591.6" stroke="#000" stroke-width="1.2"/>
<line x1="671.63" y1="600.1" x2="671.63" y2="591.6" stroke="#000" stroke-width="1.2"/>
<line x1="133.25" y1="600.1" x2="133.25" y2="581.3" stroke="#111" stroke-width="1"/>
<line x1="232.95" y1="600.1" x2="232.95" y2="581.3" stroke="#111" stroke-width="1"/>
<line x1="332.65" y1="600.1" x2="332.65" y2="581.3" stroke="#111" stroke-width="1"/>
<line x1="432.35" y1="600.1" x2="432.35" y2="581.3" stroke="#111" stroke-width="1"/>
<line x1="532.05" y1="600.1" x2="532.05" y2="581.3" stroke="#111" stroke-width="1"/>
<line x1="631.75" y1="600.1" x2="631.75" y2="581.3" stroke="#111" stroke-width="1"/>
<line x1="82.9" y1="241.35" x2="682.1" y2="241.35" stroke="#000" stroke-width="1.2"/>
<line x1="82.9" y1="360.95" x2="682.1" y2="360.95" stroke="#000" stroke-width="1.2"/>
<line x1="82.9" y1="480.5" x2="682.1" y2="480.5" stroke="#000" stroke-width="1.2"/>
<line x1="82.9" y1="600.2" x2="682.1" y2="600.2" stroke="#222" stroke-width="1"/>
<line x1="82.9" y1="2.3" x2="682.1" y2="2.3" stroke="#000" stroke-width="1.3"/>
<line x1="83.4" y1="2.3" x2="83.4" y2="600.1" stroke="#333" stroke-width="1"/>
<line x1="681.6" y1="2.3" x2="681.6" y2="600.1" stroke="#555" stroke-width="1"/>
<text x="72.4" y="71.4" font-size="20.5" text-anchor="end" stroke="#000" stroke-width="0.3">1</text>
<text x="30.4" y="154.2" font-size="20.5" stroke="#000" stroke-width="0.3">10</text>
<text x="51" y="146.8" font-size="15" textLength="19.6" lengthAdjust="spacingAndGlyphs" stroke="#000" stroke-width="0.3">−1</text>
<text x="30.4" y="236.7" font-size="20.5" stroke="#000" stroke-width="0.3">10</text>
<text x="51" y="229.3" font-size="15" textLength="19.6" lengthAdjust="spacingAndGlyphs" stroke="#000" stroke-width="0.3">−2</text>
<text x="72.6" y="366.15" font-size="20.5" text-anchor="end" stroke="#000" stroke-width="0.3">0</text>
<text x="72.6" y="336.27" font-size="20.5" text-anchor="end" stroke="#000" stroke-width="0.3">0.5</text>
<text x="72.6" y="306.4" font-size="20.5" text-anchor="end" stroke="#000" stroke-width="0.3">1</text>
<text x="72.6" y="276.52" font-size="20.5" text-anchor="end" stroke="#000" stroke-width="0.3">1.5</text>
<text x="72.6" y="485.7" font-size="20.5" text-anchor="end" stroke="#000" stroke-width="0.3">0</text>
<text x="72.6" y="455.82" font-size="20.5" text-anchor="end" stroke="#000" stroke-width="0.3">0.5</text>
<text x="72.6" y="425.95" font-size="20.5" text-anchor="end" stroke="#000" stroke-width="0.3">1</text>
<text x="72.6" y="396.07" font-size="20.5" text-anchor="end" stroke="#000" stroke-width="0.3">1.5</text>
<text x="72.6" y="605.3" font-size="20.5" text-anchor="end" stroke="#000" stroke-width="0.3">0</text>
<text x="72.6" y="575.43" font-size="20.5" text-anchor="end" stroke="#000" stroke-width="0.3">0.5</text>
<text x="72.6" y="545.55" font-size="20.5" text-anchor="end" stroke="#000" stroke-width="0.3">1</text>
<text x="72.6" y="515.68" font-size="20.5" text-anchor="end" stroke="#000" stroke-width="0.3">1.5</text>
<text x="133.25" y="624" font-size="20.5" text-anchor="middle" stroke="#000" stroke-width="0.3">3</text>
<text x="232.95" y="624" font-size="20.5" text-anchor="middle" stroke="#000" stroke-width="0.3">4</text>
<text x="332.65" y="624" font-size="20.5" text-anchor="middle" stroke="#000" stroke-width="0.3">5</text>
<text x="432.35" y="624" font-size="20.5" text-anchor="middle" stroke="#000" stroke-width="0.3">6</text>
<text x="532.05" y="624" font-size="20.5" text-anchor="middle" stroke="#000" stroke-width="0.3">7</text>
<text x="631.75" y="624" font-size="20.5" text-anchor="middle" stroke="#000" stroke-width="0.3">8</text>
<text x="505.6" y="649" font-size="20.5" font-style="italic" textLength="10.8" lengthAdjust="spacingAndGlyphs" stroke="#000" stroke-width="0.3">n</text>
<text x="517.6" y="653.2" font-size="15" textLength="22.4" lengthAdjust="spacingAndGlyphs" stroke="#000" stroke-width="0.3">jets</text>
<text x="542.4" y="649" font-size="20.5" textLength="5.6" lengthAdjust="spacingAndGlyphs" stroke="#000" stroke-width="0.3">(</text>
<text x="549.6" y="649" font-size="20.5" font-style="italic" textLength="11.6" lengthAdjust="spacingAndGlyphs" stroke="#000" stroke-width="0.3">p</text>
<line x1="563.2" y1="653.2" x2="575.4" y2="653.2" stroke="#000" stroke-width="1"/>
<line x1="569.3" y1="643.8" x2="569.3" y2="653.2" stroke="#000" stroke-width="1"/>
<path d="M585.4 639.0L600.8 644.7L585.4 650.4" fill="none" stroke="#000" stroke-width="1.1"/>
<text x="607" y="649" font-size="20.5" textLength="19.2" lengthAdjust="spacingAndGlyphs" stroke="#000" stroke-width="0.3">25</text>
<text x="630.8" y="649" font-size="20.5" textLength="39.4" lengthAdjust="spacingAndGlyphs" stroke="#000" stroke-width="0.3">GeV</text>
<text x="672.6" y="649" font-size="20.5" textLength="6" lengthAdjust="spacingAndGlyphs" stroke="#000" stroke-width="0.3">)</text>
<g transform="translate(16.1,135.6) rotate(-90)">
<text x="0" y="0" font-size="22" textLength="11.6" lengthAdjust="spacingAndGlyphs" stroke="#000" stroke-width="0.3">d</text>
<text x="12.6" y="0" font-size="22" font-style="italic" textLength="13.2" lengthAdjust="spacingAndGlyphs" stroke="#000" stroke-width="0.3">σ</text>
<line x1="28.6" y1="1.6" x2="39.2" y2="-13.4" stroke="#000" stroke-width="1.15"/>
<text x="38.6" y="0" font-size="22" textLength="11.6" lengthAdjust="spacingAndGlyphs" stroke="#000" stroke-width="0.3">d</text>
<text x="50.8" y="0" font-size="22" font-style="italic" textLength="12" lengthAdjust="spacingAndGlyphs" stroke="#000" stroke-width="0.3">n</text>
<text x="64" y="3.9" font-size="16" textLength="23" lengthAdjust="spacingAndGlyphs" stroke="#000" stroke-width="0.3">jets</text>
<text x="95" y="0" font-size="22" textLength="37.8" lengthAdjust="spacingAndGlyphs" stroke="#000" stroke-width="0.3">[pb]</text>
</g>
</g>
</svg>
</body></html>
